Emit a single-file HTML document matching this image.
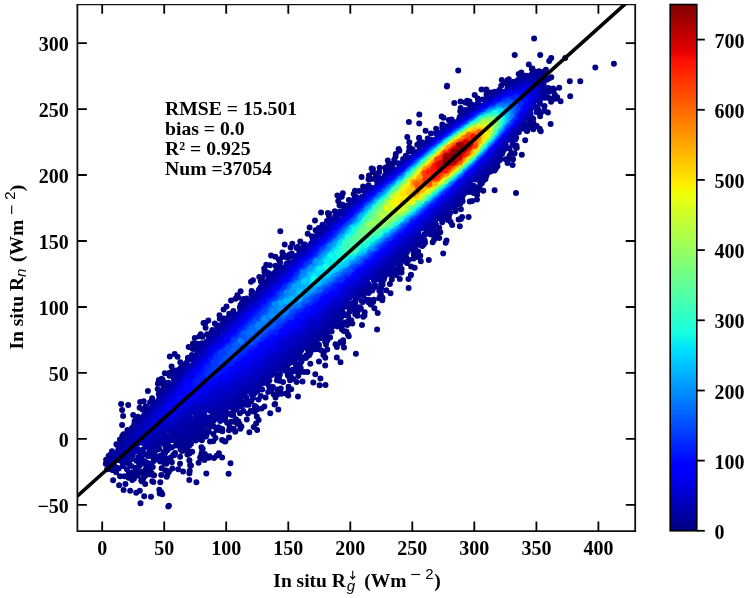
<!DOCTYPE html>
<html><head><meta charset="utf-8"><style>
html,body{margin:0;padding:0;background:#fff;width:748px;height:598px;overflow:hidden}
svg{display:block;will-change:transform;filter:blur(0.4px)}
text{font-family:"Liberation Serif",serif;font-weight:bold;fill:#000}
.tl{font-size:20px}
.ann{font-size:19.7px}
.lab{font-size:19.5px}
.sup{font-family:"Liberation Sans",sans-serif;font-weight:normal}
</style></head><body>
<svg width="748" height="598" viewBox="0 0 748 598">
<defs><linearGradient id="jet" x1="0" y1="1" x2="0" y2="0"><stop offset="0" stop-color="#000080"/><stop offset="0.11" stop-color="#0000ff"/><stop offset="0.125" stop-color="#0000ff"/><stop offset="0.34" stop-color="#00dbff"/><stop offset="0.35" stop-color="#00e5f7"/><stop offset="0.375" stop-color="#15ffe2"/><stop offset="0.5" stop-color="#7bff7b"/><stop offset="0.64" stop-color="#efff08"/><stop offset="0.65" stop-color="#f7f600"/><stop offset="0.66" stop-color="#ffec00"/><stop offset="0.89" stop-color="#ff1300"/><stop offset="0.91" stop-color="#e80000"/><stop offset="1" stop-color="#800000"/></linearGradient>
<clipPath id="pc"><rect x="77.4" y="4.5" width="557.8000000000001" height="526.5"/></clipPath></defs>
<g clip-path="url(#pc)">
<g stroke-width="6.0" stroke-linecap="round" fill="none"><path stroke="#000086" d="M595.3 67.5h0M613.9 63.7h0M569.8 81.2h0M580.3 81.2h0M570.2 96.2h0M565.2 58.1h0M534.1 38.6h0M514.7 55.1h0M540.2 55.1h0M551.2 58.1h0M549.2 61.1h0M559.2 87.8h0M557.2 97.2h0M560.6 101.2h0M550.6 123.9h0M168.9 505.7h0M113.1 480.3h0M119.1 485.3h0M130.2 490.7h0M136.2 492.7h0M144.2 496.3h0M141.8 481.3h0M152.2 481.3h0M160.3 482.3h0M161.3 492.3h0M162.3 494.3h0M168.3 506.4h0M146.2 474.3h0M165.3 470.2h0M178.3 469.2h0M189.4 473.2h0M196.4 482.3h0M120.1 476.3h0M116.1 472.2h0M107.1 469.2h0M121.1 404h0M122.1 410h0M123.1 416.1h0M122.1 425.1h0M128.2 405h0M133.2 415.1h0M134.2 425.1h0M140.2 402h0M516 193.1h0M458.2 70.5h0M228.6 473.8h0M123.6 490h0M280.3 231.3h0M447.1 85.7h0M325.5 385h0M446.9 86.5h0M140.5 503.2h0M408.9 122h0M230.5 463.2h0M419.3 114.6h0M355.9 353.8h0M377.1 329.4h0M319.6 385.2h0M206.3 473.4h0M419.2 123.5h0M443.2 253.4h0M189.3 480.1h0M408.6 288h0M320.4 378.6h0M540.8 131.2h0M169.8 356.5h0M151 496.7h0M159.7 493.6h0M340.5 362.3h0M222.1 457.5h0M494.6 190.2h0M159.3 489.8h0M407.3 136.9h0M337.4 195.5h0M313.3 382.6h0M249.4 432.3h0M284.7 244.4h0M214 457.9h0M454.3 103h0M428.8 260.1h0M216.6 455.7h0M377.7 312.9h0M271.1 255.4h0M257.1 430.1h0M371.6 168.6h0M298 396.4h0M174.7 354h0M361.6 177h0M372.9 169h0M539.8 129.7h0M468.6 217h0M445.7 242.8h0M218.9 453.3h0M539.7 128.8h0M147.9 390.9h0M481.5 89.6h0M336.8 357.4h0M209.5 456.2h0M344 347.6h0M208.8 457.7h0M125.4 483.9h0M204.5 460.1h0M325.2 365.5h0M198.6 462.7h0M315.3 374.2h0M205.5 322.7h0M459.8 226.2h0M342.8 193.2h0M521.8 154.7h0M446.5 240.4h0M512.6 165h0M278.3 409.4h0M203.5 323.1h0M528.8 64.6h0M321.1 212.6h0M190.1 465.2h0M139.8 490.7h0M408.5 278.9h0M189.7 470.8h0M362 325h0M410.9 275.2h0M256.1 423.4h0M208.3 320.6h0M253.7 426.9h0M398.6 149h0M555.2 98.8h0M460.5 101.6h0M183.1 471.4h0M302.5 381.5h0M225.4 441.4h0M161.6 378.8h0M395.8 153.9h0M536.8 125.9h0M275.4 256.8h0M288.3 395.5h0M270.2 413.3h0M513.1 159.3h0M202.4 458.4h0M282.4 252.4h0M547.9 112.6h0M372.7 171.9h0M420.8 261.3h0M341.8 196.7h0M441.6 116.6h0M231 300.4h0M153.3 481.9h0M460.9 218.9h0M266.3 264.7h0M554 97.5h0M382.3 300.2h0M315 220.4h0M200.1 457.6h0M191 465.6h0M341 342.8h0M285.8 393.4h0M343.2 342.2h0M166.7 476.8h0M167.4 474.8h0M258.6 420h0M348.8 336.3h0M414.7 267.8h0M462.1 217h0M409.3 142.2h0M177.5 356.7h0M390.5 293.3h0M201.3 454.2h0M369 175.5h0M387.8 160.5h0M224.8 441.6h0M411 274.8h0M145.2 483.9h0M237.3 295.3h0M240.6 291.2h0M525.2 140.3h0M551.1 101.8h0M425.6 130.8h0M533.3 129.3h0M325.3 357.8h0M379.7 167.8h0M275.1 404h0M501.8 80.1h0M307.4 372.1h0M343.1 340.2h0M291.2 389.2h0M139.6 407.7h0M223.6 309.4h0M399.4 150.8h0M264.2 268.6h0M157.9 383.5h0M296.6 382h0M229 437.6h0M204.9 453.9h0M143.7 401.2h0M158.9 379.9h0M477 199.5h0M274.5 404.4h0M545.9 69.8h0M240.3 428.8h0M319 361.6h0M288.6 390.2h0M379.3 298.3h0M364.5 315.5h0M467.1 100.8h0M171.6 366.4h0M253 280.2h0M161.2 474.9h0M474.7 95.1h0M486.3 89.4h0M465.3 102.6h0M226.5 306.6h0M419.1 137.7h0M336.9 347.1h0M219.5 315.2h0M251 281.7h0M374.4 308.2h0M335.5 344.2h0M189.4 460.7h0M172.4 468.5h0M194.8 338.1h0M338.2 201.1h0M340.6 341.9h0M222.1 440.1h0M205.6 327.8h0M554.8 94.8h0M382.5 297.8h0M164.8 373.2h0M347.9 334.6h0M235.5 298.7h0M363.3 316.8h0M269.8 265.3h0M261.6 408.6h0M399.8 279.1h0M284 255.3h0M307.3 372h0M256.8 416.6h0M168.9 471.7h0M189.4 460.3h0M241.4 426.6h0M309.6 227.6h0M540.1 116.3h0M200.8 334.2h0M514.6 153.4h0M141.2 480.6h0M180 463.7h0M298.2 375.9h0M518.7 73.9h0M292.3 243.8h0M233.7 428.8h0M385.5 167.6h0M375.6 173.8h0M521.3 72.5h0M239.6 423.9h0M235.2 431.7h0M364 315.4h0M162.5 379.4h0M483.3 190.7h0M395.6 156.6h0M143.1 478.8h0M419 137.9h0M166.8 470.7h0M411.1 266.5h0M458.6 219.5h0M106.1 459.7h0M202.1 451.3h0M188.7 347.1h0M439.2 238.1h0M123.5 434.3h0M105.8 463.8h0M215.5 438h0M544.5 110.8h0M364.7 312.3h0M394.3 159.7h0M507.5 163.1h0M389.9 283.9h0M202.7 448.8h0M277.4 394.4h0M132.4 479.2h0M373.1 302h0M290.6 247.5h0M531.9 69.3h0M452.2 224.9h0M288.5 386.7h0M420.3 255.7h0M132.3 480h0M508.8 79.3h0M281.3 393.8h0M346.3 331.5h0M264.4 406.4h0M120 439.6h0M264.4 272.1h0M116.4 444.2h0M368.5 179.2h0M532.4 68.4h0M192.2 451.8h0M327.3 349.5h0M201.4 447.3h0M472.2 201h0M259.3 277h0M199.5 336.2h0M237.5 423.8h0M136 417.3h0M238.2 297.5h0M246.8 419.5h0M278.9 259.8h0M443.5 117.8h0M323.4 354.9h0M327.9 213.1h0M386.3 290.2h0M154.1 475.3h0M532.2 127.5h0M304 371.9h0M507.7 160.2h0M380.9 293.4h0M253 411.5h0M380.2 295.9h0M180.1 456.8h0M144.1 475.9h0M533.5 123h0M540.5 113.5h0M275.5 397.5h0M352.3 323.5h0M137.8 475.4h0M108.6 456.1h0M310.3 363.8h0M432.7 242.2h0M213.2 441.3h0M355 190.7h0M169.6 375h0M122.3 436h0M516.8 147.7h0M112.3 469.9h0M257.4 409.3h0M418.7 254.9h0M193 343.5h0M229.6 427.1h0M343.8 331.1h0M307.7 233.8h0M477.1 195.1h0M145.2 476h0M293.1 378.9h0M460.7 108h0M450.7 222.1h0M128.5 477.7h0M229 430.2h0M189.2 452.7h0M127.4 476.8h0M503.9 83.1h0M323.8 353.1h0M171.9 462.3h0M409.3 147.3h0M440.3 232.2h0M222.4 431.2h0M486.7 92.4h0M469.8 201.4h0M266.3 272h0M516.5 145.8h0M522 74.6h0M388.8 164.2h0M468.3 103.6h0M254.7 411.7h0M339.5 205.2h0M189.5 453.6h0M553.8 90h0M373.8 299.7h0M142.5 409.5h0M469.5 101.6h0M434 239.7h0M157.7 389h0M477.8 190.7h0M238.3 421.3h0M137.1 472.6h0M347.2 325h0M363.1 186.5h0M112 451.3h0M161.6 468.2h0M229.3 429.7h0M210 441.6h0M298.3 372.8h0M141.3 471.7h0M152.8 467.1h0M187.4 454.5h0M387.2 166.8h0M133.9 478.8h0M401.5 272.5h0M368.8 302.4h0M152.1 398.2h0M370.7 304.4h0M329.1 213.5h0M543.5 72.3h0M393.1 163.6h0M291.1 378.2h0M169.2 373h0M334.8 211.2h0M134.6 421.1h0M151.6 472.9h0M379.2 172.1h0M507.8 79.9h0M282.3 256.9h0M150.6 474.6h0M132.4 472.2h0M416.8 256.9h0M357.6 315.7h0M115.3 471h0M436.2 237.5h0M188.3 451.1h0M256.4 408.1h0M328.8 215.6h0M435.9 236.3h0M326 344.5h0M516.1 148h0M551.3 77.3h0M399.2 272.5h0M544.5 106.1h0M180.3 362.2h0M340.6 204.8h0M233.6 421.8h0M509.5 155.8h0M219.8 318.8h0M163.5 381.8h0M262.4 277.4h0M138.8 472.8h0M371.1 179.1h0M299 373h0M248 413.4h0M347 324.1h0M438.2 233.6h0M111.2 469.5h0M202.4 336.7h0M357.2 315.8h0M501.2 85.8h0M300.3 241.6h0M406.9 263.1h0M417.3 144.7h0M192.8 349h0M413.7 258.6h0M526.8 131h0M200.8 434.9h0M124.4 476.2h0M553.1 88.5h0M473.9 193h0M391.8 279.6h0M145.9 406.3h0M527.2 131h0M127.4 430h0M477.8 98.6h0M290.8 376.3h0M527.8 128.7h0M495.7 169.1h0M544.3 106.3h0M353.7 194.1h0M265.6 397.5h0M109.3 466.4h0M321.5 350.6h0M187 450.7h0M412.5 149.2h0M347.8 321.8h0M220.7 429.2h0M341.8 204.5h0M132.4 473.8h0M360.8 308.8h0M442.3 124.5h0M170.8 457.5h0M172.3 371.2h0M511.2 152.7h0M218.7 430.1h0M290 380.2h0M538.5 110.1h0M280.8 388.4h0M273.8 394.4h0M134.5 472.4h0M275.5 265.8h0M413.8 255.2h0M184.6 447h0M166.3 463.7h0M182 450.9h0M239.9 413.3h0M256.1 406.9h0M129 474.4h0M490.5 92.4h0M310 353.4h0M549.2 91.7h0M418.9 143.6h0M130.3 474.2h0M109.3 457.8h0M250.7 410.7h0M169.5 375.7h0M166.7 461.4h0M395.9 275h0M289.3 377.2h0M548.7 98h0M341.7 327.6h0M132 428.1h0M164.5 463.6h0M201.9 440.3h0M235.9 419.2h0M494.5 170.5h0M277.3 389.5h0M214.8 323.6h0M543.8 71.8h0M141.3 472.1h0M528.8 123.6h0M233.4 310.9h0M196.1 343.9h0M460.9 209.3h0M327.3 340.6h0M377.2 175.2h0M300.7 368.1h0M483 99.5h0M128.9 472.8h0M436.1 128.8h0M551.8 89h0M497.5 166.3h0M431 133.4h0M342 329.5h0M187.8 445.7h0M505.7 159.2h0M145.4 469.7h0M189.3 441.6h0M255.4 408.9h0M348.9 200.1h0M460.2 111.3h0M152.1 399.7h0M486.5 94.5h0M315.6 230.2h0M136.8 418.6h0M351.3 320.2h0M439.2 227.8h0M408.8 151.5h0M230.9 421.8h0M150.8 468.1h0M415.7 250.3h0M135.1 472.4h0M359 191h0M222.2 428.9h0M174.4 453.9h0M175 452.9h0M227.1 422.8h0M424.5 243.1h0M147.9 470.6h0M368.6 185.2h0M216.6 429.7h0M194.3 347h0M398.7 271h0M549.6 91h0M267.9 274.4h0M355.2 314.3h0M137.9 416.7h0M189.1 445.7h0M260.7 281.2h0M110.6 454.6h0M292.4 370.1h0M260.8 396.1h0M385.7 169.2h0M343.2 205.1h0M251.6 291.1h0M163.3 385.4h0M138.4 471.3h0M375.5 177.8h0M366.4 299.7h0M490.5 92.5h0M267.6 274.1h0M363.9 187h0M544.4 73.8h0M539 71.3h0M198.6 438.9h0M375.1 179.1h0M485.5 179h0M330.1 337.4h0M182.6 449.6h0M213.4 433.9h0M479.6 186.4h0M481.8 183.2h0M207.1 334.3h0M145.9 469.2h0M342.8 205.9h0M527.9 125.2h0M117.9 445.2h0M287.8 375.2h0M135.7 467.8h0M110 461.2h0M356.6 308h0M164.5 456.1h0M286.9 257.5h0M533.2 118.7h0M200.9 434.7h0M377.3 177.1h0M173.2 455.1h0M325.2 341.7h0M401.6 269.1h0M368.8 299.8h0M325 338.9h0M357.7 311.3h0M520 76.4h0M289.6 255.3h0"/>
<path stroke="#000092" d="M283.1 381.9h0M163.5 460.5h0M293.7 371.3h0M359.7 307.3h0M297.9 246.8h0M296.6 247.9h0M190.9 444h0M269.9 389h0M223.6 318.4h0M379.3 290.7h0M269.1 273.2h0M382.6 284.6h0M262.5 282.6h0M358.4 307.9h0M243.3 299h0M254.8 406h0M536.4 72.1h0M298.5 366.9h0M206 436.4h0M198.3 343.7h0M318.8 227.9h0M268.2 391.9h0M360.4 307.7h0M289.6 254.6h0M167.5 458.9h0M128.2 432.8h0M184.8 442.7h0M535.4 71.7h0M418.1 251.6h0M322.5 224.7h0M233.3 415.6h0M111.6 453.9h0M116.5 467.7h0M150.1 402.2h0M420.1 245h0M381.1 288.4h0M206.4 435.2h0M471.8 104.7h0M194.5 438.4h0M527.1 127.9h0M144.1 409.1h0M271.4 389.9h0M314.8 349.3h0M208.7 431.8h0M310.8 351.1h0M395.1 270.9h0M326.7 339h0M400.1 263.9h0M434.9 231h0M146.6 464.5h0M395.7 272h0M161.6 455.7h0M455.4 211.2h0M309 350.9h0M422 142.3h0M312.8 237.1h0M147 465.8h0M341.3 326.6h0M301.1 362h0M243.3 410.9h0M280.1 262.2h0M289.5 374.2h0M118.7 468.4h0M289.5 371h0M442 220.3h0M305.9 357.9h0M451.6 119.6h0M448.9 119.9h0M300.5 363h0M339.1 326.1h0M187.6 440.4h0M229.2 313.8h0M153.7 461.1h0M403.8 260.1h0M186.2 446.5h0M160.2 461.6h0M242.1 302.6h0M390.5 168.3h0M400 266.2h0M295.6 363.8h0M395.1 269.2h0M379 177.7h0M499.3 89.9h0M156.4 458.1h0M465.7 109.9h0M529.7 120.7h0M538.1 72.1h0M216.4 325h0M152.9 402.4h0M151 463.4h0M448.9 217.3h0M126.9 469.3h0M326.9 221h0M154.6 455.3h0M394.2 272.6h0M318.2 349.2h0M319 346h0M118.5 468.3h0M174.3 454.9h0M158.7 393.9h0M288.2 257.8h0M336.2 215h0M293.1 369.6h0M127.7 434.1h0M134.6 423.8h0M218.5 427.2h0M155.2 458.2h0M367.4 300h0M258.6 399.6h0M181.7 365.1h0M229.7 314.9h0M532.6 74.6h0M409 259.8h0M500.1 159.7h0M483.4 180.6h0M423.6 244.6h0M345.3 322.6h0M301.6 361.2h0M447.9 219.9h0M295.9 363.9h0M391 274.8h0M181.9 449.2h0M201.9 434h0M276.5 269.8h0M201.1 434.6h0M308.4 351.9h0M379.9 279.8h0M196.8 438.6h0M497.6 161.6h0M306.2 355.4h0M287 256.5h0M180.3 368.4h0M195.7 440.5h0M462.6 201.2h0M307.8 355.9h0M311.2 350.3h0M323.1 338.6h0M328.7 220.3h0M385.9 171.1h0M442.2 128.1h0M145.3 411.2h0M204.2 436.7h0M545.6 95.5h0M175.7 370.4h0M420.3 143.5h0M522.9 128.4h0M175.9 370.7h0M279.4 380.7h0M276.9 380.3h0M548.9 78.5h0M443.1 126.5h0M373 288.6h0M295.7 367.9h0M208.6 430.5h0M299.3 357.9h0M327.4 336.5h0M494.5 91.7h0M148.6 408.5h0M180.5 449.3h0M455 208.4h0M353.4 308.9h0M314.5 344.3h0M177.5 370.6h0M164.1 452.8h0M329.8 220.7h0M382.5 282.3h0M508.1 84.4h0M517.9 79.9h0M246 403.4h0M220.2 421.1h0M509.5 148.6h0M197.5 347.8h0M362.9 301.9h0M348.1 316.1h0M231.7 415h0M449.9 212.9h0M187.9 358.5h0M309.8 351.7h0M138.8 462.7h0M491 171.3h0M122.8 466.1h0M309 355.3h0M331.6 331.6h0M413.1 251.1h0M142.6 463.7h0M173.1 376.2h0M225.2 420.1h0M486.5 175.6h0M480 181.8h0M406.1 257.2h0M288.4 370.6h0M407.4 259.2h0M137.3 422.5h0M386.1 274.4h0M294.2 360.9h0M491.8 170.2h0M329.6 331h0M285 370.7h0M472.4 192.3h0M545.1 95.3h0M396 269.5h0M223.3 319.6h0M272.9 387.1h0M430.4 233.3h0M161.3 458.9h0M111.5 464.2h0M146.2 412.1h0M422.3 246.1h0M212.4 330.1h0M388.8 170.4h0M463 112.3h0M367.5 289.7h0M168.3 382.7h0M384.7 276.4h0M526.2 75.8h0M336.4 213.7h0M204.2 431.3h0M536.6 112.2h0M240.6 305h0M378.8 178.6h0M287 367.8h0M368.6 293.1h0M432.9 229h0M211.6 422.1h0M337.5 326.4h0M110.2 463.3h0M279.5 266.6h0M248.6 404.8h0M160.5 394.1h0M277.4 375.2h0M309.9 351.2h0M278.9 378.1h0M403.1 260.3h0M146.9 462.7h0M125.5 437.9h0M512.6 144.8h0M191.9 355h0M112.9 466.7h0M194.9 433.4h0M210.5 334.5h0M111.7 456.3h0M366.8 188.6h0M544.7 75.3h0M312.7 237.9h0M497.6 162.3h0M520.4 77.6h0M379.1 177.8h0M450.1 121.3h0M213.6 426.4h0M492.6 168.9h0M427.7 138.4h0M279.9 374.5h0M159.1 394.7h0M299.1 356.3h0M298.7 357.2h0M189.7 440h0M200.2 434.1h0M162.8 392.7h0M354.9 197.7h0M531.6 74.6h0M424.7 240.5h0M184.2 364.5h0M268.2 275.5h0M301.5 357.3h0M159.9 457.7h0M178.6 370h0M425 234.7h0M160.7 455.5h0M277.4 378h0M393.6 169.1h0M548.6 88.5h0M318.9 344.7h0M496.3 166.6h0M361.6 301.1h0M251.3 400.9h0M251.5 294.4h0M521.8 78h0M220.8 420.6h0M200.1 431h0M493.4 169.1h0M259.1 289.6h0M229.2 413.7h0M430.7 234.5h0M183.9 441.8h0M498.7 160.7h0M425 242.4h0M423.6 143.3h0M140.1 419h0M198.4 436.2h0M181.9 366.3h0M241.5 401.4h0M442.2 222.3h0M153.3 402.5h0M491.1 170.5h0M153.7 460.3h0M155.1 455.5h0M162.4 390.6h0M209.3 425.8h0M139.2 466h0M225.6 318.4h0M346.9 205.8h0M496.5 164.9h0M334.6 217.5h0M375.6 286.4h0M343.6 315.1h0M352.7 306.8h0M252 292.5h0M308.7 352.4h0M269.4 380.4h0M127 462.1h0M188.3 359h0M474.2 188.5h0M219.3 416.8h0M129.6 433.1h0M457.7 204.3h0M405.8 155.8h0M198.9 345.7h0M356.3 197h0M172.9 439.9h0M478 102.5h0M291.8 253.6h0M253 398h0M268.8 385.7h0M383.8 279.5h0M529.2 75.9h0M548.2 87.9h0M165.3 452.5h0M349.5 311.7h0M448.3 211.6h0M211.3 332.5h0M446.3 215h0M339.9 211.6h0M372.9 286.9h0M165.7 445.7h0M167.4 450.2h0M531 117.3h0M309.1 348.6h0M246.5 298.5h0M518.8 132.3h0M335.1 216.4h0M544.8 97.7h0M514.7 137.4h0M381.2 284h0M422 241.9h0M513.5 81.8h0M176.5 442.9h0M464.1 111.6h0M474.5 186.8h0M187.9 357.8h0M541.1 79.3h0M539.9 103.7h0M202.1 343.3h0M317.2 233.1h0M494.9 94.6h0M468.3 191.9h0M131.2 465.9h0M394 264.7h0M152.7 405.9h0M488.8 172.3h0M529.1 77.3h0M155.8 459.4h0M211.1 335.9h0M142.9 453h0M176 445.4h0M188.7 440.1h0M470.3 107.2h0M138.7 457.4h0M363.9 190.7h0M164 452.1h0M173.7 378.6h0M472.9 189h0M181.9 371.3h0M350.2 307.9h0M137.7 422.2h0M547.7 90.5h0M494.5 166.1h0M311.8 236.2h0M165.1 450.9h0M240.1 405.9h0M219.1 327.8h0M341.1 317.4h0M119.1 447.3h0M386.9 173.8h0M512.2 82.4h0M245.2 301.2h0M460.2 203.7h0M398.3 163.2h0M114.2 465h0M170.5 447.7h0M423.7 143h0M403.1 159.1h0M547.4 89.7h0M470.2 109.3h0M277 272.1h0M330.9 219.7h0M316.7 342.4h0M141.4 457.4h0M423.7 239.6h0M286.9 371.4h0M457.5 203.8h0M318.9 338.5h0M401 262.3h0M118.9 459.9h0M373 287.6h0M126.9 461.1h0M144.8 461.3h0M372.3 290.4h0M180 443.5h0M323.4 332.5h0M145.2 454.6h0M377 181.2h0M413.9 247.9h0M354.6 304.8h0M343.5 313.6h0M148.3 456h0M458.2 203.7h0M449.8 213.6h0M538.6 74.4h0M153.2 454.8h0M353 309.7h0M505.1 148.6h0M307.3 348.7h0M230.8 315h0M352.8 306.8h0M286.4 364h0M253 292.5h0M335.9 215.3h0M326.8 332.5h0M529.1 75.7h0M184.8 436.7h0M363.5 295.2h0M145.7 411.7h0M222.2 324.2h0M212.4 333.6h0M286.6 368.4h0M128.3 463.3h0M461.7 112.7h0M266.3 381h0M326.2 334.5h0M499.4 91.4h0M141.4 460.7h0M152.1 403.8h0M121.9 444.2h0M214.6 418.9h0M415.3 245.3h0M198.4 349.8h0M529.1 119.5h0M340.1 321.7h0M417.6 244.6h0M209.4 421.4h0M327.1 330.9h0M214.9 331.1h0M300.7 250.4h0M345.3 315.1h0M196.1 433.6h0M179.1 439.7h0M323.6 334h0M233 407.7h0M443.7 216.7h0M352.3 303.8h0M355.1 303.4h0M499.3 160.4h0M171.9 447.2h0M326.7 331.2h0M110.9 459.2h0M444.4 218.4h0M151.6 455.9h0M406.9 252.3h0M484.9 177.1h0M375.5 286.4h0M112.3 461.2h0M228 413.2h0M502.3 153.6h0M262.7 286.6h0M136.4 460.7h0M176.7 443h0M500.2 158.1h0M486.9 170.4h0M271.6 275.5h0M262.1 288.2h0M349.9 309.2h0M225.3 417.4h0M443.3 129.1h0M282 366.8h0M337.5 319.1h0M353.7 199.8h0M255 392.8h0M178.4 440.6h0M413.6 153h0M266.9 282.1h0M265.9 383h0M546.8 79.7h0M179.1 438.6h0M419.9 147.1h0M433.5 229.6h0M117.4 454.5h0M246.1 404.8h0M202.8 429.1h0M238.7 401h0M192.2 356.1h0M197.1 350.4h0M436 133.2h0M338.1 213.4h0M237.3 404.4h0M181.3 435.4h0M528.1 76.9h0M141.6 462.6h0M199.6 430.7h0M497.8 156.8h0M480.1 179.6h0M303.9 244.5h0M450.9 121.4h0M126.2 460.8h0M144.1 415.1h0M366.6 188.9h0M236.7 409.4h0M167.9 443.6h0M177.8 442.3h0M545.3 79.8h0M369.1 286.2h0M530.4 76.4h0M279.5 375.6h0M415.1 246.2h0M187.4 438.1h0M388.9 268.6h0M322.9 334.6h0M367.5 291.6h0M176.6 439.7h0M312.7 341.4h0M137.5 460.7h0M512.3 139.4h0M266.6 382.1h0M156.2 449.1h0M209.4 336.4h0M218.6 415.9h0M155.5 450.7h0M161 443.6h0M233 412.5h0M454.6 206.3h0M125.2 440h0M270.2 277.2h0M138.2 457.2h0M242.5 396.1h0M253.6 294h0M201.4 346.2h0M340.2 317.9h0M283.2 368.3h0M180.4 369.3h0M213.1 332.2h0M126.9 460.2h0M305 244.5h0M177.9 373.7h0M308.7 347.3h0M186.2 363h0M332.7 326.3h0M165.4 446.1h0M365.6 292.5h0M500.7 155.4h0M339.8 320.7h0M516.2 137.8h0M286.8 364.8h0M196.8 433.9h0M427.4 142.6h0M544.1 79.2h0M521.3 127h0M472.5 186h0M434.7 222.5h0M353 201.8h0M413.8 153.3h0M315.3 340.3h0M162.1 392.3h0M261.2 382.7h0M252 394.6h0M153.4 405.6h0M187.3 434.3h0M337.4 321.9h0M199.9 349h0M274.9 272.4h0M254.2 393.4h0M179.4 370.5h0M290.6 362h0M514.7 134h0M246.7 401.6h0M444 216.6h0M545.1 89.1h0M489.6 166.8h0M399 164.7h0M487 171.9h0M404.2 257h0M209.4 340.1h0M403.2 258.3h0M361.8 294.4h0M254.5 393.3h0M153.4 405.3h0M495.8 158.3h0M446.3 126.2h0M536.7 107.2h0M382.7 279.5h0M192.4 429.1h0M224.9 409.4h0M216.4 416.2h0M135.9 427.5h0M459.5 118.1h0M212.5 423.1h0M301.1 248.8h0M357.1 198.5h0M197.9 427.1h0M310.2 344h0M154.6 448.6h0M375 285.1h0M502.1 152.9h0M242.9 405h0M478.4 178.5h0M217.6 328h0M155 447.7h0M459.7 117h0M491.4 168.3h0M270.5 277.8h0M468 187.3h0M167.2 445.2h0M442.2 215.9h0M286.6 367h0M367.1 287.5h0M454.2 122.1h0M190.5 436.4h0M311.5 348h0M365.6 287.8h0M399.2 164.7h0M395.5 262.9h0M160.9 396.4h0M221.2 414.3h0M284.3 368.4h0M150.9 408.5h0M544.5 93.8h0M149.2 410.5h0M359.1 295.5h0M369.7 285.7h0M129 462.7h0M239.8 307.2h0M206.7 341.5h0M197.7 432.8h0M321.9 334.2h0M122.4 462h0M459.7 199.8h0M515.1 139.8h0M252.4 296.3h0M238 401.8h0M437.8 133.3h0M213.6 332.4h0M380.9 277.3h0M213.8 420.4h0M161.8 442.6h0M290.6 362.6h0M215.5 330.1h0M126.6 439h0M312.7 239.6h0M236.2 402.6h0M149.4 451.2h0M523.1 122.1h0M181.8 437.4h0M318.7 337h0M322.1 230.4h0M217.1 413.1h0M440.7 215.5h0M468.9 111.9h0M262.2 389.6h0M118.4 448.3h0M142.4 417.4h0M286.9 365.3h0M415 241.3h0M148.1 410.9h0M171.5 433.7h0M469.2 110.2h0M159.2 448.9h0M335.6 216.4h0M131.6 457.3h0M192.6 428.6h0M317.6 335.2h0M523.2 79.6h0M281.8 267.2h0M167.8 386.5h0M448.2 127h0M352.8 308.5h0M227.1 321.2h0"/>
<path stroke="#00009e" d="M340 212.2h0M290.5 358.8h0M313.4 340h0M339.1 213.5h0M252.8 392.5h0M436.1 225.1h0M196.9 430.8h0M168.1 438.7h0M207.7 343.3h0M424.6 233.9h0M196.2 424.7h0M177.3 373.1h0M253.8 295.7h0M300.5 351.5h0M260.7 286.9h0M329.1 327.4h0M356.9 297.5h0M542.4 95.5h0M475.7 105h0M205.7 425.4h0M345.3 306.8h0M139.6 422.9h0M405.3 254.7h0M213.5 420.3h0M267.8 280.6h0M505.8 145.2h0M173.3 438.7h0M402.5 255.3h0M385 176.3h0M406.4 250.4h0M500.6 91.4h0M397.4 260.3h0M319.7 232.2h0M294.6 255.9h0M226.7 322.2h0M384.7 175.7h0M178.8 371.7h0M517.7 82.6h0M393 266.5h0M382.4 276.9h0M356 199.6h0M389.7 269.9h0M476.7 177.7h0M462 198.9h0M530.8 77.3h0M153.7 406.5h0M255.1 391.1h0M225.7 408.9h0M183.4 436.9h0M223 415.4h0M116.6 459.8h0M204.1 423.1h0M153 448.2h0M381.2 275.8h0M128.5 459.6h0M162.9 394.2h0M477.5 178.2h0M141.1 457h0M172.3 435.2h0M280.8 365.6h0M116.7 452.5h0M175.6 376h0M189.3 434.4h0M279.1 271.7h0M260 388.3h0M240.4 401.2h0M228.3 405.5h0M220.7 414.9h0M199.4 425.7h0M385.7 176.1h0M186.4 432.4h0M165.9 442.4h0M341.6 313.6h0M293.9 257.8h0M119 453h0M437.6 134.3h0M128.2 437.7h0M428.8 140.5h0M488.4 98.1h0M186.8 365h0M265.5 380.1h0M475.5 106.5h0M239.7 403.4h0M484.8 172h0M539.6 98.8h0M340.3 212.1h0M466 191.5h0M353.2 202.6h0M254.9 387.4h0M539.6 100.7h0M175.2 435.6h0M219.3 410.9h0M169.6 384.7h0M507.5 87.9h0M239.2 401.1h0M496.7 159.5h0M388 267.5h0M137.4 424.8h0M170.1 437.5h0M227.3 406.5h0M539.6 100.7h0M365.5 191.7h0M343.1 211.3h0M230.5 407h0M255.8 295.7h0M444.4 212.1h0M358.8 295.6h0M172.7 435.4h0M361.9 197h0M321.3 333.2h0M165.3 439.8h0M540.1 99.9h0M490.7 164h0M120.6 446h0M327.2 325.8h0M127.1 438.4h0M132.8 454.8h0M128.9 457.6h0M231.6 318.4h0M530.5 114.3h0M204.4 345.2h0M375.7 279.4h0M382.6 276.8h0M295.9 358.5h0M239.5 401h0M246.1 390.8h0M211 338.4h0M131.6 431.8h0M463.1 194.8h0M426.8 230.2h0M162.9 439.7h0M143.3 419h0M221.4 325.2h0M536.7 77h0M350.7 204.8h0M128.9 438.7h0M122.2 446.7h0M539.8 76h0M133 451.1h0M350 303.9h0M209.1 338h0M281.1 369.2h0M335.3 316.4h0M450.9 207.6h0M155 445.6h0M513.3 85.2h0M538.4 76.7h0M288.5 363.8h0M306.5 345.7h0M263.5 289.5h0M314 237.6h0M190.4 430.7h0M262 383.6h0M159.3 398.5h0M544.1 93.2h0M156.7 443.7h0M310.3 337.9h0M545.9 79h0M127.8 459.4h0M192.1 359.2h0M215.6 414.1h0M458.1 199.4h0M396.3 262.1h0M464.4 193.3h0M404.2 251.1h0M502.3 151h0M234.2 314h0M341.8 310.4h0M485 100.3h0M529.3 113.3h0M238.8 404.3h0M250.7 392.5h0M336.7 216.8h0M296.5 354.2h0M351.2 203.9h0M177.2 434.2h0M182.8 435.5h0M462.2 196.6h0M209.2 339.9h0M231.6 317.8h0M266.1 378.1h0M330.9 322.6h0M219.4 416.7h0M336.1 322.6h0M224.2 323.2h0M368.7 189.6h0M330.7 320.4h0M509.8 86.4h0M220.2 330.8h0M421.5 238.7h0M465.9 113h0M529.9 111.4h0M439.1 133h0M399.6 259.1h0M152 448.9h0M113.7 458.7h0M197.2 353.8h0M271.9 374.9h0M457.3 196.8h0M222.3 409.6h0M238 398.1h0M200.4 419.8h0M318.4 233.4h0M172.1 437.7h0M378.9 182.5h0M289 262.9h0M316.3 336.4h0M300.9 251.1h0M291.1 354.7h0M439.1 218.3h0M353.9 200.8h0M381.7 275.1h0M353.3 302.5h0M185.8 431.5h0M149.9 447.2h0M169.1 439.5h0M260.2 384.6h0M205.4 417.4h0M417.1 240h0M244.8 396.2h0M196.6 422.7h0M303.3 250.5h0M231 403.9h0M325.6 227.3h0M492.2 163.1h0M163.6 395.1h0M187.4 364.4h0M520.8 80.8h0M164.6 439.8h0M217.5 331.2h0M205.8 417.4h0M336.7 315.7h0M441.7 213.7h0M140.7 453h0M199.9 349h0M507.6 87.5h0M258.8 290.8h0M392.8 171.7h0M208.4 417.6h0M335.5 217h0M475.6 107.8h0M473.5 185.7h0M479.7 176.4h0M341.3 213h0M324.4 228.4h0M213 337.2h0M387.1 271.6h0M158.2 400.5h0M386.6 267.8h0M138 426.7h0M253.2 389.6h0M377.1 185.2h0M393.6 260.4h0M159.7 443h0M352.7 202.3h0M278.7 272.2h0M409.3 248.1h0M355.6 199.2h0M134.9 450.8h0M147.9 446.5h0M183.5 371.6h0M273.3 275.8h0M198.8 421h0M281.2 270.2h0M530.1 113.7h0M197.2 419h0M360.2 289.9h0M257.6 390.9h0M263.4 379.7h0M191.7 359.5h0M233.5 404.1h0M469.9 112.2h0M130.9 434h0M155.9 444.4h0M260.8 383.5h0M329.1 324.6h0M192.5 358.7h0M449 210.7h0M166.7 436.6h0M182.1 370.8h0M464 191.2h0M146.8 416h0M412.3 245.3h0M270.2 374.8h0M522.8 123.7h0M395.9 259.4h0M490 166.3h0M312.1 337.7h0M539.4 77.9h0M521.9 80h0M311.9 337.8h0M196.5 414.8h0M493 96.9h0M365.6 288.6h0M225.4 407.6h0M342.4 312.6h0M170.5 439.9h0M202 423.7h0M479.8 105.5h0M543.1 89.2h0M221.9 409.2h0M131.7 456.8h0M430.2 225.4h0M209.6 340h0M251.9 393.9h0M136.5 427h0M124.5 445.5h0M326.6 325.8h0M159.5 443h0M333.2 220h0M197.7 352h0M177.7 436.3h0M325.7 327h0M153 444.4h0M150.2 445.7h0M334.4 319.1h0M327.4 227.9h0M431 140.5h0M117.4 454.4h0M242.9 394.9h0M430.3 229.4h0M205.9 344.2h0M234.1 402.7h0M373.9 280.5h0M382.2 269.2h0M246.4 397.6h0M259.9 383.1h0M121.4 461.1h0M189.9 418.7h0M270.2 374.4h0M138.9 449.9h0M171.4 432.9h0M373.9 278.5h0M330.8 320.1h0M384.1 271.8h0M393 171h0M328.1 324.7h0M200 350.9h0M216 331.9h0M328.9 227.1h0M543.3 87.6h0M175.5 377.4h0M174.3 381.1h0M387.8 266.1h0M310.3 341.9h0M254.8 386.5h0M540.7 86.2h0M403.2 161.8h0M330.5 224.4h0M152.6 439.3h0M341.7 309.2h0M149.8 412.7h0M199.7 422h0M182.4 429.6h0M290.2 357.7h0M183.4 428.1h0M398.1 254.9h0M282.8 268.8h0M368.2 189.1h0M224.7 407.9h0M217.6 334h0M162.5 439.4h0M221.7 410.1h0M151.8 445.6h0M157.5 403.2h0M265.7 285.1h0M279.3 271.6h0M152 445.2h0M463.5 192.7h0M418.9 235.5h0M431.9 140h0M301.7 250.8h0M233 402.7h0M355.6 295.9h0M215.6 408.4h0M466.4 188.8h0M196.2 355.4h0M435.2 222.8h0M236.9 396.1h0M224.7 413.4h0M334.9 317.8h0M131.2 459.3h0M319.4 332.5h0M354.9 294.5h0M355.7 300.1h0M484 169.3h0M293.6 357h0M274.4 373.4h0M482.1 173.5h0M433.6 223.5h0M200.8 422.5h0M161.9 442.7h0M285.3 362.5h0M508.4 87.7h0M242.6 394.7h0M287.7 358.4h0M308.5 341.8h0M325.9 229.1h0M171.1 386.6h0M152.1 441.5h0M425.4 145.2h0M403.2 250.1h0M408.7 157.6h0M279.7 368.5h0M301.3 349.9h0M542.9 83h0M262.1 380.8h0M433.9 222.5h0M453.7 123.3h0M159.7 399.9h0M175.3 428.8h0M226.6 406.3h0M363.4 288.5h0M453.8 203.5h0M244.2 394.5h0M334.6 317.1h0M270.1 281.8h0M528.5 78.6h0M261.2 291.2h0M432.2 225.2h0M468.6 185h0M434.3 223h0M320.5 330.6h0M304.2 345.9h0M254.1 299.9h0M316.4 335.6h0M300.1 253.1h0M145.7 446.8h0M503.5 150.1h0M173.7 430.2h0M155.9 404.2h0M333.6 318h0M303.2 347.5h0M299.2 256.6h0M460.8 117.6h0M144.5 443.8h0M454.1 201.7h0M489.8 164.1h0M300.6 253.5h0M183.1 373.2h0M280.8 272.6h0M503.5 150.5h0M135.6 429.7h0M417.6 151.8h0M386.1 175.6h0M171.4 432.2h0M539.8 99.2h0M327.5 322.3h0M126.2 441.4h0M526.9 115.2h0M396 260.2h0M517.2 84.6h0M166.9 390.7h0M375.5 278.9h0M135 450.9h0M229.2 323h0M331.8 316.9h0M250.2 300.8h0M254.2 389.1h0M487.7 165.5h0M540.6 90.6h0M274 372.6h0M197.1 422.5h0M179.1 377.5h0M272 279.6h0M143 449.5h0M162.2 437.2h0M120.4 448.8h0M404.4 248.9h0M286.5 263.8h0M514.5 133.5h0M473 109.8h0M151 409.5h0M247.1 302.9h0M452.5 124.7h0M282.8 361.8h0M222.9 408.6h0M116.2 457.8h0M515.5 129.1h0M128.1 442.9h0M306.2 342.4h0M259.3 383.7h0M376 276.6h0M308 343.1h0M342.4 212.8h0M182.9 432.3h0M324.4 230.4h0M200 421.6h0M495 158h0M315.2 239.4h0M270.8 373.5h0M277.6 365h0M202.6 419h0M287.6 266.2h0M166.9 435.7h0M223.5 410.6h0M503.8 144.1h0M492.5 97.2h0M413.9 241.5h0M299.2 253h0M259.9 383.2h0M412.3 247h0M152.5 407.9h0M228.4 322.8h0M253.2 389.2h0M367.7 190.4h0M136.5 432.5h0M406.2 162h0M336.3 314.7h0M256.8 294.9h0M253.4 299.2h0M479.8 173.6h0M461.7 117.7h0M475.5 179.4h0M510.2 135.9h0M125.6 444h0M388.8 173.4h0M167.4 390.7h0M462.5 192.1h0M162.3 439.2h0M212.4 415.8h0M499.4 94.9h0M226.9 403.3h0M355.4 299.2h0M229.5 323.7h0M446.8 128h0M204.2 421.1h0M447.6 127.8h0M331.4 223.7h0M157.2 442.1h0M265.1 285.9h0M363.9 289.2h0M193.8 423.7h0M333.3 221.1h0M172.5 430.7h0M479.4 173.7h0M248 390h0M530.3 78.6h0M368.1 283.6h0M419.5 150.3h0M479.6 174.9h0M355.6 295.3h0M329 225.8h0M262.3 380.2h0M312.3 334.9h0M144.6 443.2h0M144.7 420.1h0M366 283.3h0M289.9 263h0M519.1 127h0M236 396h0M173.8 383.5h0M439 212.8h0M319.8 332.6h0M539.3 83.2h0M252 300.5h0M405.8 247.6h0M355.8 295.9h0M299.2 347.9h0M479.5 173.4h0M244.2 394.1h0M378.6 275.6h0M459 119.9h0M211.7 337.8h0M126.2 458.1h0M540.9 90h0M478.5 173.5h0M500.8 153.8h0M510.4 137.6h0M223.6 326.8h0M265.2 376.5h0M260.3 384.1h0M537 82.5h0M183.7 423.6h0M250.2 302.4h0M473.9 109.7h0M254.8 383.9h0M459.4 193.7h0M228.8 325.7h0M422.8 147.5h0M205.6 347.7h0M333.7 318.4h0M124.8 455.8h0M492.8 160.7h0M252.5 391.2h0M343.9 213.5h0M127.3 453.9h0M328.1 227.7h0M152 444.4h0M188.3 425.6h0M170.2 429.9h0M312.9 337.1h0M238.2 315.1h0M186 427h0M132.3 434.7h0M240.1 312.5h0M525.3 117.8h0M186.5 369.6h0M195.3 418.1h0M232.2 319.4h0M335.1 314.5h0M286.2 360.6h0M196.4 418.6h0M469.5 184h0M387.6 265.2h0M380.6 271.9h0M372.2 188h0M216 334h0M452.3 124.6h0M191.4 426.8h0M501.9 147.2h0M161.8 398.8h0M310.8 245.8h0M437.5 216.4h0M175.1 428.1h0M148.1 443.8h0M188.9 418.7h0M124.8 455.2h0M413.9 239.6h0M179.7 429.2h0M331.8 316.2h0M214 402.6h0M268.2 373.6h0M543.7 84.4h0M260.4 384.5h0M249.1 389.5h0M294.9 347.3h0M430 141.9h0M255.2 383.8h0M329 321.3h0M271.6 280.5h0M267.4 286.4h0M160.4 440.3h0M293.5 351h0M209.1 342.3h0M280.4 363.1h0M214.4 337.3h0M319.2 329.4h0M355.9 291.7h0M523.3 119h0M399.7 252.2h0M204.2 348.9h0M164.3 434.2h0M229.3 323.9h0M213.7 406.4h0M240 313.5h0M446.4 204.6h0M510 88h0M261.8 378.2h0M418.9 151.9h0M277.3 369.1h0M155.5 439.9h0M469.9 182.2h0M492 159.4h0M499.1 150.5h0M259.2 376.8h0M257.9 382.4h0M300.8 347.8h0M393.5 258.7h0M214.9 410.1h0M120.5 459.8h0M416.2 238.2h0M239.1 394.2h0M518.4 125.2h0M359.8 287.2h0M509.5 135.9h0M497.2 155.8h0M218.2 405.4h0M258.4 384.7h0M238 393.8h0M312.5 243.8h0M210.2 410.7h0M324.4 232.3h0M345.3 212h0M519.5 84.6h0M509.3 90.7h0M393.6 256.2h0M184.6 371.7h0M326.4 323.3h0M138.2 451.8h0M217.7 332.2h0M169.2 388.8h0M455.4 199.6h0M429.4 225.2h0M156 407.4h0M448.5 127.7h0M222 403.1h0M533.7 80.3h0M504.1 143.9h0M451.3 204.7h0M343.6 303.9h0M240.2 311.5h0M295 349.2h0M115.2 457.6h0M133.2 433.9h0M464.7 187.8h0M334.3 312.5h0M166 429.2h0M517.5 128.4h0M478 174h0M480.9 106.2h0M227 323.4h0M493.1 161.7h0M272.3 371.6h0M321.6 330.1h0M218.6 402.6h0M181.9 375.2h0M375.2 188h0M177.7 377.8h0M330 315.3h0M370.5 191.8h0M481.1 106.7h0M234.1 319.3h0M297.1 259.2h0M187.3 422.5h0M527 115h0M310 247h0M265.5 374.5h0M263.4 374.7h0M281.9 361.2h0M244.9 393.1h0M116.8 458.7h0M447.3 202.5h0M135.1 433.4h0M198.3 354.4h0M303.4 252.2h0M211.7 340h0M349.6 297.1h0M268.4 375.9h0M244.3 307.4h0M345.9 211.7h0M357.5 293.2h0M223.1 406.9h0M123.6 458.8h0"/>
<path stroke="#0000aa" d="M147 416.2h0M182.8 424.5h0M254.7 382.4h0M346.7 210.3h0M374.1 279.4h0M201.6 350.4h0M488.1 162.6h0M302.4 344.9h0M153.3 442.5h0M195.7 413.2h0M160.4 435.3h0M145.8 419.5h0M243.1 395.5h0M339.4 310.9h0M429.2 222.4h0M238.7 390.8h0M309.7 334.3h0M227.9 406.1h0M390.4 261.3h0M152.8 440.9h0M394.1 172.4h0M394.3 173.3h0M512.5 86.3h0M399.6 168.6h0M292.7 352.8h0M229.8 401h0M402.7 251.2h0M326.7 323.5h0M279.9 359.5h0M311.1 243.6h0M195.9 358.1h0M483.9 169.6h0M278.2 365.5h0M172.9 426.7h0M123.4 454.6h0M451.8 202.4h0M278.1 366.1h0M288.5 356.5h0M361.2 198.7h0M531.8 107.8h0M421.7 228.3h0M303.7 344.2h0M232.5 399h0M431.3 221.9h0M416.9 235.4h0M285.7 358.1h0M356.4 204.4h0M210.5 342.2h0M204.3 413h0M509.6 139.7h0M437.5 136.4h0M161.7 401.1h0M258.6 295.4h0M126.9 450.8h0M225.9 328.7h0M494.6 155.6h0M179.8 428.8h0M183 374.9h0M355 291.8h0M128 452.4h0M258.7 294.9h0M410.7 242.5h0M120 453.9h0M197.4 357h0M522.5 82.1h0M523.3 81.2h0M139.2 428.7h0M237.8 393h0M203.5 418.2h0M136.8 449.6h0M203.3 416.8h0M194 362.8h0M121.1 449.8h0M320.4 326.9h0M137.4 449.4h0M234.4 393.5h0M252 385h0M232.3 401.7h0M154.5 436.8h0M321.4 327.2h0M268.6 285.2h0M528 116.1h0M467 183.5h0M146.4 444.7h0M314.4 330.9h0M144.9 424.2h0M222.5 331h0M314.1 240.4h0M202.2 351.8h0M119.7 456.6h0M284.9 359.9h0M410.3 239.9h0M401.5 251.7h0M138.7 430h0M521.5 82.9h0M523.4 120.5h0M179.9 422.1h0M158.4 436.6h0M472 179h0M354.5 293.8h0M444.3 132.3h0M480.4 171.7h0M230.6 323.1h0M129.7 437.8h0M146.1 440.6h0M298.9 255.4h0M154.2 408.6h0M293.1 350.7h0M429.7 221.2h0M188.6 370.5h0M176.5 429.7h0M181.8 419.8h0M200.9 354.3h0M215 339h0M245.4 390.9h0M392.7 258.5h0M189.8 421.4h0M180.6 431h0M149.2 419.4h0M192 412.5h0M391.2 263.6h0M285.5 270.6h0M163.4 401h0M219.1 408.7h0M202.3 350.8h0M274.7 361h0M358.4 200.1h0M165.3 395.4h0M179.2 380.7h0M152.9 441.1h0M197.3 413.9h0M485.9 164.7h0M270.5 283h0M207.5 408.8h0M192.3 419.2h0M310 336.4h0M501.1 147.8h0M288.6 353.7h0M491.5 161h0M311.9 331.6h0M189.6 421h0M133.9 434.4h0M494.6 155.3h0M203.7 412.2h0M385.4 268.9h0M468.1 184.9h0M365.3 194.3h0M513.5 132.2h0M495.5 154.4h0M129.3 440.8h0M474.4 108.6h0M182.8 374.3h0M521.4 120.6h0M299.6 344.9h0M444.3 133.4h0M194 359.9h0M378.1 185.2h0M140.3 426.9h0M313 242.4h0M268 371.9h0M219.5 406.1h0M529 111.8h0M323.8 320.7h0M141.2 427.2h0M313.4 242.7h0M257.6 376.7h0M339.7 308.2h0M171.2 389.3h0M504.2 146.1h0M264.6 288.5h0M212.6 409h0M118.6 453.5h0M387.9 263.1h0M383.1 180.1h0M163.7 396.8h0M364.7 285.9h0M269 373.8h0M316.7 331.1h0M320.2 324.7h0M283.4 359.7h0M258.9 295.3h0M357.3 289.4h0M275.4 358.8h0M399.8 166h0M138.4 428.3h0M387.9 260.6h0M256.2 300.7h0M538.1 99.6h0M452.5 198.4h0M200.7 415.6h0M175.8 427.6h0M120.8 453.9h0M305.6 335.7h0M263.6 374.7h0M168.7 391.7h0M270.3 369.4h0M236 317.7h0M136.9 433.3h0M140.7 427.4h0M438.2 135.8h0M287.1 267.3h0M385.9 177.8h0M160.6 401h0M337.9 217.8h0M366.5 281.5h0M337.1 306h0M150.2 440.8h0M278.9 360.5h0M370.2 276.7h0M242.6 310.9h0M318.1 238.5h0M336.9 220.4h0M389.2 257.9h0M136.2 438.1h0M472.7 178.7h0M493.9 155.3h0M460.3 192.3h0M194 362.1h0M299.2 257.9h0M188.5 419.8h0M179.7 427.6h0M249 387.3h0M453.1 124.5h0M505.9 140h0M223.8 405.4h0M231.3 397.5h0M246.9 387.9h0M180 425.6h0M310.2 247.2h0M226.1 398.7h0M183.2 372.3h0M341 304.3h0M287.3 266.5h0M417.7 152.7h0M462.9 120.6h0M138.7 431.1h0M202.5 353.8h0M240.7 389.7h0M127.1 443h0M187.4 421.3h0M512.2 86.8h0M324 233.5h0M193.8 420.5h0M286.6 354.8h0M324.1 321.3h0M385.3 267.6h0M286.5 269.4h0M252.3 302.5h0M378 184.7h0M188 369h0M137.7 433.7h0M185.7 422h0M239.5 314.2h0M126 444.9h0M195.8 417.6h0M399.8 252.3h0M351.6 295.3h0M355.6 202.3h0M277.8 274.1h0M304.6 341.2h0M472.6 176.5h0M135.5 450.1h0M135.5 433.1h0M369.1 276.3h0M408.9 245.6h0M223.1 401.1h0M234.2 397.2h0M388.3 261.1h0M389.5 176.1h0M539.7 88.6h0M154 409.4h0M130.4 451.1h0M526.4 114.1h0M446.8 202h0M190.6 419.3h0M283.3 360.1h0M439.9 134.9h0M454.9 124.8h0M424.2 226.3h0M276.9 358.5h0M302.4 253.1h0M398.4 255.3h0M371.9 189.7h0M435.3 139.8h0M357.4 288.4h0M126.9 448.3h0M434 217.2h0M161.8 434.3h0M431.6 220.2h0M273.6 366.7h0M198.8 357.6h0M181.6 376.2h0M426 226.1h0M378.6 268.9h0M389.3 175.1h0M269.9 365.6h0M458.7 193h0M401.7 166.4h0M320.7 327.5h0M499.2 96h0M366.7 194.3h0M449.9 126.7h0M232.6 321h0M226.8 402.2h0M126.5 451.2h0M435.7 214.5h0M304.2 340.1h0M334.4 309.2h0M506.7 92.1h0M397 170h0M139.7 432.1h0M340.9 302.8h0M435.7 213.9h0M460.6 119.8h0M262.9 292.4h0M128.6 442h0M400.5 251.1h0M502.3 143.2h0M175.8 429.5h0M392.1 255.5h0M343.3 214.4h0M210.7 344.1h0M208 407.3h0M400.4 251h0M262.6 374.9h0M465.5 116.6h0M164.2 433.9h0M203.9 414.1h0M178.4 425.1h0M389 262.4h0M205.8 347.8h0M474.1 110.6h0M229.4 324.7h0M173.4 425.5h0M325.3 322.5h0M364.3 281.7h0M269.2 369.7h0M293.3 262.6h0M410.5 245.2h0M401.5 252h0M418.3 232h0M415.4 235.4h0M439.2 210.9h0M536.6 85.9h0M537.2 80.6h0M481.6 168.6h0M406 243h0M366.3 279.7h0M532.1 107.8h0M292.5 346.2h0M218.9 399.6h0M297.7 258.2h0M147.8 440.3h0M187.6 417.1h0M460.4 121.2h0M310.2 328.1h0M215.7 339.2h0M187.9 416.1h0M306.4 248.6h0M182.4 419.1h0M488.9 162.5h0M256.1 380.2h0M215.4 337.7h0M166.3 398.4h0M503.3 144.5h0M380.5 266.1h0M332.4 316h0M443.6 209.4h0M199.6 358.4h0M260.4 372h0M282.5 356.4h0M282 353.6h0M392.9 174.5h0M373 190h0M536.4 83.5h0M185.1 420.4h0M240.7 389.6h0M485.1 166.4h0M457 192.8h0M394.8 172.9h0M474.2 110.6h0M330 313.1h0M240.3 390.8h0M337.4 219.6h0M399.8 248.8h0M190 418.8h0M468.2 182.6h0M233.5 321.6h0M328.1 314.7h0M132.6 449.2h0M412.8 240h0M290.8 346.9h0M179.6 422.9h0M389.5 254.7h0M526.2 113.1h0M246.5 307h0M469.5 184.2h0M493.5 154.1h0M158.1 408.4h0M150.1 439.9h0M504.1 141h0M405.7 245.1h0M163.5 431.9h0M202 353h0M244.2 309.9h0M176.8 425.2h0M290.6 351.6h0M190 413.7h0M385.8 267.5h0M341.1 301.4h0M366.1 280.6h0M371.2 190.7h0M170.5 395.2h0M236.9 318.9h0M184.4 424.2h0M195.6 362.7h0M327.9 319.4h0M178.5 379.4h0M538.1 95.4h0M206.9 350.6h0M533.6 103.4h0M209.2 344.4h0M244.5 385.3h0M345.8 302.9h0M379.7 267.1h0M180.8 379.3h0M416.9 233.2h0M352 292.3h0M221.2 397.5h0M377.4 271.7h0M308.6 337.5h0M366.2 195.4h0M411 239.6h0M143.2 442.6h0M200.9 411.7h0M487 103.8h0M537.9 90.7h0M306.4 335.4h0M533.4 79.8h0M166.6 430h0M450 204.9h0M492.9 100h0M317 326.9h0M371 277h0M373.8 272.7h0M464 186.3h0M293.1 346.6h0M260.5 294.5h0M253.5 377.9h0M468.9 183.5h0M395.4 252.5h0M396.5 256.4h0M236.6 391h0M157.3 432.9h0M208.4 344.2h0M323.8 321.3h0M242.6 387.9h0M445 206.7h0M198.4 409.9h0M538.1 92.5h0M217.2 338.7h0M485.7 167.1h0M378 270.2h0M231.2 396.5h0M349.5 297.7h0M322 320.6h0M227.9 399.2h0M232.4 392h0M304.9 253.4h0M463.5 185.6h0M203.3 351.9h0M296.4 343.9h0M153.4 432.9h0M127 448.7h0M180.1 379.7h0M427.4 222.3h0M383.6 263.1h0M422.9 148h0M486.8 164h0M378.2 269.5h0M305.2 251h0M268.6 288h0M451.2 200.8h0M169.9 428.3h0M179.9 383.6h0M537.2 87.2h0M366.8 281.1h0M229.7 396.7h0M271.4 364.2h0M166.7 398.4h0M391.7 174.7h0M508.2 90.3h0M337.4 310.6h0M132.6 447.7h0M158.5 406.9h0M129.2 440.7h0M235.3 319.7h0M504.2 91.8h0M141.3 428.5h0M343 301.6h0M481.5 106.3h0M165.1 430.5h0M225.7 331.8h0M132.5 446.5h0M265.3 290h0M404.6 163.4h0M193.2 421h0M288.4 349.1h0M169.6 426.3h0M293.5 262.3h0M446.3 130.1h0M306.2 249.5h0M267.7 370.7h0M130 445.2h0M249.9 380.8h0M143.6 423.7h0M172.5 423.8h0M179.6 422h0M144.3 441.8h0M537.7 96.8h0M314 241.8h0M304.5 252.5h0M232.7 394.2h0M327.1 314.7h0M480.7 106.4h0M304.2 255.5h0M437.6 214h0M131.6 438.9h0M442.4 134h0M306.5 340.1h0M389.1 261h0M232.4 395.8h0M186.6 372.5h0M204.6 409.7h0M172.3 389h0M345.6 213.7h0M401.2 249.3h0M143 442.9h0M313.2 326.7h0M389 260.6h0M328 318.7h0M240 318.1h0M203.1 409.7h0M314.1 242.1h0M333.4 308.3h0M345.9 301.2h0M453.5 196.7h0M474.8 111.6h0M279.2 357.9h0M295.8 261.9h0M196.4 412.2h0M457.3 123.1h0M503.4 94.4h0M228.2 324.7h0M455.8 194.6h0M164 429.9h0M198.9 358h0M248.2 387h0M344.4 301.9h0M233.6 394.2h0M367.3 276.6h0M536.2 99.2h0M475.6 111.4h0M443 206.1h0M441.7 210.5h0M537.2 87.1h0M189.9 370.5h0M486.2 103.8h0M285.7 270.1h0M333.7 223.9h0M245.8 380.8h0M363.9 199h0M400.3 250.1h0M411.2 159.8h0M130.7 448.2h0M303.1 336.5h0M147.6 422h0M267.9 367.1h0M444.9 206.4h0M216.6 404.2h0M131.9 439.5h0M264.8 371.5h0M424.6 225.6h0M443.5 210.6h0M169 424.4h0M426.5 224.8h0M302.3 337.5h0M159.2 431.8h0M470.8 178.6h0M369.8 192.6h0M451.8 198h0M453.7 126.6h0M201.3 414.5h0M232.5 392.8h0M309.3 331.2h0M250 381.8h0M235.8 319h0M194.4 412h0M223.2 396.1h0M449.2 199.5h0M193 365.1h0M164.4 427.3h0M321.8 321.8h0M289.5 352.2h0M209.1 407.8h0M211.1 344.3h0M281.6 274.9h0M225.8 329.4h0M146.9 421.3h0M244.2 386.2h0M172.5 389.4h0M301.8 338.3h0M205.2 409.5h0M268.6 289.4h0M293.6 266.8h0M289.3 347h0M319 319.9h0M436.7 213.2h0M197.1 411.8h0M482.2 168.2h0M285.1 271.7h0M241.8 389h0M186 373.8h0M496.1 97.9h0M237.5 319.5h0M476.3 173h0M471.5 112.5h0M420.2 227.8h0M391.5 174.6h0M261.2 294.2h0M534 82.6h0M491.1 100.5h0M254 301.4h0M288.9 347.8h0M261.8 293.5h0M267.5 289.7h0M533.9 80.5h0M507.3 134.9h0M504.2 93.9h0M490 156.2h0M203.1 351.1h0M290.2 265.7h0M528.5 81.5h0M249.1 308.4h0M294.3 347.8h0M132.1 442.3h0M347.1 299.5h0M296.6 259.3h0M233.2 320.2h0M154.8 432.8h0M142.6 430.9h0M189.6 413.7h0M166.2 394.8h0M286.2 351.7h0M307.5 249.2h0M246.6 384.8h0M289.1 345.4h0M439.2 212.7h0M141.1 427.8h0M361.6 284h0M327 316.2h0M342.7 300.9h0M332.5 224.3h0M190.3 368.1h0M539.2 90.6h0M527.9 83h0M345.6 299.4h0M218.7 399h0M422.5 150.1h0M252.8 304.7h0M149.3 417.6h0M323.5 318.9h0M303.7 340.5h0M493.5 154.8h0M182.5 419.5h0M349.1 212.6h0M274.5 359.7h0M319.7 318.6h0M403.2 249.6h0M363 197.4h0M159.2 428.9h0M433.4 219.4h0M456.7 195.4h0M362.5 279.6h0M135.7 447.9h0M364.1 280.3h0M249.8 381h0M431.9 217.2h0M394.1 174.8h0M289.4 344.5h0M496.3 148.5h0M160.3 428.1h0M537.4 85h0M196.1 413h0M137.2 443.6h0M329.9 228.7h0M255.1 379.5h0M500.3 95.3h0M499.9 146.2h0M157.8 432.4h0M332.4 308.1h0M198.4 414.6h0"/>
<path stroke="#0000b6" d="M535.5 100.1h0M125.9 450.1h0M209.2 348.4h0M202 409.8h0M300.4 340.7h0M268 365.3h0M156.2 409.8h0M270.4 286.9h0M403.6 246.5h0M248.4 385.8h0M202.7 409.9h0M429.3 222.2h0M338.2 303.7h0M431.7 219.8h0M210.2 398.3h0M214.6 398h0M205.3 405.7h0M295.8 262h0M191.5 412.1h0M412.2 157.8h0M533.1 104h0M277.9 357.7h0M297.2 342h0M393.6 173.4h0M266.6 369.6h0M316.9 240.2h0M133.9 443.9h0M267 370.4h0M135.9 440.6h0M231.3 324.2h0M131.6 442.3h0M482.3 167.2h0M371.3 275.3h0M476.9 172.8h0M355.8 205.5h0M228 327.5h0M181.3 382.7h0M253.5 376.6h0M252.5 306.7h0M172.7 425.5h0M302.5 334.3h0M352.4 291.3h0M416.9 232.2h0M480.8 167.5h0M203.3 408h0M263 292.8h0M248.4 308.7h0M461.7 186.4h0M411.8 239.5h0M227.7 393.5h0M215.5 400.3h0M186.7 415.7h0M300.5 255.6h0M172.5 425.3h0M274.4 283.4h0M328.8 231.8h0M146 440.5h0M197 362.5h0M222.1 395.9h0M295.2 344.9h0M205.3 409.1h0M472.1 179.6h0M203.8 407h0M464.7 184.7h0M351.6 207.8h0M341.5 299.2h0M328.3 312.7h0M448.9 199.3h0M200.7 407h0M336 223.3h0M390.3 253h0M197.8 411.4h0M480.5 110.6h0M479.9 108.6h0M232 395.4h0M438.5 140.1h0M249.4 379h0M242 314.6h0M229.6 325.8h0M184.3 420.7h0M314.1 327.7h0M165.7 399.2h0M150.9 414.2h0M381.9 264h0M137.4 444h0M146.6 440.9h0M281.3 357.7h0M177.4 421.1h0M369.2 193.2h0M348 211.9h0M219.1 399.2h0M431 218.1h0M350.1 210.6h0M289.9 265.5h0M285.6 352.1h0M495.4 151h0M207.2 349.2h0M176.5 385.2h0M491.3 100.1h0M405.6 163.7h0M417.4 230.9h0M506.6 140.2h0M478.2 172.2h0M278.5 356.7h0M316.4 325.5h0M522.1 84.8h0M154.8 430.4h0M426.7 223.1h0M411.5 239.5h0M500.8 96.8h0M298 338.2h0M165.7 428.3h0M465.1 119.4h0M405.9 241.9h0M525.3 83.3h0M451.1 127.4h0M382.3 262.5h0M276.9 282h0M136.7 436.6h0M230.5 394.9h0M261 372h0M133 443.1h0M494.7 153.1h0M191.7 367.2h0M282.9 275.7h0M490.2 101.3h0M133.1 440.1h0M262.6 369.5h0M298 338.2h0M367.3 277.8h0M479.2 170.8h0M352 294.5h0M215.7 401.5h0M535.4 88.9h0M136.8 437h0M386.5 179h0M497.4 96.5h0M318.8 325.8h0M491.6 155.7h0M139.7 440.2h0M188.3 371.4h0M526.2 83.9h0M201.4 407.2h0M197 412.4h0M144.6 427.6h0M390.4 176.3h0M537.8 97.3h0M185 376.5h0M533.9 87.6h0M232.5 393.3h0M487.6 102.4h0M162.6 401.7h0M436.6 139.6h0M453.9 191.8h0M537.4 90.7h0M247.7 312.4h0M418.3 228.2h0M341.1 301.8h0M522 117.5h0M349 294.8h0M196 412.6h0M178.2 383.9h0M536.2 86.5h0M160.5 405.8h0M350.9 291.4h0M316 324.8h0M535.6 91.4h0M231.7 391h0M310.9 248.4h0M259.7 370.3h0M153.5 417h0M297 340h0M411.2 234.7h0M471 177h0M183.6 416.2h0M199 410.1h0M134.7 441.7h0M482.1 162.9h0M192.2 408.9h0M160.5 429h0M407 163.2h0M324.3 314.6h0M168.1 425.7h0M351.9 208.5h0M269.5 287.4h0M225.3 394.1h0M408.2 242.4h0M523.4 117.1h0M136.8 437.4h0M224.5 395.8h0M351.3 210h0M297.4 339.6h0M365.9 278.5h0M303.2 334.3h0M327.5 316.9h0M209.2 406.1h0M255.1 302.6h0M211.9 395.8h0M156.4 408.6h0M284.9 272.2h0M345.6 213.7h0M308.3 331.2h0M432.1 142.8h0M500.8 146.7h0M147 439.5h0M488.1 161.4h0M208.8 348.5h0M318.9 240.7h0M181.3 417.8h0M513 127.2h0M403 243.7h0M184.1 377.4h0M500.8 142.4h0M532.8 101.4h0M330.2 311.1h0M395.6 251.8h0M286.2 351.8h0M410.9 159.2h0M411.6 160.3h0M260.3 369.4h0M286.7 347.4h0M155.3 412.7h0M413.6 233.8h0M399.7 246h0M171.6 392h0M446.9 131.6h0M262.1 367.6h0M271.6 364.2h0M183.4 415.3h0M447.8 131h0M260.3 370.3h0M236.7 319.9h0M315 324.2h0M215.8 397.3h0M497.3 148.2h0M535.5 97.2h0M273.5 285.3h0M285.6 273.1h0M201.3 355.4h0M538 95h0M141.5 428.8h0M148.5 436.8h0M377.2 187.6h0M218.4 401.2h0M530 83.5h0M444.3 202.4h0M213.3 344.7h0M144.3 439.9h0M170 425h0M318.2 242.3h0M185.5 375.1h0M239.3 384.6h0M374.9 272.3h0M475.9 174.3h0M411.7 234h0M363.7 279.9h0M273.9 359.9h0M299.9 335.7h0M521.7 117.8h0M314 244.7h0M178.6 417.4h0M205.4 350.7h0M240.2 315.9h0M291.2 345.1h0M499 145h0M174 388.8h0M458.8 190.4h0M460.4 186.9h0M279.2 278.3h0M522 118.1h0M479.9 108.7h0M332 306.4h0M460.3 122.3h0M362.4 199.3h0M255.5 302.2h0M306 333.2h0M275.8 357.4h0M282.1 354.9h0M161.9 427.7h0M419.6 227.5h0M143.9 433.7h0M345.1 297.6h0M476.7 170.7h0M401.8 168.1h0M159.6 426.4h0M525.5 110.3h0M172.7 423.4h0M415.1 229.9h0M305.9 253.8h0M450 198.1h0M501.8 142.6h0M189 371.6h0M525.6 114.6h0M209 350.6h0M324.4 315.7h0M302.9 256.1h0M181 418h0M168.2 399.2h0M394.7 173h0M450 200.7h0M517.3 122.1h0M190.2 411.6h0M321.5 237.1h0M132.8 438.7h0M166.9 426.1h0M535.8 98.1h0M276.3 281.6h0M153.7 431.5h0M138.5 437.5h0M436.8 207.5h0M515.3 126.2h0M141.1 426.7h0M144.8 434.1h0M193.9 408.3h0M440.3 136.3h0M205.2 410.3h0M164.4 427.1h0M354.4 286.5h0M275.1 357.3h0M532.7 103.3h0M259.4 370.3h0M390.9 251.3h0M144.1 425.6h0M198.4 407.6h0M380.3 266.8h0M457.3 125.7h0M138.1 437.5h0M383.9 260.4h0M338.8 301h0M219.3 399.9h0M228.8 328.7h0M520.5 86.9h0M402 241.6h0M306.7 251.6h0M202.4 357.8h0M153.9 427.2h0M305 331.5h0M526.6 82h0M498.2 97.3h0M374.8 267.6h0M237.9 388h0M519.3 86.8h0M209.2 404.7h0M389.8 252.9h0M499 97.4h0M259.9 297.4h0M278.4 278.8h0M235 389.4h0M415.3 231.4h0M288.1 346.8h0M366.5 194h0M189.6 413.5h0M474.2 172.6h0M182.2 416.8h0M228.9 390.6h0M279.9 353.9h0M461.2 186.7h0M425.8 222.2h0M130.5 441.4h0M259.5 369.4h0M282.1 353.4h0M310.9 328h0M479.8 167.7h0M505.7 93h0M298 338.1h0M490.1 154.5h0M381.5 183.3h0M424.8 224.4h0M228.9 325.9h0M338.7 304.2h0M434 213.7h0M359.9 285.1h0M510.4 130.7h0M176.6 420.4h0M328.1 311.2h0M245.4 311.6h0M180.1 417.6h0M230.2 391.1h0M198.8 406.6h0M180.2 414.9h0M414.1 156.8h0M293.7 342h0M243.2 316.1h0M284 347.2h0M194.5 363.4h0M383.1 260.6h0M374.7 268h0M201 405.6h0M229.5 391.1h0M479.2 170.4h0M295.9 332.3h0M279.2 354.8h0M522.7 115.4h0M230.8 327.3h0M299.7 331.9h0M191 369.8h0M400.3 246h0M288.1 344.2h0M270.6 363.8h0M533.7 96.9h0M225.3 394.8h0M197.2 362.3h0M171.2 421h0M433.4 212.9h0M264.6 367.9h0M427.9 219.8h0M306.2 329.9h0M393.1 175.2h0M321.4 318.7h0M252.9 375h0M373.2 271.6h0M220.5 337.5h0M401.7 245.8h0M425.6 222.5h0M349.9 292.3h0M364.9 280.9h0M394.9 173.8h0M234.6 383.5h0M300.9 257.9h0M192.1 369.4h0M189.5 413.4h0M172.9 390.3h0M244.1 384.1h0M360.4 281.4h0M413.8 233.9h0M182.9 415.2h0M340.6 220.6h0M267.6 293.2h0M423.5 226.2h0M222.7 395.2h0M290.7 336.3h0M184.3 414.3h0M185.7 377.7h0M423.5 149.6h0M225.5 397.1h0M153.4 432.9h0M463.7 184.8h0M328 308h0M349.2 293.8h0M429.4 217.6h0M188.7 410.5h0M158.7 408.2h0M231.4 326.4h0M321.8 315.8h0M268.5 288.9h0M508.3 131.6h0M276.4 283.9h0M425 148.8h0M151.4 417.6h0M189.4 407.2h0M436.6 211.3h0M171.5 419.8h0M360.2 202.6h0M198.9 361.3h0M142.3 441.8h0M185.7 419.4h0M157.3 410.8h0M267.7 367.4h0M297.7 260.7h0M352.4 210.6h0M134 446.1h0M283.9 274.3h0M360 202.5h0M336.4 306.8h0M461.3 122.5h0M295.4 343.2h0M383.3 183.1h0M283.3 274.8h0M526.8 83.3h0M257.8 303.3h0M425.3 149.1h0M257.7 301.5h0M147.8 437.2h0M204.1 405.7h0M217.2 402.1h0M193.3 408.6h0M226.3 332h0M344.4 215.6h0M363.7 278.2h0M252.7 305.4h0M187.4 413.9h0M470.3 116.1h0M420.4 227.8h0M162 402.1h0M328.1 311.3h0M351.7 288.9h0M141.1 426.9h0M448.1 199.4h0M276 280.2h0M324.8 314.3h0M286.7 274.3h0M256.6 379.7h0M174.4 420.7h0M279.8 278.3h0M223.6 392h0M301.2 331.4h0M308.5 330h0M429 146h0M262.3 366h0M358.5 282h0M167.5 397.4h0M296 265.9h0M153.9 414.4h0M295.6 338.4h0M205.6 352.8h0M457.7 190.5h0M488 158.9h0M508.7 91.7h0M448.5 198.6h0M147.3 422.3h0M243 384.4h0M344.2 295.6h0M220.6 394h0M536.6 94.2h0M372 270.7h0M170.9 392.2h0M215.4 342.4h0M198.5 406.7h0M379.6 185.9h0M180.4 384.1h0M274.7 359.3h0M159.1 431.9h0M424.8 220.3h0M526 87.6h0M196.2 365h0M291.3 341.1h0M283.3 349.6h0M420.6 152.6h0M494.3 152.7h0M455.1 191.6h0M534.9 97.8h0M148.9 429.2h0M511.6 129.6h0M153.8 416h0M507.8 134.9h0M239.3 320.3h0M271.2 290.6h0M257.5 373.6h0M273.8 360.6h0M203.8 404h0M170.1 395.6h0M239.7 319.7h0M159.4 407.6h0M141.5 427.2h0M195.6 404.5h0M347.9 289.6h0M396.8 246.4h0M425.3 220.2h0M298.6 261.5h0M426.1 149.7h0M423.2 221.2h0M407 238.3h0M304.4 254.7h0M249.7 376.1h0M239.2 383.9h0M204.8 352h0M217.7 341.9h0M270 360h0M488.7 159.3h0M489.9 103.6h0M489.8 158.3h0M423.9 220.1h0M139.3 436.9h0M226.2 388.6h0M158.6 410.9h0M275 358.8h0M493 151.2h0M425.6 220.6h0M141 442h0M474.3 173.4h0M257.7 372.7h0M185 411h0M419.4 154.2h0M238.4 321.7h0M215.8 397.8h0M480.9 107.5h0M164.6 427.9h0M363.8 277.8h0M488.2 158.9h0M141.6 440.3h0M280.5 352.7h0M267.7 362.3h0M292.7 340h0M433.4 216.1h0M169.2 423.2h0M269.5 364.7h0M179.1 415.2h0M381.5 261.9h0M230.1 327.8h0M293.6 338.5h0M221.2 390.4h0M486.5 104.6h0M147.2 433.4h0M405 166h0M216.8 397.2h0M274.9 358.3h0M364.7 200h0M539 94.8h0M204.2 402.9h0M201.6 405.2h0M132.2 442.9h0M298.3 260.5h0M497.9 145.8h0M318.9 240h0M507.3 133.8h0M206.4 354.4h0M279.3 355.5h0M413.2 235.4h0M366.7 279h0M142.7 435.7h0M216.6 396.4h0M284.7 274.4h0M185.1 379.4h0M178.2 415.3h0M507.1 133.8h0M201.7 402.6h0M358 205.6h0M452.9 194.1h0M296.4 340.8h0M456.1 190.7h0M258.7 300.2h0M283.6 277.1h0M433.3 214h0M279.3 277.3h0M298.9 260.7h0M357.8 283.9h0M237.5 382.8h0M150.6 435.9h0M512.8 92.1h0M313.4 322.5h0M411.6 230.1h0M375.2 189h0M282.7 348.1h0M236.9 321.3h0M408.9 237.4h0M419.5 153.1h0M188.5 375.8h0M242.2 381.5h0M377.6 268h0M361.2 200.4h0M232.8 380.4h0M367.3 274.6h0M177.2 416.4h0M257.5 302h0M264.9 363.3h0M323.5 237.7h0M436 209.4h0M147.2 423.6h0M479.7 165.9h0M286.9 274.1h0M504.6 94.8h0M210.2 345.9h0M458.7 124.3h0M257 303.2h0M175.1 387.9h0M323.9 314.4h0M359.5 204.2h0M151.9 418.2h0M165.2 425.5h0M300.7 338.4h0"/>
<path stroke="#0000c2" d="M204.9 403.3h0M533.4 87.9h0M512.5 128h0M291.3 268.2h0M263.4 366h0M257.9 373.7h0M530.9 86.3h0M276 357h0M388.4 179.7h0M344.8 296.4h0M318.6 318.9h0M495 147.6h0M223.3 393.5h0M268.4 360.7h0M438.1 207.3h0M169.5 394.9h0M419.3 154.2h0M463.4 183.2h0M424.7 219.5h0M353.4 206.9h0M395.5 250.1h0M185 377h0M301.8 332h0M456.4 126.5h0M404.2 238.6h0M399.9 245.5h0M172 395.6h0M520 87.2h0M342.6 297.6h0M508.9 132.6h0M337.8 301.7h0M321.7 316.9h0M347.5 294.9h0M231.7 388.2h0M246.7 373.7h0M216.1 340.5h0M187.8 376.1h0M401.4 168.6h0M529.2 85.6h0M240.3 320.2h0M187.6 375.2h0M247.7 378.5h0M516.6 124.8h0M318.8 323.5h0M514.8 124.2h0M456.5 191.3h0M484.1 105.5h0M266.4 358h0M528.5 85h0M230.3 382.6h0M283.1 349.6h0M339.1 223h0M391.8 176.8h0M237.1 322.1h0M181.2 383.9h0M281 277.7h0M166.5 402.2h0M450.3 195.7h0M271.4 358.5h0M487.9 157.6h0M433.4 211.7h0M509.1 131.7h0M407.1 238.7h0M380.4 264.2h0M398.5 170.6h0M452.3 194.1h0M403 243h0M154.6 428.2h0M254.5 375.8h0M394.1 251.1h0M216.2 341.5h0M164.9 424.2h0M436.3 209.8h0M399.2 245h0M294.5 337.4h0M182.7 412.9h0M185.5 379.7h0M265.9 294.6h0M487.9 158.8h0M199.3 400.7h0M311.5 325.8h0M419.6 227.2h0M265.8 361.3h0M302.8 256.7h0M506.4 134.2h0M223.8 392.4h0M317.8 242.9h0M463.5 181.4h0M374.3 190.2h0M534.4 93.1h0M305.2 332.6h0M220.8 387.8h0M196.3 404.4h0M485.9 158.7h0M278.8 352h0M499.1 144.5h0M384.9 258.2h0M145.7 425.3h0M287.9 343.4h0M237.3 384.4h0M174.9 389.5h0M336.1 306.2h0M208.9 402.7h0M490.1 155.3h0M213.9 397h0M274.8 351.4h0M314.5 246.8h0M311.6 248.9h0M224.7 334.9h0M379.6 262.6h0M331.7 305.7h0M389.9 253.9h0M398.9 171.6h0M140.2 438.2h0M469.1 117.7h0M160.8 426.1h0M209.1 398h0M295.2 337h0M354.6 286.5h0M448.5 199.2h0M361.7 277.4h0M199.6 361.1h0M265.9 361h0M266.1 295.2h0M371 273.2h0M479.3 107.8h0M148.9 421.8h0M423.5 220h0M389.2 255.9h0M478.9 167.2h0M166 402.9h0M168.9 399.6h0M167.4 400.8h0M489.4 154.7h0M415.3 229.8h0M234.7 387.8h0M360.9 203.7h0M155.3 416.6h0M534.4 89.5h0M406.7 236.4h0M249.2 310h0M443.8 134.3h0M443.8 200h0M462.3 181.6h0M474.7 113.6h0M328 309h0M360.8 277.7h0M419.5 224.7h0M231.1 384.9h0M481.6 109.5h0M243.2 378.7h0M276.6 355.2h0M234.3 379.3h0M224.1 335.6h0M466.1 119.4h0M528.9 86.3h0M336.1 225.1h0M142 439.4h0M259.6 300.3h0M184.5 411.2h0M448.9 131.6h0M422.1 221.6h0M158.6 408.4h0M265.4 359.1h0M150.6 429.8h0M530.6 102.2h0M476 170.7h0M163.3 425h0M155.3 416.5h0M171.1 395.7h0M490.3 154.4h0M201 357h0M237.9 381.8h0M226 334.5h0M504.4 95.3h0M155.5 417h0M335.6 303.9h0M208.8 400.3h0M342.2 298.3h0M321.7 239.7h0M355 209.9h0M309.6 250.3h0M206.9 400.2h0M173.7 419.4h0M484.7 163.5h0M144.3 435.8h0M201.4 359.3h0M289.6 273.4h0M196.5 404.7h0M371.8 192.5h0M174.4 416.3h0M237.5 321.7h0M222.2 336.7h0M461.2 184.1h0M189.6 407.2h0M204.3 356.9h0M240.5 318.2h0M435.9 140.8h0M420.5 219.4h0M154.9 427.1h0M293.3 340.9h0M292.6 268.1h0M249.6 310h0M190.6 407.2h0M346.7 293.2h0M368.8 270.8h0M409.3 164.6h0M272.5 354.7h0M343.9 297h0M358 204.5h0M381.9 255.7h0M502 140.5h0M165.8 421.5h0M357.9 280.2h0M139 434.4h0M159.4 426.3h0M522.9 84.4h0M312.7 247.3h0M326.4 311.7h0M272 353.1h0M254.3 370.6h0M380.1 262.7h0M336.4 302h0M214.7 342.5h0M193.2 405.7h0M291 267.6h0M472.3 115.1h0M519.5 88.9h0M308.2 252.6h0M412.2 230.2h0M266 359.5h0M441.3 201.9h0M224.7 387.3h0M338.3 301h0M532.1 85.9h0M299.8 260.8h0M431.8 215.1h0M250.3 371.7h0M270.7 357.6h0M249.9 310.5h0M263.6 361.1h0M451.9 128.9h0M498.7 142.7h0M342.2 295.1h0M321.5 311.6h0M462.8 123h0M220.7 396.5h0M265.8 357.5h0M271.6 352.2h0M416.7 227h0M209.1 398.9h0M288.6 343.2h0M329.4 234.4h0M243.4 378.3h0M469.1 175.2h0M433.8 210.9h0M232 391.3h0M348.6 213h0M258.8 368.8h0M413.1 228.9h0M397 244.1h0M337.1 224.2h0M484.3 163.1h0M189.3 404.1h0M212.9 402.6h0M347.2 290.8h0M222.7 386.2h0M149.4 427.5h0M295.6 339h0M295.5 266.4h0M159.2 426.2h0M478.3 167h0M176.5 415.6h0M420.8 224.6h0M486.2 162.5h0M145.9 429.4h0M159.2 413.4h0M507 134.3h0M474.1 113.3h0M234.9 323.7h0M406.1 234.2h0M139.4 431.3h0M154.7 427.3h0M331.7 229.5h0M534.5 96.3h0M232.8 326.1h0M288.2 335.5h0M269.6 353.7h0M217.3 397.5h0M270.8 290.3h0M245.2 379.8h0M148.4 430.7h0M501.5 139.6h0M191 372.5h0M363 279.5h0M344.6 217.4h0M218 390.6h0M208.8 402h0M405.8 166.8h0M399.9 242.4h0M392.6 247.4h0M442 203.9h0M378.2 264.1h0M296.5 265.4h0M161.5 424.1h0M525.6 87.1h0M164 419.9h0M321.2 315h0M209.5 351.8h0M227.8 388h0M316.5 320.2h0M510 91.1h0M484.3 159.4h0M411 233.1h0M252.4 309h0M183.2 413.5h0M474.1 113.3h0M497.3 145.3h0M381.7 261.3h0M338 300.4h0M373.2 192.8h0M345.4 289.9h0M506.8 93.7h0M431.4 144.3h0M379 265.3h0M284.5 277.5h0M242.6 377h0M212.1 348.9h0M290.6 343.9h0M193.6 404.7h0M431.8 214.4h0M437.4 206.6h0M286.9 338.9h0M517.5 121.4h0M339.3 224.1h0M505.3 136h0M324.6 240.7h0M205 399.3h0M369.2 195.6h0M316.3 245.1h0M319.3 315h0M417.8 228h0M353.8 287.5h0M466 120.6h0M525.1 112.1h0M376.7 263.8h0M463.9 179.5h0M182.9 410.4h0M328.7 306.3h0M241.7 315.8h0M474.2 170.3h0M418.5 156h0M255.9 305.7h0M343.6 292h0M263.9 361.9h0M235.7 384.8h0M325.5 235.5h0M313.1 322.1h0M152.8 418.8h0M387.4 256.6h0M287.8 273.3h0M192.2 372.9h0M255.2 370.8h0M278.6 282.3h0M418.7 225h0M161.4 422.5h0M254.7 365.3h0M209.5 351.7h0M277.5 281.6h0M500.3 140.6h0M382 259.1h0M316.1 319.4h0M263.3 366.1h0M480.6 165.1h0M427.2 148h0M179.7 411.3h0M389.9 253.1h0M321 240.8h0M303.3 332h0M291.7 340.2h0M176.4 389.6h0M503.4 138.1h0M352.2 208.7h0M149.4 423.9h0M520.3 119.2h0M343.1 295.6h0M288.9 339.5h0M359.9 204.3h0M184.7 409.2h0M382.1 183.8h0M295.3 338.5h0M187.3 407.6h0M213.7 348.3h0M336.5 226.3h0M410 231.7h0M145.9 429.1h0M469.9 175.4h0M522.2 113.7h0M433.6 143.7h0M348 288.7h0M285.1 338.9h0M514.1 124.2h0M151.3 429.5h0M161.7 405.8h0M231.7 324.7h0M350 287.2h0M181.3 413.2h0M321.7 309.2h0M506.2 94.2h0M448.3 196.9h0M449.9 131.8h0M341.9 300.5h0M451.7 195.5h0M209.6 398.7h0M219.7 387.9h0M234.3 387.4h0M296.2 331.9h0M175.1 390h0M252.7 308.2h0M302.7 258.5h0M328.5 305.2h0M245.3 314h0M308.6 324.2h0M237.7 323.6h0M343.1 295.6h0M377.9 189.4h0M381 256.7h0M264.9 296.2h0M464.6 122.2h0M204.7 401.7h0M383.8 259.8h0M214.3 345.9h0M525.2 112h0M260.7 300.6h0M294.2 339.1h0M189.1 375h0M389.9 250.9h0M274.4 285.9h0M257.1 304.7h0M144.4 425.4h0M227.7 385.9h0M428.5 146.8h0M283.9 346.1h0M334 227.3h0M505.5 133.4h0M323.4 309.1h0M429.1 147.4h0M333.9 303.5h0M217 393.5h0M155.7 413.8h0M441 206.1h0M473.5 114.7h0M241.3 317.3h0M531.8 87h0M462.7 182.6h0M181.8 384.6h0M478.7 164.3h0M405 166h0M144.2 433.3h0M480.5 161.8h0M187.2 409.1h0M356.2 280.8h0M278 282.2h0M302.5 257.6h0M403.8 168.4h0M401.7 169h0M476.7 167.8h0M181 384h0M331 305.5h0M258.8 300.5h0M278 349.2h0M270.9 356.1h0M317.1 243.4h0M456.6 126.7h0M384 260.3h0M490.1 103.8h0M326 308.3h0M281 280.9h0M380.2 259.4h0M437 141.1h0M350.7 211.5h0M240.7 379.1h0M194.8 367.7h0M308.4 251.7h0M168.2 422.8h0M386.9 182.1h0M522 115.9h0M293.4 266.6h0M458.2 126.8h0M241.8 316.5h0M275.8 350.6h0M244.7 317.7h0M233.2 326.3h0M234.7 387.3h0M272.1 289.3h0M159.7 413.6h0M417.2 223.1h0M308.6 327h0M205.5 399.9h0M153.4 428.4h0M382.4 185.5h0M248.3 311.4h0M334.4 226.1h0M245.5 316.3h0M207 353.2h0M335.1 224.5h0M243.8 376.6h0M187.2 408.7h0M449.2 133.1h0M243.8 375.3h0M199.4 401.7h0M285.5 342.8h0M210.9 348.5h0M341.1 293h0M429.6 216.4h0M529.7 85.2h0M242 376.8h0M150 429.3h0M168.5 420.9h0M276.6 285h0M272.5 350h0M262.9 360.8h0M229.1 333.2h0M497.1 146.4h0M400.5 243.4h0M209.5 351h0M206.9 394.1h0M242.8 319.3h0M285.9 344.9h0M207.9 398h0M274.3 349.5h0M426.1 218.2h0M387.2 180.7h0M158.8 423.9h0M231.5 379.1h0M198.3 362.3h0M520.2 86.4h0M335.3 302.6h0M370.3 269.1h0M173.7 393.5h0M431.4 146h0M439.5 139.2h0M241.3 383.2h0M260.7 369.4h0M294.3 338.9h0M304.8 328.9h0M515.5 123.3h0M321.8 310.4h0M172.8 419.5h0M211.5 394.2h0M233.8 385.6h0M458.6 125.2h0M486.7 105.9h0M295.3 334.3h0M368.8 271.9h0M164.1 407.6h0M429.1 146.8h0M294 333.6h0M354.8 209.8h0M465.6 120.8h0M218.6 341.6h0M167.5 422.9h0M282.3 344.5h0M166 404.3h0M504.8 137.2h0M170.6 399h0M220 387.8h0M534.6 92.9h0M205.2 358h0M181.9 412h0M434.9 209.9h0M223 392.2h0M340.8 223.6h0M218.3 343.4h0M283.6 340.1h0M157.6 429.1h0M218.9 389.5h0M296.2 266.9h0M230.4 329.8h0M158.3 422.6h0M432.3 211.5h0M342.7 292.3h0M239.3 378.9h0M375.3 266.1h0M335.5 299.6h0M178.7 386.9h0M223.3 386.9h0M414 227.5h0M167.6 417.3h0M161.5 424.4h0M449.2 197.4h0M174.5 394.1h0M251.6 308.4h0M321.4 311.6h0M464.8 178.5h0M245.3 374.8h0M228.2 384.7h0M264.2 297h0M391 246.9h0M495.2 149.5h0M285.4 275.1h0M281.2 346.9h0M288.3 338.2h0M177.5 411h0M320 312.9h0M368.3 269.1h0M271.6 350.8h0M262.2 300h0M527.6 108.7h0M367.4 274h0M518.8 89.1h0M214.2 344.6h0M462.6 123.2h0M527.3 107.8h0M446.2 134.2h0M427.3 149.2h0M202.2 398.5h0M208.1 356.4h0M240.1 321h0M386 253.4h0M306.3 326.6h0M232.8 378h0M528.1 105.4h0M493.4 151.1h0M204.6 357.2h0M461.8 181.5h0M287.4 273.5h0M192.1 403.1h0M147 427h0M396.1 244.8h0M267.6 292h0M532.7 94h0M270 350.6h0M172.3 418.9h0M248 315.2h0M218.3 343.9h0M464.6 176.5h0M294.7 339h0M325.7 308.7h0M409.4 233.2h0M152.3 426.7h0M298.8 262.1h0M159.9 413.3h0M261.8 363.4h0M168.7 402.2h0M154 423h0M220.6 339.1h0M311.9 247.6h0M493.1 150.2h0M501.1 139.8h0M406.4 234.6h0M531.9 87h0M164.4 420.5h0M370.8 193.3h0M158.7 422.7h0"/>
<path stroke="#0000ce" d="M291 270.9h0M534.3 96.7h0M241.2 376.7h0M209.5 349.9h0M461.7 182.8h0M361.2 202.8h0M279.8 347h0M409.1 234.7h0M300.1 259.6h0M360.4 206.6h0M412.9 230h0M250.8 370.5h0M167.9 400.1h0M449.4 197.8h0M535.6 90.6h0M265.8 295h0M236.6 378.7h0M468.2 117.8h0M180.3 409.9h0M178.9 385.2h0M251.4 308.3h0M516.3 121.4h0M230.7 385.2h0M215.1 394.2h0M270.8 291.3h0M160.9 422h0M187.6 376.4h0M360.9 275h0M217.8 393.2h0M386.9 254.4h0M255.7 309h0M486.8 158.2h0M348.6 284.9h0M213.7 348.1h0M513.6 124.9h0M473.7 171.8h0M272.9 287.1h0M272.2 289.8h0M295.9 332.2h0M187.6 404.7h0M182.7 409.1h0M378.1 261.6h0M428.9 148.3h0M309.8 321.1h0M465.6 120.1h0M522.6 115h0M241.1 380.4h0M244.8 371.6h0M360.9 273.2h0M255.3 304.8h0M255.3 365.5h0M231.6 385.8h0M457.2 184.6h0M171.2 398.4h0M267 353.1h0M508.9 93.4h0M204.7 400.5h0M198.4 364.8h0M433.9 207.9h0M529.8 100.3h0M165.9 417.7h0M301.7 328.8h0M213 389.9h0M524.8 87.4h0M376 266.5h0M395.7 172.9h0M384 187.1h0M320.5 312.3h0M281.3 346h0M291.8 268.7h0M174 417.9h0M304.4 326h0M395.7 244.7h0M314.1 320.4h0M489.1 153.4h0M261 365.3h0M251.1 372h0M325.6 239.7h0M202.9 360.9h0M533.5 97.7h0M454.3 190.5h0M338.2 295.8h0M327.5 304.9h0M240.3 322.2h0M393.3 175.2h0M302.1 260.4h0M316.3 318.7h0M213.5 388.6h0M365.5 272h0M222.3 387.1h0M305.9 322.8h0M453.2 191.6h0M411.8 230.7h0M447.1 196h0M371.7 266.4h0M358 277.8h0M394 251.1h0M193.5 370h0M387.9 181.5h0M458.5 124.5h0M532.1 98.6h0M318.1 317.8h0M249.3 371.3h0M197.5 401.1h0M531.6 86.6h0M277.4 348.4h0M269.5 350.3h0M510.7 92.3h0M377.9 187.4h0M200.4 400h0M429.1 214.6h0M250.4 312.9h0M217.9 388.4h0M254.3 365.7h0M501.3 95.9h0M173.5 394h0M331.5 303.7h0M375.5 264.3h0M266 358h0M155.3 425.4h0M337.2 298.1h0M285.4 338.2h0M244.9 316.7h0M161.5 412.3h0M188.3 373.7h0M170.8 414.8h0M272.9 291.1h0M224.5 335.6h0M472.5 170.6h0M268.3 351.6h0M194.6 401h0M358.6 278.9h0M298.5 330.9h0M527 105h0M156.3 413.3h0M532.1 96.9h0M203.1 360.4h0M504.4 136.3h0M161.4 412.8h0M283.7 348.8h0M229 334.7h0M221.6 339.9h0M458 186.8h0M317.7 246.6h0M293.2 332.2h0M319.3 245.3h0M370.9 195.4h0M410.5 230.3h0M197.6 399.5h0M241.7 319.1h0M189.8 377.6h0M328 235.4h0M469.5 117.9h0M326.1 305.1h0M296.7 265.7h0M413.4 229.4h0M260 365.7h0M207.9 354.8h0M371.5 267.5h0M308.9 319.5h0M438.1 202.6h0M518.5 116.6h0M211.2 395.8h0M188.1 407.1h0M163 419.2h0M408.4 232.8h0M225 388h0M485.1 157.4h0M252.5 368.2h0M504.1 136.3h0M457.2 183.6h0M524.5 111.1h0M274.4 347.9h0M463.9 177.7h0M477.4 165.2h0M391.4 247.7h0M248.6 313.9h0M202 362.1h0M430.8 207.7h0M494.8 148.6h0M353.5 284h0M249.5 373.1h0M428.3 149.6h0M489.3 155.9h0M297.7 331.6h0M378.6 262.8h0M353 212.6h0M261.5 362h0M457.5 185.1h0M278.6 348.6h0M343.2 220.4h0M417.9 222.5h0M323.7 305.8h0M338.8 293.2h0M198.5 399.7h0M190.1 377.4h0M186.5 377.7h0M333.3 227.1h0M325.4 307.6h0M243.9 319.4h0M302.3 260.8h0M466.7 177.1h0M415.2 227.6h0M385.9 182.9h0M303 327.1h0M483.9 159h0M398 172h0M236.2 377.2h0M516.7 89.5h0M186.9 406.8h0M307.1 256.2h0M321.2 241.6h0M328 301.4h0M401.4 239.9h0M249.3 314.1h0M381.9 255.8h0M172.2 396.2h0M507.8 131.7h0M378.7 189.9h0M351.4 213.1h0M452.6 189.3h0M450.7 191.9h0M155.1 420h0M201.7 399.1h0M175.4 416.4h0M320.1 309.9h0M531.2 98.3h0M371 196h0M181.2 385.7h0M374.4 193.6h0M333.3 300.8h0M283.8 340.6h0M362.2 273.1h0M362.3 203.6h0M238.2 379.3h0M512.6 93.1h0M298.3 265.8h0M182.3 410.6h0M532.3 87.9h0M169.9 421.5h0M151.5 421.8h0M251.1 312h0M206.1 358.8h0M409.8 163.3h0M267.9 356.9h0M249.8 371.8h0M218.6 387.7h0M213.2 391.9h0M244.7 317.3h0M506.7 95.5h0M495.1 100.7h0M390.2 179h0M448.2 194.2h0M151.3 422.4h0M379.5 258.8h0M361.5 272.9h0M392.1 245.1h0M442.8 136.1h0M263.9 362.2h0M220.8 341.2h0M262.7 297.8h0M291.4 335h0M354.7 211.7h0M159.3 423.3h0M463.1 178.4h0M308.6 320.8h0M190.7 374.4h0M505.6 95.9h0M297.5 331.4h0M337.3 226.2h0M220.8 387.8h0M469.6 175h0M220.4 387h0M462.9 123.6h0M420.3 225.1h0M369.8 195.6h0M367.3 273.3h0M438.1 140.8h0M365.1 272.7h0M357.8 206.9h0M422.6 219.5h0M354 211.2h0M425 151.2h0M196.8 366.5h0M318.8 241.5h0M221.8 340.4h0M433.4 144h0M380.9 255.6h0M233.8 326.7h0M417.1 225.9h0M155.3 417.4h0M283.6 343.4h0M352.6 285h0M275.8 348.2h0M439.2 140.7h0M343.3 219.8h0M446 135.1h0M255.7 363.6h0M389.2 249.8h0M288.2 337.2h0M501 140.3h0M519.7 89.1h0M161.8 412.2h0M235 377.6h0M530.5 88.6h0M303 324.7h0M239.6 373.6h0M288.6 273.9h0M491.2 150h0M342.5 289.6h0M330.9 304.4h0M253.6 310.8h0M301.9 328.4h0M210.9 349.2h0M319.9 314.3h0M328.9 300.9h0M236.5 377.3h0M327.5 300.1h0M389.7 249h0M531.9 92.4h0M347.2 287.3h0M218 391.3h0M366.6 271.1h0M234.5 327h0M282.4 341.8h0M431.7 213h0M280 346h0M274.9 346.7h0M241.8 377.8h0M486.8 157h0M530.5 98.9h0M348.9 285.6h0M189.4 376.9h0M257.2 363.3h0M344.5 286.6h0M378.1 190.5h0M264.7 353.9h0M469.9 117.9h0M219.3 384h0M491.2 149.6h0M404.3 236.6h0M382 187.5h0M186.3 378.9h0M498.4 99.2h0M279.6 283.3h0M237.4 324.7h0M338.9 292.9h0M428.9 213h0M476.2 167.6h0M184.1 382h0M243.7 319.8h0M292.1 335h0M295 331.2h0M299.1 263.8h0M298.8 328.1h0M304.3 259.2h0M160.5 418.5h0M529.5 89.5h0M379.7 187.7h0M198.8 368.1h0M283 337.4h0M169.1 400.2h0M258.9 366.1h0M508.9 93.1h0M233.7 328.6h0M466.1 176.3h0M212.8 348.6h0M245.5 373.2h0M335.1 227.4h0M250.3 368.8h0M182.3 407.6h0M455.9 185.3h0M275.2 288.3h0M387.8 253.6h0M241.8 370.6h0M175.7 411.9h0M276.7 288.8h0M495.9 145.4h0M163.8 411.7h0M160.5 419.2h0M161.3 421.3h0M377.9 188.9h0M200.9 364.3h0M337.3 296.1h0M448.1 193.8h0M390 251.9h0M261.9 355.1h0M446.2 134.9h0M232.9 378.2h0M448.4 134.3h0M498.7 140.6h0M311.1 317.7h0M432.8 145.5h0M202.1 396.4h0M395.3 175.1h0M198.1 370.2h0M314 317.9h0M517.2 89.4h0M376.5 261.8h0M414.8 159.2h0M502.8 97.1h0M456.9 126.5h0M263 356.8h0M507.8 130.9h0M246.3 316.4h0M185.9 408h0M262.8 359.4h0M353.4 280.5h0M237.2 327.1h0M146.8 427.7h0M482.8 109.8h0M304.7 259h0M440.2 139.1h0M463.9 177.5h0M221.3 343.1h0M255.4 306.1h0M308.1 321.4h0M276 287.8h0M404.4 238.2h0M180.6 407.9h0M331.9 298.7h0M296.3 265.9h0M307.5 324.4h0M425.9 150.4h0M257.9 307h0M156.8 415h0M225.2 384.7h0M452.6 188.7h0M212.3 393.4h0M294.6 331.3h0M248.6 370.6h0M264.9 358.4h0M533.3 95.9h0M454.2 128.9h0M424.9 218.8h0M203.3 362.2h0M395.1 175h0M325.8 238.2h0M390.1 248.1h0M226.6 388.9h0M176.5 394.2h0M495.7 144.4h0M343.6 291.1h0M456.4 128h0M434.9 143.5h0M384.6 184.5h0M456.2 184h0M293.4 268.8h0M490.5 105.3h0M533.6 93.4h0M262.1 302h0M444.9 198.2h0M262.9 352.4h0M495 143.7h0M418.6 156h0M378.5 189.5h0M364 201.3h0M268.5 351.2h0M280.3 343.7h0M194 400.4h0M509.6 93.6h0M461.7 122.8h0M297.8 328.5h0M173.5 396.1h0M195.9 403.1h0M297.4 329.2h0M441.9 201.4h0M280.7 341.5h0M322.4 308h0M212 391.2h0M435.1 206.6h0M221.9 342.2h0M158.2 422.2h0M326 308.6h0M365.3 272.5h0M228.7 335.5h0M230.3 332.5h0M339 293.4h0M228.8 385h0M227.8 335h0M504.9 95.6h0M524.8 108.3h0M516.9 118.4h0M356.8 208.1h0M166.4 408.4h0M280.7 281.7h0M311.3 315.4h0M310.8 252.9h0M419.9 154.3h0M475.7 166h0M230.6 378.5h0M519.1 116.1h0M454.6 187.9h0M368.1 198.7h0M264 357.3h0M211.7 353.6h0M436.8 142.3h0M200 364h0M262.5 355.3h0M525.8 107.2h0M402.2 241.4h0M281.4 340.7h0M230.7 329.6h0M238.4 326.3h0M503.8 132h0M216.5 387.5h0M289.4 333.1h0M187.5 405h0M216 348.2h0M239.1 375.8h0M374.2 264.8h0M503.6 136h0M315.3 316.5h0M488.3 156.7h0M442.2 198.3h0M417.2 225.5h0M437.9 203.6h0M201 398.2h0M391.5 178.5h0M198.7 365.2h0M313.1 315.4h0M240.9 373.1h0M345.4 283.3h0M163.1 411.4h0M352.3 212.1h0M359.8 276.1h0M447 134.6h0M524.2 90.2h0M502.1 97.8h0M394.2 244.1h0M214.8 350.4h0M201.3 363.8h0M532.3 94h0M174.9 413.6h0M466.2 120.9h0M195 398.6h0M212.4 385.7h0M417.6 218.2h0M251.6 364.9h0M501.5 98.1h0M280.9 339.7h0M288.2 276.1h0M237.3 378.1h0M289.1 276.3h0M438 202.1h0M271.8 291h0M340 297.7h0M413 228.2h0M234.6 376.9h0M224.3 335.6h0M219.4 343.1h0M245.2 319.7h0M185 380.3h0M213.3 384.8h0M161.3 417.8h0M301.9 324.9h0M473.6 170.5h0M198.5 365.9h0M359.1 276.5h0M176.9 393.4h0M529.9 91.2h0M423 217.5h0M181.8 388.8h0M204.3 360.9h0M233.7 375.5h0M227.4 337.2h0M527.2 87.2h0M158 415h0M259.7 302.9h0"/>
<path stroke="#0000da" d="M459.6 124.2h0M207.2 392.8h0M189.1 377.7h0M256.4 358.7h0M205.5 396.8h0M352.4 212.2h0M272.6 292.6h0M439.4 141.2h0M303.8 259.7h0M184.9 383.1h0M449.7 132.6h0M435.9 142.8h0M415.3 224h0M259.3 304.5h0M385.1 253.7h0M191.6 400.9h0M530.8 92.8h0M252.5 310.7h0M409.6 232.3h0M380.4 256.6h0M321.2 309.9h0M485.5 156h0M318.8 310.3h0M217.2 346h0M326.9 237h0M514.8 123.3h0M501.7 98.3h0M497.1 143.9h0M389.5 178.8h0M319.6 244.9h0M411.9 162.4h0M293.9 268.6h0M488.7 104.7h0M453.6 186.1h0M305.2 321.5h0M473.8 115.4h0M299.2 265.4h0M450.5 131.4h0M381 255.4h0M339.4 289.8h0M256.7 356.2h0M345.3 290.4h0M426.9 150.5h0M265.7 299.3h0M400.2 239.6h0M310.1 316.8h0M207.9 392.5h0M481.1 110.1h0M239 377.4h0M207.1 391.2h0M303.4 259.3h0M394.5 177.4h0M368.2 196.9h0M364.7 201h0M215.3 346.7h0M293.4 330h0M268.3 352.1h0M300.6 330.4h0M319.7 310.9h0M160.1 420.5h0M491.7 145.9h0M451.7 131.5h0M169.6 415.1h0M236.5 372.4h0M271.2 292.2h0M267.2 349.4h0M231.8 378.8h0M466.3 119.9h0M324.2 305.3h0M185.2 404.4h0M277.2 341.3h0M521 90.2h0M271.3 350.1h0M401.9 170.3h0M172.7 414h0M247.8 372.2h0M505.2 97.4h0M316.1 248.1h0M475.8 164.8h0M222.8 384.8h0M163.6 409.6h0M472.9 114.8h0M264.1 352h0M397.3 242.9h0M307.6 321.8h0M369.1 196.6h0M187.5 403.1h0M444.2 196h0M276.2 346.2h0M248 371.2h0M269.1 293.7h0M496.3 144.4h0M254.8 310.4h0M491.3 104.6h0M434.3 144.8h0M486.5 106.6h0M320.6 308.2h0M272.9 350.5h0M309 315.8h0M442.4 139h0M293.8 329.6h0M477.8 164.3h0M286.9 335.8h0M450.7 192.4h0M213 350.8h0M186.8 378.1h0M294.8 329.5h0M161.6 414.4h0M436.8 202.8h0M328.4 234.4h0M357.6 278.3h0M409.6 163h0M315.1 314.9h0M343.1 221.2h0M417.4 219.6h0M237.2 371.3h0M254 364.2h0M222 342.4h0M235.6 327.2h0M189.4 377.2h0M265.6 350.5h0M180.4 389.1h0M305.1 258.8h0M399.6 239.2h0M245.9 317.1h0M496.4 100.7h0M161.7 417.7h0M418.2 158.2h0M356.2 279.6h0M193.8 370.6h0M304.8 258.2h0M384.8 184.2h0M380.9 258.7h0M321.2 243.3h0M345.2 286.1h0M240.3 371.3h0M192.3 395.8h0M391.4 245.5h0M529.9 89.3h0M197 397.3h0M289 333.6h0M522.8 109.8h0M221.2 383.5h0M253.9 357.9h0M184 402.6h0M462 180.7h0M249.2 367.4h0M380.4 188.2h0M314.7 248.3h0M261.5 354.2h0M274.2 291h0M181.2 409.2h0M380.6 187h0M530.2 102.6h0M184.9 384.8h0M251.4 313.4h0M463.7 176.6h0M304.9 319.1h0M346.6 219.1h0M264.8 352.2h0M233.6 330.7h0M349.4 281.9h0M445.1 197.6h0M351.8 283.8h0M336.2 297.7h0M294.2 269.2h0M412.1 229.6h0M240.9 319.8h0M183.2 405.2h0M156.5 422.5h0M284.8 278.3h0M487.1 107.3h0M512.2 123.7h0M251.4 364.2h0M160.9 412.4h0M213.1 388.7h0M399.6 174.6h0M396.1 176.6h0M409.5 164.1h0M475.2 165.7h0M380.5 253.4h0M338 294.5h0M499.8 139.1h0M396.7 240.8h0M248 365.4h0M172.6 411.6h0M249.1 314.8h0M237.9 325.8h0M204.6 362.1h0M224 383.4h0M457.9 184.1h0M297.3 328.5h0M160 418.2h0M339.1 292.1h0M527 89.3h0M317 312.7h0M203.5 394.5h0M304.6 319.9h0M384.9 250.9h0M317.7 246.3h0M213.8 384.7h0M403.8 236.2h0M327.6 237.1h0M379.9 253.9h0M169 403.4h0M181.8 404.7h0M406.3 166.3h0M493.3 103.6h0M331.9 299.6h0M314.5 248.6h0M495.4 101.8h0M244.9 370.9h0M264.2 298.8h0M438.2 141.3h0M292.8 331.5h0M170.9 415.4h0M183.3 402.2h0M225.5 381.4h0M359.8 272h0M282.3 340h0M486 153.3h0M425.1 215.9h0M449.8 191.2h0M250.7 314.4h0M521.7 114.5h0M201.6 363.6h0M196.5 397.1h0M359.3 276.4h0M161.3 411.7h0M504.6 96.3h0M352.5 280.4h0M168.4 405.1h0M421 155.4h0M372.1 194.6h0M154.8 421.5h0M337.8 292.1h0M250.4 315.2h0M265.6 301.1h0M445 195h0M171 404.2h0M529.2 96.1h0M225.2 340h0M282 280.7h0M224.3 380h0M228.8 380.6h0M479.9 111.2h0M410.6 227.6h0M337.9 226.7h0M451 131.9h0M304.2 318.6h0M207.1 390.7h0M334 297.6h0M383.5 253.7h0M209.6 351.9h0M405.2 167.5h0M377.1 259.7h0M241 370.4h0M517.4 118.7h0M217.7 348h0M252.2 362h0M342.4 222h0M206.7 359.5h0M387.1 249.6h0M174.5 396.4h0M520.3 114.9h0M279.6 286.4h0M488.6 152.8h0M507.5 96.5h0M210.4 389h0M245.2 368.8h0M229 377.4h0M335.9 295.9h0M253.7 310.3h0M330 302.1h0M272.1 346.5h0M229.3 336.6h0M246.5 314.8h0M344.5 288.2h0M179.7 389.3h0M333.3 231.1h0M352.3 212.7h0M225.5 338.9h0M244 367h0M382 253.1h0M485.1 107.1h0M345.4 283.5h0M177.5 409.1h0M183.8 401.4h0M230.3 381.7h0M181.5 385.3h0M185.9 380.9h0M304.8 317.5h0M388.4 250.8h0M477.5 113h0M324.3 304.3h0M323.7 305.4h0M426.3 151.3h0M262.3 355.6h0M271.7 292.6h0M523.9 107.4h0M519 114h0M422.1 153.9h0M306 316.5h0M475.4 167.2h0M308.7 258.5h0M177.6 391.5h0M275.4 344.6h0M353.4 278.8h0M233.5 372.4h0M231.7 331.8h0M256.2 309.4h0M153.7 420.3h0M483.2 158.7h0M171.6 403.6h0M207.9 356.6h0M527.7 105.9h0M312.5 252.8h0M189.4 378.2h0M297.9 266.3h0M471.4 170.2h0M197.6 371.2h0M327.5 237.3h0M248.3 317.5h0M162.3 410.2h0M302.2 324.3h0M248.8 365h0M323.5 306.2h0M384.3 249.9h0M421.5 218.2h0M341.6 286.7h0M163.7 409.6h0M485.8 155.7h0M178 411.6h0M179.3 389.4h0M331.8 300.8h0M473 169.6h0M191.4 373h0M480.5 160h0M378.9 190.4h0M457.7 183.9h0M365.3 201.8h0M432.5 145.6h0M278.5 286h0M483.3 109h0M291.4 269.9h0M299 327.8h0M281 284h0M260.2 303.5h0M498.9 138.9h0M192.9 372.3h0M527.5 88.2h0M354.4 211.4h0M439.8 139.1h0M186.1 382.1h0M258.8 361.7h0M337.6 290.1h0M281.6 336.4h0M338.5 289.9h0M309.5 256.2h0M271 294.1h0M316.6 312.9h0M177.5 406.7h0M265.4 299.6h0M378.7 256.8h0M171 398.5h0M303.4 318.7h0M395.9 175.4h0M402 234.1h0M276.2 341.6h0M322.4 241.8h0M530.9 96.8h0M196.2 396.1h0M160.1 412.8h0M427.5 214.1h0M225.8 337.4h0M415.8 159.1h0M376.2 192.6h0M307.7 316.2h0M394.2 244.4h0M207.1 359.5h0M355.7 277.7h0M398 240.3h0M301.4 325h0M411.9 227.7h0M281.1 335.8h0M168.5 404.9h0M397 240.5h0M271 347.9h0M506.2 98.7h0M484.7 108.9h0M426.6 212.4h0M279.4 338.6h0M296.5 324h0M223.1 381.6h0M368.8 266.7h0M333.3 295.7h0M523.9 109.4h0M310.2 253.9h0M468 172.9h0M429.1 212.5h0M164.1 410.8h0M366.3 272.1h0M171 398.8h0M443 198.9h0M322.8 242.5h0M175.6 407.6h0M186.8 400h0M376.8 191.3h0M407.2 234h0M248.6 359.9h0M526.8 89.8h0M203 361.7h0M160.6 418.6h0M183.5 401.8h0M484 108.9h0M233.2 332.2h0M232.8 372.1h0M440.3 199.2h0M419.5 156.9h0M327.2 238.1h0M230.2 332.5h0M239.3 372.2h0M505.1 98.6h0M263.2 303.7h0M367.6 199.9h0M397.7 237.6h0M254.6 360.4h0M404.5 168.1h0M473.5 116.6h0M238.1 370.9h0M201.6 392.3h0M362.1 271.3h0M296.8 268.5h0M345.8 285h0M381.9 250.6h0M297.6 265.9h0M299.5 327.4h0M394.9 242.8h0M182.7 385.5h0M327.6 239.3h0M203.7 390.6h0M236.1 328.6h0M286.9 338.4h0M530.1 100.4h0M482.5 158.2h0M484.9 156h0M252.6 311.1h0M513.3 123.8h0M315.8 315.2h0M234.1 375.9h0M333 293.9h0M439.3 201.8h0M254.9 355.8h0M501.6 136.6h0M180.1 390.8h0M387.7 183.4h0M174.1 402.5h0M458.1 183.3h0M375 193.1h0M305.8 259h0M246.4 371.6h0M463.7 178.2h0M169.6 407h0M357.6 208.5h0M528.7 94.1h0M283.3 336.2h0M203.2 390.5h0M355.1 276.2h0M360 206h0M321.4 306.3h0M454.9 186.2h0M456.6 127.6h0M289.6 330.2h0M374.6 194.3h0M209 390.1h0M527 88.6h0M289 276.5h0M518.7 94h0M339 288.7h0M259.7 356.5h0M174.6 397.2h0M490.9 152.1h0M184.7 387.9h0M281.1 285.2h0M270.6 350.2h0M217.3 384.9h0M186.8 385.5h0M220.3 342.4h0M165.6 415.9h0M170.7 410.4h0M254.8 360.1h0M265.8 299.1h0M266.8 299.3h0M336.3 294.2h0M333.6 294.1h0M160.7 412.2h0M248.1 319h0M486.8 152.4h0M294.3 329.1h0M190.1 377.4h0M374.6 193.5h0M223.7 382.3h0M529.5 96.9h0M295 327.1h0M455.4 185.2h0M212.6 355.9h0M391.6 243.9h0M320.3 309.1h0M337.3 229.4h0M456.4 184.7h0M453.7 185h0M167.3 409.6h0M191.4 397.8h0M387.5 183.5h0M238 370.7h0M386.1 248.5h0M186.1 399.2h0M436.5 203.7h0M296.7 327.6h0M364.6 202.9h0M528.5 92.4h0M282.1 281.8h0M325.5 300.1h0M318.6 309.9h0M425.8 211.7h0M315.9 247.8h0M210 385.8h0M194.7 378.4h0M409.7 229.7h0M423.3 215.7h0M285.6 279.4h0M461.4 180.4h0M178.5 391.9h0M220.2 382.5h0M211.4 389.3h0M410.6 164.6h0M365.5 268.4h0M245.6 319.8h0M258 353.2h0M232.3 373.3h0M205.5 390.7h0M237 327.5h0M234.7 327.3h0M520.3 90.5h0M277.3 286.8h0M222.8 343.3h0M232.9 371.3h0M447.7 190.8h0M268.4 295.1h0M325.6 240.9h0M414.7 225.6h0M476.1 165.4h0M261.9 352.2h0M248.2 317.2h0M177.5 391.7h0M217.8 385h0M182 404.4h0M243.7 369.6h0M468.9 172.1h0M318.8 312h0M475.1 116.4h0M281.9 333.3h0M167 414h0M192.7 374.1h0M290.9 273.8h0M173.1 409.7h0M213.3 388.5h0M313.1 251.5h0M276.9 286h0M226.6 337.4h0M307.7 315.5h0M314.5 312.8h0M329.9 237.1h0M325.5 300.5h0"/>
<path stroke="#0000e6" d="M267.7 297.3h0M303.8 262.9h0M396.2 238.7h0M316.7 310.4h0M202 391.5h0M201 363.7h0M524.6 90.7h0M172.2 410.8h0M233.5 370.7h0M382.8 249.9h0M196.2 393.9h0M186.3 381.7h0M205.8 360.9h0M226.5 376.8h0M470.3 119.6h0M345.1 221h0M421.9 217.3h0M166.4 407.4h0M256.3 309.3h0M299.8 264.1h0M355.3 210h0M502.2 98.7h0M174.2 401.2h0M365.4 265.4h0M302.9 318.9h0M433.1 145.6h0M222.2 344.8h0M168.3 411h0M275.1 347.2h0M495.9 143.2h0M229.9 376.6h0M260.8 353.9h0M340.7 287.6h0M488.5 105.1h0M351.8 277.5h0M302.1 324.9h0M363.2 268.8h0M235.3 370.4h0M373 195.8h0M292.7 272h0M387.4 249.3h0M179.6 406.8h0M481.3 160.4h0M165.6 411.4h0M325.7 240.7h0M336.3 228.6h0M366.1 267.1h0M298.7 267h0M167.7 417.1h0M291.8 328.9h0M519.5 114.2h0M188.9 400.3h0M414.1 159.9h0M375.2 260.6h0M299.5 322.1h0M425.4 215.3h0M338.7 288.8h0M387 248.6h0M215.3 382.5h0M375 257.8h0M231.3 378.1h0M263.3 302.8h0M214.9 348.9h0M273 294.3h0M470.1 171.9h0M242.3 367.7h0M414.4 225.2h0M527.4 91.2h0M240.3 371h0M433.7 205.2h0M266 300.3h0M446.8 192.6h0M185.9 386.9h0M284.3 278.6h0M229.8 376.5h0M444 196.7h0M383.1 249.4h0M338 291.6h0M362.3 270.2h0M212.9 356.2h0M325.1 240.8h0M446.8 190.8h0M313.9 310.8h0M278.7 286.5h0M300.2 322.2h0M180.8 392.5h0M483.8 154.2h0M241.2 370.8h0M238.6 368.3h0M502.5 135.1h0M229.3 372.3h0M387.5 247.9h0M431.5 208.5h0M488.8 105.9h0M423 215.5h0M392.7 178.4h0M488.5 106.1h0M176.3 396.8h0M336.1 292.2h0M284.5 281.8h0M277.3 338.9h0M376.6 256.5h0M462.9 176.5h0M426.3 210.9h0M260.4 359h0M437.7 201.7h0M363.2 269.2h0M518 119.1h0M189.4 398.8h0M225.6 377.8h0M472.6 117.1h0M309.1 317.3h0M492.4 147.9h0M466.8 173.7h0M190.8 397.8h0M524.7 90.8h0M222.4 344.7h0M204.4 391.7h0M259.5 306.9h0M452.2 187.3h0M280.7 286.6h0M467.7 173.3h0M223.2 378.7h0M273.1 292.1h0M406.2 166.7h0M197.6 371.2h0M404.6 232h0M259.2 307.7h0M192.9 394.3h0M248.3 362h0M298.7 321.5h0M340 287.2h0M365 268.1h0M184 401h0M406.8 232.4h0M239.9 374.3h0M194.8 373.5h0M405.8 232.1h0M384.5 186.5h0M244.1 367.2h0M493.7 103.5h0M523.5 92.8h0M200.2 393.3h0M383.1 247.5h0M410.7 224.5h0M362.8 205.9h0M495.7 142.3h0M184.9 382.2h0M333.4 233.2h0M384.3 186.7h0M500.4 99.6h0M248.4 317.1h0M514 122.7h0M370.1 197.8h0M245 365.1h0M249.6 316.5h0M281.8 332.9h0M258.6 307.6h0M331.3 294.9h0M447.6 134h0M289.2 331.7h0M174.4 398.1h0M281.2 333h0M389.5 243.3h0M446.6 135.4h0M192 394.2h0M218.8 348.4h0M528.5 92.9h0M175.2 408.2h0M528.4 100.9h0M513.3 124.3h0M239.8 367.3h0M336.8 230.2h0M410.7 165h0M182.7 389.3h0M392.2 243.8h0M520.3 92h0M305.5 316.7h0M286.4 330h0M373.6 260.9h0M173.5 407.6h0M451.1 190.3h0M194.4 375.4h0M207.2 385.7h0M228.8 337.6h0M255.2 354.3h0M336.1 226.9h0M358.2 274.2h0M173.3 408.7h0M253.9 353.9h0M378.8 191.2h0M363.5 267h0M214.5 382.5h0M258.2 308.6h0M286.5 278.5h0M323.2 303.8h0M293.4 274h0M187.7 383.7h0M416.5 223.1h0M435.6 201.2h0M235.3 328.9h0M274.9 340.6h0M451 188.4h0M303.9 321.1h0M224.9 338.1h0M411.9 163.7h0M225 376.6h0M316.5 309.5h0M478.5 160.8h0M182.1 403.8h0M431.5 205.4h0M241 367.9h0M311.8 312.8h0M463.3 177.2h0M478.2 113.1h0M253.3 356.5h0M269.8 347.1h0M515.9 119.7h0M413.4 222.9h0M378.4 255.8h0M377 255.7h0M413.5 224.9h0M383.4 186.7h0M320 308.6h0M306.8 314.2h0M489.5 150.5h0M489.5 149.7h0M172.2 407.6h0M513.8 93.8h0M313 310.4h0M213.4 354.5h0M257.6 308h0M436.5 144h0M307.9 258.8h0M429.2 208h0M385.6 248.7h0M264.3 304.5h0M187.8 381.8h0M197.8 395.4h0M386.3 184.1h0M318.7 245.2h0M301.3 323.1h0M275.4 290.4h0M303.7 261.9h0M197.3 400.3h0M302.8 324.3h0M446.9 135.4h0M268.2 300.4h0M431.4 146.7h0M358.7 270.8h0M238.3 366.1h0M450.8 186.5h0M314 309.8h0M203.8 364.1h0M439.8 197.8h0M177.9 407.4h0M295.9 269.7h0M218 379.4h0M379.8 253.8h0M364.8 205.1h0M381.1 253.1h0M162 415.5h0M478.1 113.9h0M480.6 159.5h0M386.4 185.3h0M527.8 94.5h0M319 246.2h0M358.9 207.7h0M337.4 229.1h0M214.1 350.8h0M312.1 311.3h0M495.5 102.2h0M297.1 328.6h0M430.6 206.6h0M495.5 143.6h0M261.8 352.2h0M525 105.4h0M182.2 390.9h0M526.7 105.1h0M296.1 327.4h0M342.8 286.3h0M291.6 326.8h0M194 375.8h0M396.3 239.5h0M335.1 233.2h0M473.8 167.1h0M188.6 401.4h0M454.4 182.8h0M508.3 127.9h0M331.4 233.4h0M420.1 216.2h0M420.7 216.1h0M312.8 251.8h0M450 132.6h0M167.4 406.6h0M287 278.4h0M304.8 315.2h0M388.2 183.5h0M183.9 400.4h0M248.2 361.4h0M274.4 342.6h0M254.4 353.3h0M274.9 342.9h0M282.7 283.4h0M436.6 206.1h0M394.6 178.9h0M391.6 181.1h0M421.2 155.9h0M491.6 105.3h0M224.7 340.9h0M325.1 301.5h0M485.4 107.7h0M443.5 136.8h0M279.7 338.6h0M325.8 242.2h0M412.1 164.5h0M263.6 349.5h0M383.1 187.2h0M361.2 271.8h0M244.7 366h0M278.9 288h0M204.7 388.5h0M419.8 217.1h0M424.5 211.8h0M179 392h0M488.2 106.7h0M428.9 208.3h0M201.8 365.3h0M203.6 363.5h0M189.1 382.8h0M318.7 306.2h0M190.2 401.8h0M172.9 411.7h0M212.7 385.9h0M463.7 175.6h0M419.7 156.5h0M317.6 247.3h0M182.6 403h0M322.6 305.7h0M290.3 328.6h0M330.6 235.2h0M373.9 260.5h0M272.9 340.1h0M353.9 211.4h0M236.6 370.5h0M480.9 112.4h0M392.4 240.4h0M226.6 372.7h0M280 334.6h0M199.1 366.6h0M427.1 150.7h0M430.1 207.6h0M374.5 256.6h0M266.2 346.8h0M335.2 287.8h0M352.7 212.5h0M175.2 404.2h0M250.8 358.2h0M322 244.3h0M374.3 194.3h0M302.6 316.2h0M470.5 118.4h0M324.7 303.2h0M434.8 202.4h0M300.1 266.5h0M401.5 172.4h0M336 293.8h0M269.9 343.8h0M429.3 149.4h0M271.5 345.4h0M361.2 206.3h0M509.1 94.6h0M308.6 314.5h0M307.2 313.2h0M410.9 164.7h0M261.6 350.6h0M389.2 181.9h0M431.7 146.9h0M265.3 352.1h0M201.2 367.4h0M353.3 276h0M527.2 96.7h0M399.3 174.2h0M385.7 185.2h0M253.4 313.8h0M473.3 167.5h0M406.8 228.1h0M311.8 254.4h0M176.9 395.9h0M335.1 293h0M305.5 261h0M416.6 159.1h0M202.6 391.4h0M229.6 336.4h0M160.2 415.4h0M474 165.9h0M185.3 383.9h0M340.6 225.3h0M311.8 313h0M231.1 335.1h0M452 186.7h0M197.7 394.1h0M351.3 216.3h0M292.7 326.3h0M423.8 215.1h0M267.1 348.6h0M166.2 407.2h0M213.9 384.2h0M195.5 373.1h0M273 340.2h0M515.4 119.3h0M258 308.7h0M372.4 261.9h0M399.1 176h0M194 378.5h0M285.6 281.3h0M360.2 207.5h0M388.9 242.7h0M507 128.7h0M428.6 208h0M332.2 233h0M275.7 339h0M272.4 292.8h0M174.2 408h0M293.8 326.9h0M316.8 309.9h0M274.3 292.7h0M421.9 155.1h0M371.4 265.5h0M218.8 348.3h0M254.8 312.1h0M321.2 303.4h0M237.9 328.4h0M529.8 92.1h0M478 113.4h0M437.5 198h0M484.3 155h0M349.4 278.8h0M480.3 112.6h0M216.3 382.2h0M315.2 306h0M433.9 145.5h0M283.3 332.7h0M210.5 357.7h0M482.4 157.1h0M249 358.5h0M519.2 112.7h0M397.5 238.9h0M240.9 363.8h0M368.3 261.7h0M307.3 314.8h0M266.4 344h0M328.6 299.8h0M381.5 251.4h0M331.4 235.9h0M211.4 381.3h0M225.1 340h0M352 277.2h0M404.5 232.1h0M237.3 330.9h0M527.7 100.9h0M378.9 191h0M248.9 315.7h0M371.4 196.1h0M527.8 93.4h0M192.6 380h0M451.9 130.7h0M467.7 120.3h0M345.9 220.9h0M313.8 308.6h0M292 275.8h0M248 362.7h0M354.1 275h0M398.4 236.9h0M279.1 287.5h0M247.7 364.1h0M178.9 393.4h0M405.1 230h0M179.2 394.9h0M527.3 96.2h0M257 352.2h0M350.6 214.7h0M226.3 338.2h0M195.1 376.5h0M428 211.3h0M217.8 381.6h0M260 356h0M394.9 239.3h0M175.7 398.3h0M220.2 347.6h0M270.7 349h0M414.1 220.7h0M334.6 290.5h0M471.6 117.3h0M411.2 223.4h0M313.7 304.9h0M425.5 152.5h0M367.2 201.4h0M340.5 284.2h0M481.2 160.4h0M373.1 257.7h0M468.8 170h0M506 98h0M241.4 323.1h0M419.9 157.3h0M352.3 276.9h0M204.1 390.4h0M393 240.2h0M294.1 271.1h0M448.6 189.5h0M320 301.7h0M381.4 252.4h0M364.5 203.8h0"/>
<path stroke="#0000f2" d="M221.3 374.7h0M479.4 112.8h0M528 96.2h0M234.4 333.1h0M491.2 146.8h0M265.5 344.2h0M268.3 297.3h0M194.1 373.3h0M433.3 202.6h0M450.3 186.6h0M285.4 279.7h0M180.2 394.2h0M511.8 123.7h0M312.3 254.7h0M421.2 213.6h0M497.5 140.1h0M346.7 280.8h0M197.6 373.5h0M381.6 252.5h0M371.5 197.3h0M362 265.9h0M361.6 269.3h0M260.3 352.3h0M355.2 272.6h0M277.1 338.5h0M254.5 312.4h0M183.3 400h0M520 110h0M373.4 197.4h0M525.8 105h0M252 313.7h0M223.4 374.8h0M504.4 133.4h0M266.6 344.5h0M228.1 337h0M296.4 321.3h0M170.2 409.9h0M523.8 109.4h0M492.8 143.6h0M295.2 320.4h0M327.8 239.2h0M198 391.7h0M222.4 346.2h0M231.1 334.3h0M419.4 217.9h0M524.7 106.3h0M332.7 233.3h0M254.9 309.6h0M176.5 405h0M485 109h0M404.8 170.7h0M223.4 341.9h0M333.8 294.2h0M307.5 313.6h0M245.3 364h0M319.4 246.5h0M486.4 151.9h0M200.1 367.4h0M396.4 178.2h0M341.7 282.5h0M428.1 208.2h0M495 101.6h0M276.5 288.2h0M507.1 128.2h0M237.7 364.7h0M463.1 123.7h0M425.6 210.9h0M316.4 303.8h0M234.1 336h0M522.3 109.7h0M457.7 181.7h0M410.1 165.4h0M216.4 380.8h0M515.5 116.4h0M205 365.2h0M309.2 311.9h0M275.2 334.2h0M332.8 293h0M517.7 114.2h0M204.5 389.5h0M420 217.3h0M290.4 278.1h0M214.5 350.8h0M405.2 230.1h0M303.9 262.6h0M282.4 285.7h0M522.8 110.1h0M260.4 352h0M525.2 103.6h0M308.4 311.6h0M252.9 354.4h0M205.8 387.5h0M387.5 247.9h0M262 351.1h0M192 394.4h0M380.1 189.3h0M348.1 218.2h0M219.4 378.8h0M268.7 344.7h0M373.2 196.4h0M381.7 249.5h0M358.1 269.9h0M343.6 281.8h0M311.8 313.2h0M324.7 300.3h0M506.5 129.4h0M236.8 331h0M396.6 236.6h0M392.7 179.2h0M309.3 257.7h0M249.6 358.7h0M328.9 297.8h0M445.7 136.6h0M187.7 383.9h0M510.4 93.5h0M375.3 195.7h0M413.7 222.1h0M172.5 402.9h0M268.3 344.8h0M313.9 252.4h0M189.3 398.6h0M291.4 326.1h0M280.1 335h0M292.6 325.6h0M513.5 122.6h0M484.6 108.8h0M312.6 255.3h0M375.9 193.8h0M198 369.6h0M252.9 357h0M214 380.8h0M356.2 274.7h0M229.6 370.6h0M337.5 286.9h0M295.2 271.4h0M427.5 152h0M288.5 280.6h0M352.6 216.7h0M364.6 203.1h0M230.6 338.9h0M405.2 230.9h0M529.9 98.5h0M350.8 217.7h0M446.1 193.4h0M186.4 387.6h0M323.7 302.4h0M282.2 285.4h0M289.6 326h0M205.4 387.9h0M417.9 216.5h0M208.7 359.1h0M182.9 400h0M355.4 273h0M209.8 383.2h0M472.5 118.5h0M223 374.5h0M228.4 371.7h0M304.4 261.3h0M251.7 356.1h0M366.1 202.4h0M216 352.6h0M178.6 404.7h0M191.7 380.6h0M343.3 281.6h0M196.5 371.7h0M403.5 170.9h0M204.8 363.1h0M377 193.2h0M471.7 117.5h0M196.1 392.7h0M353.8 272h0M384.3 186.8h0M198.7 370.8h0M333.1 292.2h0M286.3 279.6h0M491.1 146.6h0M237.9 368.1h0M495.8 141.5h0M226.6 370.6h0M214.4 350.3h0M334.6 289.9h0M407 168.5h0M230.9 370.3h0M511.5 95.6h0M314.7 302.7h0M287.6 326h0M187.4 395.2h0M225.8 341.5h0M372.7 261.1h0M374 196.5h0M308.2 310.5h0M300.5 320.1h0M442.6 193.7h0M343.4 222.1h0M171.3 403h0M383.9 247.5h0M442.8 194.4h0M409.7 224.8h0M225.3 379.4h0M372.2 259.6h0M413.4 163h0M468.4 170.7h0M285.5 282.9h0M368.1 262.6h0M516.8 118.8h0M436 201.2h0M226 374.3h0M226.7 339.5h0M501.2 101h0M295.4 320.7h0M445.1 137.6h0M524.6 89.1h0M387.8 184h0M324.4 243.6h0M480.9 157.4h0M186.4 388.7h0M489.3 107.7h0M261.1 355.2h0M332.7 293.1h0M379.6 190h0M237.2 363.7h0M306.5 261.2h0M284 285.3h0M226 371.7h0M327.6 240.1h0M337.8 230.7h0M338.4 230.8h0M181.4 397h0M373.5 258.4h0M200 391.6h0M223.1 374.2h0M452.1 185h0M205.9 360.7h0M342.2 225.4h0M237.6 329.4h0M278.2 334.1h0M254.9 309.8h0M517.7 93.9h0M472.3 118.6h0M350.5 218.6h0M191.9 381.3h0M249.6 356.6h0M210.3 358.7h0M286.7 333h0M397.1 178.6h0M216.4 347.6h0M346.1 221.9h0M178.6 397.1h0M521.9 110.3h0M246.3 360.8h0M523.4 93.1h0M304.8 262.8h0M255.3 314.3h0M289.5 279.9h0M524.8 97h0M268.1 301.5h0M369.5 260.4h0M278.3 289.1h0M433.2 145.9h0M189.9 380.7h0M257.5 310.4h0M279.6 335.2h0M181.9 403.7h0M514.9 93.9h0M489.7 146.3h0M224.8 341.5h0M391.1 240.4h0M303.4 264.2h0M497.6 103.7h0M380.2 249.2h0M453.4 132.3h0M313.1 303.6h0M465.8 172.4h0M523 94.1h0M421.5 155.6h0M522.9 93.7h0M524.3 106.7h0M430.7 206.3h0M299.3 268.9h0M253.5 356.3h0M360.6 268.3h0M380.6 249.7h0M257.8 310.9h0M438.1 198.7h0M286.3 329.6h0M509.8 96.2h0M217.1 349.3h0M305.4 315.5h0M329.2 238.4h0M382.3 187.6h0M325.3 241h0M416.8 159.2h0M517.3 114.4h0M491.3 145.5h0M310.6 310.9h0M175.4 401.3h0M282.6 287.7h0M293.4 325.5h0M426.2 208.4h0M348.3 220.3h0M307 259.6h0M191.2 395h0M381.8 189.4h0M376.4 193.9h0M202.1 385.4h0M524 95.3h0M403.3 234.1h0M233.3 336.4h0M185.8 385.1h0M309.5 256.9h0M243.4 322.4h0M199 368.2h0M223.3 343.8h0M343.7 280.3h0M313.6 304.9h0M343.2 224.6h0M207.4 388.1h0M299.6 268.2h0M418 216.4h0M194.2 393.8h0M268 299h0M341.2 227h0M500.9 135.5h0M453.4 131.2h0M215.4 351.2h0M455 183.4h0M453.7 182.5h0M246.7 357.3h0M520.6 92.6h0M345.3 222.6h0M422 213.5h0M193.9 392.3h0M451 132.7h0M422.3 212.3h0M389.2 181.6h0M413.9 160.8h0M332.4 295.2h0M350.1 279.4h0M400.8 235.3h0M399.4 235.1h0M318.8 302h0M378.6 254.2h0M347.6 220.3h0M458 180.6h0M176.2 397.8h0M274.4 293.5h0M253.3 315.3h0M459 179.9h0M217.9 353.2h0M215.7 382.1h0M379.2 252.4h0M298.8 268.7h0M311.9 310.5h0M409 168.4h0M272.3 294.7h0M194.3 395.5h0M239.4 324.9h0M306.8 261.9h0M327.9 294.9h0M435.5 202.5h0M166.8 407.4h0M175 398.5h0M185.4 389.6h0M246.9 319.2h0M229.2 338.9h0M340.1 285.8h0M402 230.8h0M408.5 167.3h0M206 385.6h0M201.5 387.6h0M177.5 406.6h0M408.4 225.9h0M343.1 281.3h0M305.8 262.7h0M280.5 287.4h0M458 127.8h0M233.1 333.2h0M403.6 171.9h0M311 258.5h0M335.6 232.5h0M296.1 272.1h0M446.9 190.9h0M212.6 380h0M373.8 195.5h0M406.8 228.7h0M184.1 396.6h0M293.5 273.8h0M178.4 397.1h0M307.2 260.3h0M274.2 293.6h0M260.7 307.8h0M461.3 124.9h0M276.8 334.3h0M491.8 106.1h0M419.5 215.2h0M429.7 149.4h0M236.9 363.5h0M259.9 346.9h0M366 202.8h0M181.1 400.9h0M293.8 321.6h0M281.9 330.4h0M307.3 259.7h0M501.6 133.4h0M408.8 167.4h0M230.4 368.6h0M227.7 369.5h0M402.9 170.9h0M319 299.2h0M329.5 240.7h0M440.1 141.7h0M262.9 305.5h0M271.7 296.1h0M311.2 310.7h0M183 392.9h0M364.6 264.2h0M237.1 368.6h0M233.4 370.3h0M275.7 290.8h0M434 201.1h0M314.6 255.1h0M487.2 108.1h0M347.1 222.2h0M307.3 311.2h0M361.7 207.8h0M258.5 351h0M290.3 323.3h0M412.3 164h0M482 158.6h0M261.7 346.4h0M178.4 396.6h0M440.3 197.5h0M420.8 157.6h0M526.2 101.2h0M177.7 403.2h0M307 311.4h0M390.4 239.9h0M209.1 358.9h0M404.2 171.5h0M360.3 209h0M510.7 125.3h0M304.6 263.8h0M356.4 269.8h0M225.1 375.5h0M232 338.5h0M403.6 231.5h0M304 315.4h0M256.8 311.1h0M295 326.2h0M213.3 380.1h0M329.4 295.7h0M268.3 301h0M343.1 224.6h0M302.9 316.1h0M395 236.1h0M393.4 238.1h0M313.8 302.9h0M397.9 235.9h0M400.7 174.9h0M405.6 229.2h0M483.7 110.7h0M357.8 269.9h0M463.2 124.7h0M263.7 346.3h0M233.3 333.3h0M219.8 346.8h0M289.4 275.3h0"/>
<path stroke="#0000fe" d="M524.7 103.6h0M486.1 152h0M236.8 331.5h0M320.1 298.5h0M188.9 394.7h0M474.8 165.4h0M475.9 163h0M420.2 158.3h0M482.1 155.2h0M514.2 119.8h0M487.2 149.7h0M293.6 322.2h0M190.6 396h0M462.7 174.3h0M325 296.9h0M456.8 181.6h0M279.2 331.9h0M524.6 99.3h0M265.4 343.8h0M332.8 234.1h0M489.7 148.2h0M169.2 409.1h0M476.3 115h0M392.3 238.4h0M431.1 149.9h0M496.9 139.9h0M242.5 326.1h0M193.5 380.3h0M331.1 234.6h0M317.5 248.6h0M346.3 280.8h0M233.3 333.6h0M522.4 107.6h0M281.2 288.6h0M358.3 211.5h0M185.7 384.6h0M318.4 247.7h0M361.7 268.5h0M410 222.9h0M265.6 342.4h0M472.8 118.1h0M362.1 265.8h0M184 399.4h0M524.8 100.8h0M312.8 313.4h0M253.5 353.3h0M430.2 205.6h0M425.9 211.7h0M249.7 317.1h0M379.2 191.7h0M380.2 191.9h0M479.5 114.2h0M325.6 242.5h0M312.4 306.5h0M358.9 209.4h0M217.3 374.6h0M193.7 381.4h0M409.8 165.8h0M179 399.7h0M384.9 247.2h0M185.3 398.7h0M364.3 204.6h0M252.5 353.5h0M479.3 157.6h0M388.2 184.2h0M238.7 362.7h0M457.7 178.9h0M270.1 299.5h0M188.9 381.7h0M221.2 375.4h0M374.8 195.2h0M324.1 244.1h0M335.3 292.4h0M481.9 110.8h0M260.8 309.2h0M444.7 192.9h0M367.9 201.6h0M211.4 380.7h0M277 291.9h0M482.8 110.8h0M344.4 279.7h0M191.1 382.7h0M239.8 330.4h0M339.9 285.3h0M250.1 318.6h0M187.2 384h0M338 284.7h0M525.5 94.9h0M523.9 101.7h0M390.7 183.8h0M227.7 369.6h0M396.8 235.1h0M245.5 355.9h0M486.9 109.9h0M307.3 262.2h0M359.8 210h0M184 397.2h0M317.7 300.4h0M293.3 321.5h0M261.7 307.6h0M372.7 256.7h0M510.8 96.2h0M518.5 110.1h0M399.5 234.3h0M316.9 301.8h0M317.7 301.8h0M344.2 280.2h0M240.4 329.8h0M451.7 185.1h0M459.4 177.8h0M267 341.5h0M267.9 343.2h0M321.1 247.8h0M249 360.9h0M402.1 230.2h0M192.9 394.6h0M378.2 191.1h0M437.7 143.8h0M350.8 276.9h0M203.3 369.1h0M352.7 274.3h0M373 256.1h0M507.9 127.4h0M274.6 335.9h0M494.5 103.8h0M315.5 301.6h0M302.2 265.6h0M316.9 301h0M201.1 371.1h0M418.9 159.4h0M506.1 129.5h0M408.6 228.5h0M395.7 235.1h0M308.9 311.1h0M507.6 97.7h0M226.1 372.9h0M356.9 211.7h0M469 170.8h0M388 244.6h0M412.8 222.5h0M302.7 264.3h0M252.8 355h0M523.4 106.1h0M338.9 227.1h0M221.1 348.9h0M309.6 307.3h0M231 339.1h0M264.9 341.4h0M360.5 268.4h0M414.3 162.1h0M183.6 389.4h0M369.5 199.3h0M206.1 364.8h0M275.6 334.7h0M312.4 255.9h0M288.5 325.9h0M454.8 181.6h0M329 239.1h0M299.5 267.4h0M411.1 165.2h0M242.7 357.4h0M380.5 192.1h0M227.4 369.6h0M226 375.7h0M216.1 377.5h0M473 118.1h0M419 159.1h0M215.4 379.4h0M313.8 306.4h0M514.8 119.6h0M198.4 391h0M187.9 386h0M334.7 233.6h0M497.5 103.2h0M353.4 216.1h0M226.3 341h0M515.2 115.6h0M328.3 294h0M192.4 394.2h0M217.6 375h0M374.3 255.3h0M501.3 101.8h0M337.9 287.2h0M467.9 169.5h0M358.1 269.2h0M298.6 318.5h0M424.5 154.9h0M269.5 300.2h0M273.6 333.3h0M289.3 280.8h0M358.7 268.7h0M418.1 215.5h0M511.1 122.1h0M366 263.2h0M356.1 271.1h0M211.3 356.5h0M339.4 283.2h0M297.6 317.4h0M308.1 305.2h0M511.8 122h0M276.6 332h0M371.9 258.2h0M446.4 137.7h0M468.7 121.2h0M230 339.8h0M421.1 214.3h0M278 332.3h0M495.2 103.6h0M183.2 399.8h0M213.9 356h0M508.6 126h0M289.6 323.5h0M271.5 336h0M374.5 195.8h0M437.6 143.9h0M220.3 373.5h0M511.1 123.6h0M194.4 389.2h0M450.6 133.8h0M400.1 234.3h0M180.8 400.4h0M353.6 269.7h0M315.1 308.5h0M208 362.1h0M206 363h0M302.4 267h0M287.7 281.6h0M210.6 359.3h0M261.3 308.3h0M464.3 173.8h0M514 119.1h0M201.1 371.8h0M412.2 221.2h0M490.3 106.4h0M365.6 264h0M295.9 318.3h0M293.8 274.9h0M472.1 168.3h0M322.8 245.4h0M449 190h0M475 163.5h0M504.3 100.1h0M376.7 256h0M273.2 338.3h0M466.3 171.8h0M233.1 369.5h0M226.3 370.9h0M204.2 367h0M413.5 218.2h0M416.5 220.3h0M259.9 309.4h0M439.8 141.3h0M373.6 254.7h0M197.8 373.4h0M421 215.6h0M398.7 233.2h0M444.2 139.2h0M367.6 202.6h0M351.7 276.2h0M312 257h0M351.3 276.2h0M442.9 140.6h0M224.8 343.5h0M449.2 134.3h0M341.9 224.6h0M232.1 366.4h0M515.2 117.4h0M189.3 394.3h0M386.6 245.6h0M262.1 346.9h0M504.7 129.5h0M210.6 382.4h0M318.2 249.4h0M347.1 220.1h0M399.1 174.4h0M302.4 314.1h0M182.7 400.4h0M344.9 279.8h0M325.6 297.8h0M372.5 258.9h0M200.3 390.8h0M236.5 363.5h0M343.7 280.4h0M383.5 247.1h0M217.5 355h0M404.5 227.4h0M371.4 254.5h0M369.9 256h0M192.4 381.8h0M243.4 362.5h0M363.3 264.1h0M314.4 255.7h0M503.7 131.6h0M319.6 250.7h0M398.4 177.8h0M255.3 313.4h0M259.8 347.7h0M436.8 200.4h0M419.2 159.6h0M377.8 253.5h0M524.8 103.5h0M278 332.6h0M335 288.7h0M478.6 159.4h0M333.2 236h0M279.8 290.1h0M199.2 372.4h0M431.1 150.1h0M189.4 388.3h0M409.7 223.2h0M312.5 256.3h0M310.6 303.8h0M229.3 370.2h0M426.3 152.5h0M332.4 236.1h0M283 328.3h0M287.7 283.3h0M302.9 265.8h0M417.6 216.4h0M391.1 183.3h0M303.4 311.9h0M352.5 217.4h0M413.3 218.6h0M214.3 380.6h0M285.1 283.6h0M321.9 243.9h0M291.8 278.7h0M203.6 368.1h0M206.8 383.3h0M297.6 270.5h0M351.3 216.1h0M272.1 295.5h0M328.6 293.7h0M410 166h0M251.9 314.7h0M481.4 156.8h0M491.1 145.5h0M341.5 283.2h0M224.4 344.6h0M307.3 260.3h0M502.1 131.2h0M254.2 314.4h0M286.2 329h0M273 297.1h0M206.4 365.1h0M280.2 333.6h0M323.4 301.1h0M298.8 268.9h0M228.3 341.3h0M418.5 215.4h0M283.9 287.5h0M286 284.5h0M421.6 214.1h0M301 267.5h0M462.7 175.8h0M493.5 106.1h0M248.7 357h0M372.5 253.9h0M270.3 337.5h0M426.6 152.4h0M369.2 259.3h0M297.1 316.7h0M195.6 378.7h0M361.1 264.5h0M322 297.6h0M400.4 232.7h0M356.8 211.7h0M363.2 264.3h0M320.7 297h0M277.3 331.9h0M313.9 255.1h0M425.5 154.6h0M411.4 164.6h0M451.7 133.5h0M414.8 218.1h0M277.4 332.8h0M379.3 251.7h0M478.1 159.7h0M331.2 236.8h0M498.4 137.5h0M263.1 343.6h0M236.1 361.8h0M191.6 382.2h0M270.2 338.6h0M332.5 236h0M245.9 324.4h0M262.9 343h0M457.2 179.8h0M402.2 229.7h0M256.3 350.3h0M245.7 355.5h0M287.8 324.8h0M284 326.7h0M513.9 95.1h0M203.7 384.9h0M182.8 397.1h0M489.2 146.5h0M194 392.3h0M452.8 184.8h0M204.3 382.7h0M296.4 323.7h0M184.4 390.5h0M376 254.5h0M267.4 300.7h0M497.6 139h0M201.4 386.1h0M195.9 376.6h0M284.4 285.8h0M324.5 296h0M380.8 248.6h0M414.3 163.6h0M272.4 296.9h0M357.9 266.3h0M314.6 302.2h0M225 344.8h0M320.8 248.2h0M190 385.9h0M243.4 357.6h0M290.1 324.5h0M417.7 216.9h0M429.6 206.5h0M208.4 360.3h0M508.9 124.8h0M225.7 373.1h0M340.2 283h0M241.8 364h0M388.5 243.8h0M216.9 374.4h0M262.8 308.2h0M316.8 253.1h0M279.6 331.7h0M337.9 284.9h0M185.7 399.5h0M371.2 259.4h0M208.2 382.8h0"/>
<path stroke="#0000ff" d="M521.6 107.4h0M219 374h0M434.3 201.1h0M435.8 200.1h0M207.7 363.2h0M426.7 206.8h0M493.6 142h0M325.6 295.1h0M435.6 201.1h0M444.9 189.8h0M286.3 284.4h0M268.7 340.6h0M501.9 132.4h0M317.7 253.1h0M259 348h0M403.3 227h0M373.1 197.7h0M385.4 188.2h0M471.5 121h0M507.6 98.8h0M280.6 328.9h0M511.5 122.5h0M363 265.8h0M459.1 178.7h0M395.5 180.1h0M224.5 346.6h0M337 283.9h0M302.2 264.7h0M189.4 388.7h0M263.9 341.2h0M497.5 138.5h0M321.2 247.4h0M452.6 132.6h0M464.8 171.7h0M191.1 386.1h0M329.3 292.6h0M285 286h0M267.1 303h0M214.5 355.2h0M250 316.6h0M515 117.5h0M419.2 213.4h0M193.1 392h0M488.4 146.8h0M339.6 229.4h0M472.6 118.4h0M526.2 97.9h0M294.2 276.7h0M371.9 254.2h0M516 94.7h0M507.6 98.1h0M212.2 358.9h0M207 364h0M204.7 381.4h0M387.3 241.9h0M279.6 292.2h0M189.2 383.6h0M269.1 336.6h0M262.8 346.5h0M331.4 292.9h0M466.9 122.9h0M297.7 272.6h0M293.1 322.1h0M328.4 293.3h0M258.5 310.7h0M334.5 232.7h0M377.5 249.5h0M354.2 270.8h0M457.6 129.1h0M523.8 95.7h0M343.4 226.2h0M291 322.7h0M349.2 275h0M218.5 354h0M482 155.7h0M354.9 212.5h0M247 322h0M263.7 340h0M323.6 246.4h0M300.1 271.1h0M347.8 276.6h0M244.9 353.4h0M380 247.8h0M472.7 167.3h0M442.5 194.1h0M382.3 190.2h0M183.2 397.7h0M281 291.6h0M209 360h0M402.2 231.5h0M399 175.8h0M308.4 309.6h0M394.7 235.4h0M520.8 109h0M194 391.7h0M366.1 202.6h0M433.1 147.9h0M465.5 171.3h0M221.4 350.4h0M397.3 178.3h0M418.8 212.8h0M259.9 310h0M337.8 230.7h0M449.2 188.9h0M231.2 367.2h0M502.1 133.9h0M390.7 183.5h0M408.5 223.5h0M347.2 277.5h0M422.1 210h0M391.8 239h0M506.2 128.2h0M203.4 382.8h0M193.6 385.6h0M488.6 109.3h0M192.3 394.8h0M248.9 353h0M227.2 370.2h0M504.8 130.3h0M465.6 124.1h0M251.3 352.3h0M306.3 263.5h0M370.7 198.8h0M441.3 141.9h0M399.1 174.6h0M259.4 346.6h0M469.3 168.7h0M456.7 178.7h0M438.6 197.9h0M354.5 269.7h0M426.8 154.4h0M334.8 235.3h0M502.4 132h0M400.1 232.6h0M308 311.2h0M466.7 171.8h0M313.7 255.5h0M309.6 258.4h0M313.8 255.3h0M214.4 355.1h0M329.8 240.2h0M236 332.4h0M200.9 373.2h0M201.4 385.6h0M193.1 393.4h0M212.4 380h0M351 273.2h0M353 270.4h0M325 242.7h0M375.7 196.4h0M220.1 352.3h0M322.3 296.1h0M411 222.7h0M396 233.7h0M332.8 237.8h0M343.3 280.7h0M242.4 359.7h0M422.3 210.7h0M317.4 301h0M202.5 382.2h0M434.6 146.9h0M427.9 151.3h0M411.2 222.3h0M359.3 208.6h0M234.6 365.9h0M350.5 274.4h0M271.1 334.3h0M199.3 385.6h0M478.1 115h0M284 286.3h0M223.5 345.9h0M433.2 203.6h0M308.2 306.9h0M259.6 345.7h0M349.7 273.5h0M433.2 148.8h0M189.9 389.4h0M401.9 229.6h0M340.8 279.7h0M228 339.3h0M209 363.7h0M252 354h0M348.2 275.7h0M345.1 277.9h0M469.6 166.8h0M330.3 290.8h0M339.8 283h0M273.3 332.5h0M287.6 323h0M192.3 387.6h0M374.4 254.1h0M220.2 369.8h0M266.2 341.3h0M480.2 156.3h0M261.7 340.4h0M284 287.2h0M286.3 324.5h0M437.1 144.4h0M231.1 338.6h0M245.6 323.2h0M455.5 129.6h0M296.7 319.1h0M289.1 322.4h0M339.1 233.1h0M229.2 368h0M412.6 219.3h0M368.1 261.6h0M519.4 95.2h0M462 173.5h0M261.4 340.4h0M389.3 240.9h0M518.4 96.5h0M381.3 190.7h0M411.4 221h0M486.1 152h0M192.5 384.4h0M522.4 105h0M265 304h0M472.7 118.1h0M359.6 211.2h0M475.5 160.7h0M236.9 330.7h0M487 150.3h0M188.2 391h0M419.7 160.2h0M240.5 358.8h0M325.2 244.8h0M383.4 189.6h0M484.9 151.8h0M207.7 382.1h0M281.3 287.6h0M396.8 233h0M194.3 391.3h0M198.9 374.2h0M517.6 96.1h0M241.5 355.2h0M251.1 352h0M510.5 124.5h0M350.5 272.6h0M386.8 187.1h0M208.2 363.8h0M282.3 325h0M414.1 217.5h0M313.7 256.1h0M475.7 162.1h0M407.8 170h0M258.1 343.9h0M195.6 389h0M449.8 134.3h0M308.6 310.3h0M407.6 225.6h0M201.3 383.2h0M379.1 248.1h0M386.7 245h0M476 162.6h0M386.2 245.3h0M363.2 262.5h0M510.3 96.9h0M237.9 331h0M318.6 303.2h0M366 262.3h0M297.6 314.8h0M233.6 364.7h0M283.2 287.3h0M511.1 124.4h0M309.9 309.3h0M322.1 295.5h0M387.9 240.7h0M442.6 140.9h0M369.5 199.3h0M224.1 345.8h0M353.4 216.5h0M216.5 377.9h0M398.6 230.3h0M348.4 273.8h0M262.3 339.8h0M476.3 116.6h0M277.8 292.2h0M270.3 298.5h0M369.7 255.9h0M304 310.3h0M383.3 246.9h0M432.4 202.8h0M456.3 129h0M293.4 278.8h0M250.5 315.7h0M436.5 145.3h0M321.7 293h0M202.8 371.3h0M368.9 259.3h0M246.3 352h0M454.6 132.1h0M520.4 94.1h0M231.6 362.6h0M246.9 325.1h0M384.1 245.8h0M397.4 231.3h0M227.8 341.8h0M237.1 332.4h0M237.1 361.3h0M325.7 292.4h0M219.9 370.5h0M316.1 298.7h0M385.1 245.2h0M390.1 240.7h0M396.2 232h0M219.6 371h0M235.1 334.1h0M507 98.7h0M302.1 315.9h0M373.7 199.2h0M187.6 393.2h0M239.3 358.3h0M434.9 199.4h0M186.5 391.7h0M265.3 303.6h0M306.2 307.9h0M351.2 218.8h0M279.6 332.1h0M395.4 235.5h0M389.7 185.8h0M371.2 199.2h0M289.1 280.9h0M229.8 367.9h0M377.4 250.5h0M219.4 350.9h0M239.5 362.5h0M406.2 171.9h0M287.5 283h0M476.3 115h0M462.2 126.6h0M265.5 305.2h0M350 272h0M225.9 368.9h0M209.9 380h0M369.6 258h0M485.2 149.5h0M216.4 375h0M221.7 348.6h0M197.7 379.3h0M248.1 322.8h0M395.1 179h0M270.6 334h0M233.6 337.4h0M246.7 325.5h0M459.2 176.3h0M490 147.1h0M197.6 388.5h0M282.9 323.2h0M382.6 189.2h0M420.8 158.3h0M386.3 186.1h0M439.1 195.5h0M346.8 273.9h0M295.9 272.6h0M320.1 297.5h0M235.5 361.9h0M230.2 342.7h0M435.3 198.6h0M498.4 135.6h0M339.4 281.6h0M439.5 142.9h0M377.4 248.3h0M330 289.9h0M257.9 343.2h0M266 303.6h0M300.2 268.2h0M375.1 254.5h0M193.2 383h0M238 331.4h0M460.1 177.4h0M508.4 125h0M221.8 370.1h0M393.4 236.9h0M258.8 311.7h0M414.1 164.3h0M517.9 110.4h0M274.1 295.4h0M273.7 294.5h0M371.4 254.9h0M242.5 354.8h0M223.1 371h0M375.9 252.8h0M456.6 177.9h0M268.7 335.4h0M256.7 346.5h0M280.4 291.7h0M470.8 167.4h0M320.7 296.7h0M380.5 247.5h0M362 262.8h0M355.2 267.4h0M505.8 128.1h0M405.3 225.1h0M353.1 270.9h0M322.3 248.3h0M476.2 160.5h0M289.4 279.5h0M270.6 334.8h0M233.9 335h0M525 95.9h0M258.7 312.7h0M355.7 215.1h0M297.3 314.4h0M459.9 177.1h0M257.1 344.4h0M419.1 160h0M253 348.9h0M276.1 292.9h0M199.8 376.7h0M515.8 115.2h0M415.3 163.8h0M441.9 192.3h0M254.1 352.2h0M267.6 304.9h0M439.8 195h0M228.1 343.3h0M306.7 264.5h0M516.8 96.6h0M324.5 246.5h0M434 199.1h0M348.8 221.7h0M284 286.3h0M313.5 302.7h0M322.1 248h0M517.7 109.8h0M301.7 312.3h0M515.8 113.5h0M190.2 390.1h0M350 221.6h0M302.4 317.3h0M297.8 314.1h0M421.4 212.2h0M323.1 247h0M360.8 210h0M456.6 178.5h0M279.8 328.6h0M511.2 123.6h0M449.3 135.8h0M367.6 258.8h0M321.4 295.9h0M281.4 291h0M322.8 292.2h0M508.6 123h0M334.5 288.3h0M201.3 372h0M232.1 366.1h0M281.3 290h0M380.8 191.3h0M231.6 365.8h0M418.4 214.8h0M257 344.1h0M411.8 164.4h0M249.7 349.3h0M224.2 346.1h0M237.8 334.4h0M494.4 141.6h0M356.1 214.4h0M341.3 226.7h0M369 256.4h0M438.2 196.6h0M268.5 305.2h0M194.5 380.7h0M226.1 344.8h0M446.2 189.6h0M225.2 344.2h0"/>
<path stroke="#0005ff" d="M188.7 383.7h0M427.3 153.2h0M492.9 106.2h0M426.9 208.7h0M302.7 316.7h0M328.5 241.4h0M487.2 109h0M395.6 233.8h0M198.3 379h0M265.2 305.7h0M242.8 326.3h0M310 261.9h0M322.6 247.9h0M456.7 128.2h0M232.9 336.8h0M293.9 316.6h0M295.1 273.5h0M413.6 218.1h0M397.7 230.9h0M326.7 241.8h0M195.5 382h0M202.5 369.2h0M254.3 314.5h0M453 181.2h0M357.1 212.6h0M275.8 295.5h0M345.4 225.1h0M336.7 285.7h0M223.6 372.3h0M521.7 96.3h0M472.9 164h0M357.3 267.5h0M402.2 174.7h0M313.4 304.4h0M261.9 308.1h0M210.5 380.7h0M295.1 276.6h0M265.2 338.1h0M400.2 230.5h0M329.4 291.3h0M496.7 139.3h0M293.3 317h0M335.2 283.2h0M305 265h0M310.5 261.2h0M258.7 310.2h0M401.8 229.3h0M213.3 356.3h0M460.5 174.7h0M515.3 113.2h0M381.3 248.6h0M466.5 171.3h0M291 320.7h0M363.4 207h0M431.3 149.1h0M205.2 369.5h0M299.9 271.3h0M310.9 260.5h0M473.5 118.7h0M445.3 138.3h0M311 259.4h0M321.6 295h0M365.4 261.5h0M230.2 341.2h0M276.9 330.5h0M367.3 258.8h0M464.1 126h0M330.8 289.4h0M210 361.1h0M270.3 340h0M277 332.2h0M323.8 247.4h0M459.6 175.7h0M416.9 160.8h0M279.6 325.6h0M523.6 103.2h0M368 201.9h0M397 234.9h0M491.4 106.8h0M256.2 314.2h0M319.1 298.9h0M504.5 130.3h0M306.7 310.6h0M319.2 297.2h0M274.7 296.5h0M215.8 375.9h0M336.4 282.9h0M346.7 224.5h0M520.9 98.3h0M514.4 94.2h0M454.8 131.6h0M281.1 288h0M399 176.6h0M197.8 377.9h0M319.2 250.2h0M195.6 384.7h0M356.3 267.1h0M511.5 95.1h0M290.5 318.2h0M396.1 178.5h0M508.7 97h0M387.9 240.8h0M312.3 303.3h0M447.5 135.4h0M214.1 374.2h0M294.8 315.8h0M299.5 311.9h0M207.5 363.7h0M299.8 269.8h0M362.6 261.9h0M313.6 256.6h0M302.3 265.8h0M278 293.6h0M503.8 129.8h0M384.7 243.8h0M314.9 254.5h0M214.3 378h0M391.6 182.9h0M336.8 232.2h0M213.6 359.9h0M373.3 252.6h0M318.6 252h0M397.2 178.5h0M348.1 221.9h0M308.3 310.3h0M318.9 298.5h0M399.6 176.7h0M400.8 231.5h0M324.1 245.5h0M425.9 208h0M234.2 360.4h0M466.7 169.4h0M179.6 398.1h0M296 273.7h0M507.8 127.7h0M270 336.6h0M211 363.8h0M462.8 174.2h0M465.7 124.3h0M260.1 341h0M403.8 175h0M292.8 315.6h0M464.8 171.4h0M352.4 272.5h0M520.3 108h0M318.1 296.6h0M459.2 129.4h0M230.7 343.4h0M239.8 330.1h0M396.9 178.6h0M280.1 291.6h0M260.3 341.9h0M522.6 98.3h0M241.3 329.2h0M224.7 345.6h0M365.8 206h0M210.1 381h0M351.7 270.5h0M243.8 325.9h0M368 202.8h0M451.6 133.2h0M445.2 138.8h0M284.5 285.8h0M258.3 312.5h0M324 246.3h0M264.5 338.5h0M503 130.2h0M379.4 193h0M249.4 322h0M242.6 354.2h0M447.5 189h0M414.5 163.8h0M472 164.5h0M489.7 108h0M448.8 186.5h0M273.6 296.7h0M449.6 185.3h0M291.3 281.5h0M453.5 181.6h0M249.8 318.9h0M400.6 176.3h0M317.5 296.5h0M265.5 339.6h0M494.4 141.2h0M367.7 258.2h0M291 316.6h0M437.3 199.5h0M284.9 284.4h0M485.1 111.8h0M520.2 99.7h0M474.1 160.9h0M232.1 340.5h0M343.4 277.7h0M346.5 223.8h0M260.1 310.3h0M419.2 213.6h0M289.4 282.5h0M284.3 287.5h0M238.6 333.3h0M416.5 216h0M229.1 343.9h0M203.1 370.8h0M215.3 360h0M394.4 235.6h0M500.5 133.2h0M447.6 186.1h0M327.7 288.5h0M367.8 260.3h0M263.1 309.8h0M497.3 104.2h0M213.1 375.9h0M241 355.9h0M513.8 117.9h0M479 156.3h0M437 144.6h0M232 341.5h0M350.8 272.1h0M417 213.3h0M337.9 282.1h0M521.7 103.6h0M281.8 326.4h0M521.5 104.9h0M194.8 386.5h0M362.5 208h0M272.4 299h0M240.7 331.9h0M505.7 98.8h0M246.8 352.4h0M379.4 191.9h0M410.9 220.2h0M202.2 372.4h0M382.3 245.8h0M353.9 268h0M241.2 329.3h0M260.6 310.3h0M219.3 370.1h0M289.5 318.8h0M354.5 215.3h0M451.3 134.9h0M334.9 282.9h0M217.9 369.1h0M463.9 125.7h0M514.7 115.3h0M204 382h0M215.7 356.2h0M220.9 351.3h0M226.2 369.3h0M199.5 380.3h0M250.4 319.1h0M275.7 330.8h0M228.6 365.6h0M341.3 228.1h0M300 270.9h0M288.9 320.7h0M366.8 204.9h0M341.4 231h0M268.9 301.9h0M356.2 265.3h0M489.2 109.7h0M383.9 188.6h0M331.4 237.6h0M295.7 275.2h0M186.9 389h0M524 98.7h0M473 119.2h0M330.5 288.8h0M345.9 277.1h0M358.1 212.1h0M441.9 192.5h0M334.9 286.4h0M287.6 319.2h0M404.7 225h0M383.8 243.6h0M236.8 336.4h0M316.8 252.5h0M511.7 119.9h0M480.8 113.6h0M232.6 361.9h0M297.4 315.1h0M348.3 274h0M379.3 192.9h0M313.1 257h0M281.1 289.1h0M252.1 347.2h0M437.8 197.7h0M514.2 114.8h0M447.2 188.9h0M252.5 319.4h0M394.3 234.3h0M211.2 361.8h0M431.8 202h0M488.6 109.5h0M255.9 315.9h0M378.8 193.5h0M516 95.8h0M344.8 228.3h0M387.4 243h0M260.3 342.2h0M325.6 290.9h0M219.4 352.5h0M521.4 105.2h0M345.4 278.1h0M438.3 195.4h0M447.1 187.2h0M466.4 168.4h0M231.8 339.4h0M409.8 223.5h0M477.7 115.1h0M285.9 326.3h0M370.4 200.8h0M286.3 323.4h0M440.3 143.2h0M362 263h0M519.5 95.8h0M268.4 335.4h0M331.9 289.4h0M517.4 109.5h0M239.2 332.2h0M520.6 108.6h0M353.4 268h0M268.1 305.5h0M412.7 218.5h0M479.8 156.3h0M316.9 299.2h0M362.3 207.4h0M277 329.4h0M495.8 138.6h0M410.2 168.9h0M326.4 290.8h0M515.2 97.8h0M236.1 336.5h0M478.1 115.7h0M297.1 315.2h0M281.5 322.8h0M437.4 196.8h0M303.4 266.8h0M329.6 287.9h0M224.2 346.5h0M376.4 195.7h0M383.6 245.4h0M302.6 312.3h0M471.9 164.8h0M466.3 169.5h0M194.4 387.7h0M416.2 214.5h0M286 284.9h0M371.8 199.5h0M341 282.3h0M297.8 274.6h0M350.6 221.7h0M325 291.4h0M386.1 188.7h0M292.4 278.7h0M208.9 377.4h0M330.4 239.3h0M229.6 367.4h0M197.8 384.7h0M440.8 142.3h0M451.4 135.5h0M353.9 216.5h0M205.6 366.6h0M411.2 221.8h0M505.6 99.5h0M255.1 346.6h0M264.9 307h0M260.6 310.7h0M276.7 330.1h0M325.8 243.8h0M485.1 111.2h0M370.5 254.4h0M248.2 351.4h0M494 104.7h0M256.3 345.3h0M406.1 224.6h0M499.7 102.3h0M205.1 368.9h0M398.1 229.6h0M344.1 275h0M312.8 261.1h0M235.6 360.9h0M509.8 97.6h0M372.7 252.7h0M507.9 98.8h0M442.5 191.7h0M410.8 219.8h0M505.8 126.8h0M330.5 239.8h0M386.5 242.2h0M314.6 299.3h0M191.7 391h0M394.1 236.5h0M246.5 326.7h0M323.7 246.9h0M259.7 342.9h0M198.6 377.8h0M435.9 147.3h0M354.2 266.2h0M202.8 371.3h0M301.3 311.4h0M413.1 218.4h0M498.3 137.2h0M507.3 98.7h0M204.2 375.1h0M285.1 322.1h0M249.1 350.7h0M487 149.6h0M316 255.8h0"/>
<path stroke="#0010ff" d="M196.5 385.3h0M345.9 224.5h0M479.6 156.4h0M400.7 227.9h0M314.7 254.4h0M246.7 352.3h0M491.2 108h0M521.5 103.9h0M197.2 384.7h0M512.6 118.6h0M495.6 106.9h0M247.1 348.8h0M250.4 320.7h0M249.5 322.9h0M382.3 190.8h0M404.5 172.7h0M492.9 141.5h0M335.4 234.3h0M427.8 151.9h0M374.1 198h0M341.7 278.2h0M247.5 322.2h0M389.4 239h0M482.6 112.6h0M307.1 308.3h0M456.4 178.5h0M390.5 183.5h0M321.9 293.8h0M368.8 204.4h0M445.8 138.8h0M216.4 372.6h0M430.7 205.2h0M461.4 174.5h0M198.1 376.4h0M394.4 180.9h0M395.9 232.9h0M197.5 378.4h0M364 206.5h0M517.4 111.2h0M254.5 344.2h0M348 225h0M431.9 148.9h0M460.8 175.1h0M521.3 100.1h0M372.5 253.1h0M522.4 103.6h0M290.9 318.4h0M519 99h0M241.4 356h0M399.1 230.1h0M298.5 273.8h0M315.9 254.2h0M396.5 178.2h0M446.2 190h0M365.3 207.1h0M398.7 177.8h0M504.4 130.2h0M511.2 120.1h0M449.7 183.3h0M463.8 172.2h0M262.8 309.1h0M239.2 358.5h0M203.7 375.9h0M518.6 101.7h0M230.1 363.6h0M338.4 279.6h0M360.6 211.4h0M428.6 153.1h0M398.8 177.5h0M288.9 285.1h0M525.5 99.9h0M288 317.9h0M387.3 239.1h0M442.6 191.6h0M336.7 234.4h0M484.2 150.7h0M351.4 220.6h0M398.2 177.9h0M206.6 369.3h0M394.3 181.5h0M496.2 139.9h0M506.3 124.7h0M372 253.6h0M276 297.9h0M509.6 122.3h0M454.2 179.7h0M227.5 363.5h0M254.3 341.6h0M290.5 318.5h0M479.9 114.4h0M421.6 209.9h0M431.4 201.8h0M231.8 364h0M320.5 296.3h0M261.7 339.7h0M205.2 371.5h0M391.3 182.7h0M521.9 103.1h0M295.2 316.2h0M443.4 190.1h0M340.1 231.8h0M281.7 290.4h0M338.7 279.6h0M379.9 246.4h0M291.7 280.7h0M285.5 285.7h0M285.7 319.1h0M265.9 336.8h0M513 98.2h0M223.9 370h0M214.4 374.1h0M333.2 237.7h0M417.6 213.4h0M436.5 145.9h0M316.5 255.1h0M314.7 260.1h0M319.5 248.4h0M243.5 354.9h0M444 190.9h0M204.4 376h0M501.6 129.5h0M201.1 378.9h0M244.1 354.3h0M208.5 378.5h0M403.9 174.1h0M469.5 167h0M267.1 335h0M519.5 96.2h0M276.6 327.5h0M391.8 237.7h0M276 295.7h0M213.2 375.4h0M427.5 153.5h0M471 166.5h0M481.6 152.9h0M478.3 115.1h0M378.6 193.9h0M403.1 225.5h0M375 197.8h0M476 160.8h0M413.9 218.5h0M404.4 173h0M428.6 205.1h0M355 265.3h0M195.1 387.1h0M340.2 279.8h0M332.8 239.5h0M357.2 213.7h0M438.4 194.6h0M327.9 245.3h0M365.8 259h0M228.6 346.8h0M203.9 376h0M380.7 246.9h0M401.8 175.3h0M304.8 310h0M482.5 113.4h0M333.2 285.5h0M461.7 126.4h0M441.6 141.7h0M396.3 232.4h0M196.4 383.3h0M490.1 144.3h0M369.4 202.1h0M497.2 136.4h0M378.1 246.4h0M415.9 216.6h0M442.7 140.9h0M403.3 227.4h0M228.9 363.5h0M199.6 380.2h0M489.5 146.1h0M271.7 300.9h0M274.9 299h0M402.3 226.7h0M218.9 352.8h0M318.1 252.2h0M414.5 163.7h0M329.3 289h0M263.8 338.1h0M237.4 334.6h0M277.7 292.6h0M505 129h0M284 322.2h0M225.6 366.7h0M476.9 156.8h0M254 345.2h0M381.8 244.8h0M408.3 169.1h0M291.7 278.9h0M458.7 128.9h0M203.3 377.1h0M363.7 208.7h0M242.9 353.3h0M348.7 224.1h0M419.2 160.8h0M220.5 352h0M306 307.9h0M347.6 272.8h0M324.9 291.9h0M276.9 297.7h0M311.8 303.6h0M224.8 349.1h0M356.1 264.7h0M206 367.5h0M356.5 264.3h0M225.5 363.6h0M209.8 364.7h0M435.9 196h0M311.3 300.3h0M276.5 326.4h0M321.5 290.6h0M366.9 258.2h0M496.9 104.3h0M419.7 159.7h0M241.2 328.7h0M236.3 337.8h0M343.1 229.6h0M409.4 168.2h0M309.7 303.2h0M360.7 264.6h0M453.9 133.7h0M278.5 293.5h0M224 364.4h0M283.9 288.5h0M302.6 307.3h0M492.8 107.8h0M433.4 201.5h0M359.4 213.4h0M361.8 262.3h0M241.6 355.7h0M232.1 359h0M307.1 262.4h0M487.8 109.4h0M361.4 264.8h0M428.9 202.6h0M220.4 366.1h0M213 362.7h0M334.4 287.8h0M384.8 242.2h0M378.3 194.1h0M477.2 116.3h0M485.2 110.9h0M286.2 285.2h0M242.9 329.3h0M452.3 183.9h0M280.2 323.4h0M292.2 280.1h0M383.5 188.7h0M276.5 296.5h0M300.8 270.4h0M512.3 97.9h0M395.2 233.2h0M204.9 380.7h0M480 115.5h0M376.7 248.8h0M412.3 218.6h0M250.3 322.1h0M481.5 153.2h0M217.2 372.9h0M319.3 253.7h0M257.1 315.4h0M251.9 318.4h0M219.6 351.8h0M383.3 191.4h0M295.3 314.7h0M421.2 212.1h0M261.2 339.4h0M422.4 157.6h0M352.9 220h0M488.6 110h0M269.5 335.8h0M370.8 199.6h0M202.8 375.9h0M225.1 363.9h0M254.4 319.6h0M378.3 248.3h0M311 260.4h0M303.5 306h0M447.6 138.2h0M370.6 200.2h0M396.7 179.8h0M230.8 361.4h0M518.7 109h0M368.6 257.7h0M234.6 357.9h0M248.2 325.6h0M487.8 146.4h0M370.3 255.3h0M309 302.2h0M505.3 128.1h0M226.6 345.8h0M517.6 110.4h0M393.5 181.7h0M306 307.6h0M352.9 269.4h0M423.2 208.8h0M194.7 383.2h0M258.6 313.5h0M273 299.5h0M463.6 127.4h0M273.9 330.6h0M375.8 249.2h0M378.7 193.1h0M384.9 243.5h0M234.5 337.6h0M355.9 216h0M356 264.1h0M318.4 255.3h0M512.9 116.9h0M451.1 183.8h0M325.4 291.3h0M429.7 151.6h0M421 158.5h0M292.4 283.1h0M300 271.3h0M246.6 350h0M293.3 314.5h0M215.7 357.7h0M492.3 142.1h0M210.9 375.3h0M432.6 199.3h0M516.3 111.6h0M297.9 315.3h0M394.3 235.5h0M496.8 105.5h0M408.7 169h0M427.1 204.5h0M495.1 139.7h0M272.1 332.6h0M269.6 303.1h0M263.3 305.6h0M414.3 214.5h0M238.7 337.1h0M290.2 317h0M521.1 103h0M336.6 281.6h0M462.1 171.8h0M210.8 359.3h0M256.1 318h0M460.6 127.6h0M400.8 175.4h0M261.3 310h0M411.9 217.6h0M281 321.9h0M304 267.7h0M366.3 259.2h0M375.5 251.9h0M330 286.3h0M296.6 310.9h0M443.1 141.3h0M309.5 300.3h0M270.5 331.9h0M400.5 175.6h0M427.3 205.9h0M305.3 304.8h0M222.5 365.5h0M363.6 261.5h0M411.8 218.2h0M292.3 314.3h0M291.6 284.4h0M352.6 268.1h0M211.1 364.8h0M221.5 366.8h0M305.3 268.1h0M485.2 111.9h0M500.3 132.2h0M201 375h0M320 252.5h0M484.3 150.6h0M366.2 258.5h0M431.9 199.6h0M257.2 314h0M282.3 290.9h0M452.1 135h0M307.9 306.2h0M255.5 316.6h0M296.6 313.8h0M516.6 110h0"/>
<path stroke="#001bff" d="M420.4 160.4h0M200.6 383.8h0M275.4 332.6h0M443.7 141.5h0M316.7 295.3h0M255.6 319.1h0M200.3 377.6h0M339.2 279.6h0M284.2 320.6h0M438.8 194.7h0M507.6 99.2h0M284.4 289.9h0M515.5 117.3h0M506.9 101h0M287.7 316.4h0M460.9 128.6h0M325 248.3h0M264.5 309h0M255.7 316.6h0M352.8 220.5h0M518.6 109.4h0M499.6 134.9h0M514.4 116.4h0M218.5 368.2h0M306.3 266.6h0M306.2 304.3h0M362 212.4h0M311.3 260.9h0M206 366.4h0M415.5 162.2h0M219 371.1h0M519.3 107.2h0M492 141.3h0M488.2 147.2h0M435.9 198.2h0M293.9 311.4h0M323.9 290.7h0M272.8 300.2h0M214.5 372.1h0M309.9 263.2h0M284.9 321h0M339.8 231.8h0M411.6 220.2h0M224.1 362.2h0M439.9 142.6h0M267.6 333.3h0M407.2 170.4h0M261.7 339.4h0M267.6 332.1h0M396.7 230.8h0M517.6 107.1h0M358.9 214.6h0M454.4 179.2h0M400.7 230.4h0M467.6 167.8h0M409.6 168.3h0M410.3 218.6h0M402.9 174.7h0M333.9 285.5h0M451.2 182.1h0M235.2 338.9h0M510.3 98.9h0M431.9 202.8h0M414.7 216.2h0M516.4 105.4h0M392.7 183.3h0M466.1 168.2h0M236 336.9h0M262.1 338.1h0M233.2 358.2h0M334.5 282.8h0M377.8 246.5h0M261 312.4h0M399.1 229.8h0M364.4 257.9h0M378 245.4h0M321.5 291.1h0M482.3 115.3h0M213.2 360.7h0M196.4 380.9h0M398.3 229h0M308.7 301.8h0M300.1 274h0M264.2 336.4h0M254.6 345.1h0M254.4 344.6h0M362.2 261.4h0M322.8 249.1h0M432.7 199.8h0M372 254h0M416.7 162.3h0M503.2 102.3h0M296.6 309.6h0M497.6 134.9h0M395.4 233.8h0M517.7 103.5h0M496 137.5h0M512.8 99.4h0M350.9 270.5h0M463.8 126.1h0M352.4 220.8h0M419.1 212.7h0M515.8 113.6h0M231.1 363.1h0M320.7 293.1h0M321.6 248.9h0M212.8 362.5h0M271.5 329h0M226.4 363h0M346.4 271.9h0M471.5 164.8h0M242.2 353.8h0M382.5 243.2h0M353.2 267.1h0M516.4 105.4h0M229.9 346.7h0M217.3 369h0M419.2 161h0M454.7 178.8h0M506.8 124.6h0M491.6 143.3h0M325.8 290.9h0M425.7 155.5h0M206.2 374.1h0M516.9 107.8h0M274.2 331.4h0M251.5 347.5h0M492.6 106.7h0M249.8 347.1h0M318.4 293.6h0M331.3 284.7h0M248 346.6h0M407.6 221.9h0M516.8 109.1h0M244.8 328.2h0M461.7 127.2h0M275.6 298.8h0M515 99.2h0M454 132.1h0M223.1 352.1h0M399.4 176.8h0M484.6 111.3h0M257.3 340.2h0M285.7 318.5h0M291.8 282.2h0M317 294.7h0M457.1 130.2h0M474.8 117.9h0M383.2 242.9h0M431.1 150.7h0M496.9 104.3h0M487.5 146.6h0M280 292.5h0M262.8 311.7h0M342.2 276.7h0M386.5 188.2h0M227.4 360.7h0M341.9 230.7h0M253.5 343.6h0M334.4 237.8h0M308.4 302.3h0M206 370h0M394.1 233.1h0M482.8 152.1h0M382.9 245.3h0M281.1 292.6h0M290.1 285.2h0M380.3 243.9h0M280.8 292.5h0M498.1 104.6h0M505.8 128.1h0M326 246.5h0M493.4 140.9h0M279.4 326.2h0M473.4 118.9h0M392.4 233.5h0M377.8 245.4h0M499.7 134.3h0M212.9 371.9h0M316.2 298.2h0M410.6 218.2h0M413 216.6h0M314.5 296.7h0M301.1 308.4h0M426.9 154.2h0M333.3 284h0M404.8 223.9h0M470.8 165.3h0M512.8 118h0M352.3 267.1h0M482.9 112.8h0M447.9 138h0M332.8 284h0M501.8 104.2h0M300.7 271.8h0M280.2 294.4h0M307 265.4h0M293.2 280.7h0M302.9 305.5h0M276.3 298.9h0M321.3 252.7h0M247.3 346.7h0M356.6 263.2h0M365.7 205h0M302.2 272h0M218.2 370.8h0M514 117.3h0M436.2 146.6h0M273.4 329.4h0M384.8 242h0M280.8 324.8h0M350.4 222.7h0M284.9 320.6h0M332.3 285.3h0M400.2 177.6h0M424.9 205.8h0M270.2 328.8h0M492.8 108.3h0M395.3 230.5h0M488 110.4h0M317.4 294.6h0M424.1 208h0M316.9 256.9h0M351.4 269.1h0M335 233.7h0M432.2 149.3h0M409.8 169.6h0M414.7 214.8h0M318.3 254h0M209.7 371.4h0M445.1 188.4h0M287 318.6h0M341.2 230.6h0M298.2 275.2h0M332.3 239.1h0M346.5 226.9h0M475 117.9h0M320.8 289.3h0M392.5 237.2h0M261.3 312.3h0M439.4 194.1h0M510.4 98.7h0M232.2 359.6h0M328.8 241.9h0M355 266.5h0M302.8 269.5h0M217.6 356.4h0M510.3 101.8h0M400.6 229.1h0M345.4 272.6h0M257 340.3h0M487.9 111.9h0M305.9 304h0M324.9 247.1h0M417.3 213.3h0M376.9 247.8h0M357.1 263.1h0M371.3 201.8h0M260.9 338.1h0M267 306.3h0M321.7 251.8h0M506.8 125h0M321.2 252.2h0M466.2 168.2h0M240.8 334.4h0M384.8 189.5h0M269.1 301.4h0M256 319.8h0M246 326.6h0M506 102.1h0M274.8 329.3h0M233.4 340.8h0M320.8 253.2h0M327.7 288.1h0M293.6 311.4h0M438.9 144.4h0M347.8 225.4h0M466.1 168.5h0M229.6 358.9h0M267.5 306h0M405.6 222.8h0M290.6 285.4h0M279 293.9h0M322.8 289.1h0M504.9 126.1h0M354.9 218.7h0M249.7 324.3h0M429.9 151.5h0M270.9 300.5h0M402.3 226.2h0M419.1 160.5h0M219.9 355.1h0M450.7 135.3h0M502.5 129.2h0M464.3 170.2h0M426.2 204.2h0M228.3 361.3h0M513 99.3h0M431.4 149.9h0M229.5 362h0M429.2 153.5h0M498.8 133.3h0M336.7 234.4h0M381.5 192.2h0M276.2 297.9h0M293.6 281.6h0M287.4 285.7h0M209.6 377h0M517.7 100.3h0M445.4 188.2h0M493.8 140.6h0M254.3 319.2h0M401.5 176.7h0M260.6 312.2h0M512 117.2h0M280.6 322.9h0M476.8 116.1h0M373.2 200.1h0M421.2 158.7h0M333.1 239.9h0M472.6 121.1h0M436.3 147.3h0M350 271.2h0M305.1 302.9h0M244.7 352.6h0M456.8 132h0M207.8 378h0M411.9 168.1h0M371.7 201.7h0M366.6 255.5h0M268.4 303.8h0M331.5 239.6h0M477.6 158.3h0M285.6 317.9h0M239.2 356h0M444 188.8h0M327.7 284.9h0M216.6 360.7h0M379.4 192.7h0M214.4 370.1h0M237.7 338.1h0M418.5 213.4h0M469.6 121.5h0M305.7 303.5h0M372.5 200.9h0M483.6 150.8h0M389.9 184.3h0M414.5 165.2h0M238.4 351.7h0M512.5 117.3h0M272.6 302.7h0M277.8 293.6h0M490.3 144.4h0M260.6 313.9h0M439.8 194.2h0M243.6 350.9h0M214.1 371.2h0M349.7 271.4h0M281.7 320.3h0M292.6 282.6h0M348.6 223.6h0M239.4 351.1h0M233.7 339.3h0M244.4 331.7h0M224.7 360.4h0M368.9 252.5h0M457 131.7h0M374.9 249.8h0M221.9 365.5h0M402.3 226.7h0M284.9 288.3h0M223.9 361.3h0M403.7 226.1h0M281.2 294.2h0M299.9 308h0M249.4 326.7h0M251.8 323.6h0M503 102h0M256 340.9h0M461 173.8h0M332.6 284h0M375.7 247.3h0M421.6 158.7h0M263.2 336.4h0M414.1 165.8h0M232.9 343.1h0M368.3 203.9h0M239.8 332.1h0M423.8 208.2h0"/>
<path stroke="#0025ff" d="M318.8 293.3h0M515.8 97.1h0M442.9 192.5h0M520.2 103.2h0M294.9 278.1h0M500.5 131.6h0M205.9 374.6h0M360 264.5h0M259.9 313.3h0M277.6 296.7h0M224.3 350.3h0M484.9 112.1h0M457.2 176.6h0M342 230.3h0M452.2 181.1h0M458.1 130.5h0M234.1 357.7h0M385.7 187.9h0M379.2 245.4h0M323 249.3h0M499 132.6h0M359.9 261.1h0M206 374.8h0M410.3 169.1h0M324 248.6h0M480.5 154.8h0M403.5 174.5h0M335.9 236.4h0M294.6 311.2h0M348.5 273h0M448.6 185h0M489.8 108.9h0M296.7 279.1h0M231.9 343h0M387 188h0M511.9 116.6h0M358.7 215.1h0M359 261.4h0M277 297.8h0M433.2 149h0M301.8 270.2h0M307.3 264.7h0M254.3 342.8h0M435.1 147.5h0M371.3 253h0M234.2 357.5h0M507.8 124.4h0M326 246h0M461.3 173.6h0M269.1 331.4h0M235.1 354.8h0M332.7 280.8h0M319.7 289.9h0M224.5 349.7h0M375.8 198.1h0M239.2 336h0M245.7 329.5h0M438.1 145.4h0M485.2 112.3h0M514.9 101.6h0M273.6 299.5h0M303 272.5h0M238.3 337.1h0M256 319.5h0M216.2 355.4h0M308.8 302.5h0M280.9 321.9h0M433.3 197.1h0M432.9 199.5h0M314.5 300.3h0M483.4 152.8h0M489.2 143.8h0M456.9 131h0M219.8 358.8h0M420.3 210.7h0M221.8 357.1h0M213.6 369.7h0M396.4 229.6h0M217.5 357.3h0M320.4 293.2h0M309.3 298h0M380.2 193.9h0M391.3 236.1h0M251.2 322.4h0M391.2 234h0M334.5 240.3h0M416.8 162.6h0M276.2 327.4h0M235.6 355.9h0M385.5 240.4h0M329.3 245.3h0M401.8 226.2h0M244.2 330.3h0M331.5 285.4h0M372.4 203h0M482.4 153.3h0M273.1 302.4h0M364.1 257.2h0M515.4 113.3h0M364.1 208.8h0M242.3 350.7h0M433 148.1h0M296.9 277.9h0M425.1 204.6h0M470.2 122.6h0M244.9 349.2h0M335.8 238.6h0M259.6 316.3h0M362.7 210h0M275.2 327.5h0M494.6 137.3h0M426.6 154.5h0M418.6 212.7h0M268.4 307.4h0M496.4 107.7h0M320.4 254.1h0M437.7 144.8h0M238.9 352.4h0M494.5 139.6h0M284.4 288.6h0M235.6 339.5h0M376.5 245.4h0M280.9 325.6h0M223.6 350.1h0M243.7 347.4h0M213.3 368.8h0M421.9 158.2h0M496.4 106.8h0M481.8 153h0M238.4 336.7h0M338.7 232.4h0M207.1 372.6h0M400.1 226.5h0M235.9 358.5h0M316.7 258.5h0M405.9 222.4h0M306.1 264.6h0M211.8 373.9h0M253.7 345.4h0M449 183h0M367.3 257.4h0M259.6 338.7h0M376.1 249h0M216.2 367.8h0M369.9 251.2h0M363.7 256.7h0M226.8 360.5h0M265.8 309.4h0M435.7 196.3h0M470.5 121.2h0M439.1 145.4h0M241.5 335.3h0M377.2 198.1h0M367.5 252.6h0M389.4 186.8h0M392.9 232.7h0M336.2 279.1h0M211.3 366.1h0M478.1 156.5h0M436.4 196.2h0M212.2 362.7h0M469.5 122.8h0M449.5 183.7h0M514.4 110.5h0M424.4 156.6h0M360.6 259.9h0M367.4 256h0M515.2 102.9h0M405.9 172.7h0M470.5 123.2h0M326.6 287h0M276.7 297.9h0M512.1 102.1h0M308.5 265.8h0M387.5 238.8h0M330.6 241.1h0M507.4 101.2h0M296.6 274.1h0M374.3 248.3h0M276.7 300.4h0M449.7 137.1h0M311.5 296.2h0M432.8 199.9h0M238.1 350.4h0M342.8 229.4h0M499.9 132.5h0M384.9 239.8h0M260 312.9h0M307.2 300.9h0M319.7 256h0M365.5 257.2h0M247.2 329.2h0M265.8 306.9h0M303 271.9h0M383.1 243.4h0M224.1 360.6h0M280.6 321.7h0M505.8 125.7h0M372.3 250h0M299.9 309.6h0M209.9 368.6h0M331.8 282.2h0M321.5 288.4h0M356.6 218.1h0M503.9 102.8h0M317.4 257.5h0M344.8 227.1h0M431.9 200.7h0M320.1 253.8h0M339.7 234.8h0M335.5 239.9h0M243.7 347.5h0M409.2 218.5h0M329.8 243.7h0M436.4 146.8h0M249.3 325.9h0M417.4 212.9h0M313.5 297.2h0M304.8 268.1h0M447.9 186.8h0M279.9 297.7h0M385.2 241.8h0M372.3 252.1h0M407.6 171.9h0M342.7 233.5h0M296.9 277.1h0M350.6 221.7h0M344.9 226.2h0M481.5 154.8h0M371.2 250.9h0M331.2 283.9h0M387.3 189.5h0M307.5 299.8h0M298.3 277.4h0M228.6 360.1h0M512.6 112.1h0M440.4 143.6h0M373.2 201.7h0M350.2 223.2h0M386.8 237.3h0M374.4 248.4h0M426.5 204.7h0M384.2 240.1h0M227.5 346.7h0M286.3 316.5h0M253.1 342.7h0M215.5 361.8h0M472.7 120.7h0M438.8 193h0M234.6 343.7h0M421.5 209.1h0M359.3 212.3h0M359.3 215.2h0M403.2 224.5h0M236.8 338.3h0M389.3 186.1h0M449.6 137.6h0M346.3 227h0M322.4 250.8h0M389.4 236.5h0M266.1 334h0M260 315.2h0M465.6 124.8h0M514.1 111.1h0M253.1 342.7h0M278.1 301.1h0M426.3 154.7h0M223.1 352.4h0M292.9 314h0M484.2 149.8h0M497.7 105.5h0M476.2 119.2h0M491.8 140.6h0M498.7 133.9h0M258.8 338.6h0M349.5 271.1h0M405.2 173.5h0M273.9 329.1h0M397.6 228.7h0M504.4 100.8h0M513.8 111.5h0M377.5 196h0M332.5 241.3h0M406.9 221.5h0M217.2 359.5h0M227.3 359.1h0M432.9 198.6h0M219.6 366.3h0M281.3 322.1h0M302.4 305.6h0M393.6 231.9h0M398.1 229h0M313.2 295.8h0M395.2 231.4h0M498.8 105.3h0M436.8 145.8h0M400.1 228.3h0M366.7 207.2h0M403.9 175.3h0M236.6 351.7h0M318.8 255.9h0M237 353.1h0M467.3 166.3h0M259.8 337.8h0M286 287.6h0M372.2 248.5h0M227.2 349.2h0M392.2 232.5h0M352 219.9h0M315.3 258.2h0M406.9 219.4h0M317.9 292h0M503.3 125.7h0M493.8 108.6h0M517.2 107.2h0M210.7 365h0M477.2 157h0M231.7 358.7h0M504.1 103.5h0M412.7 215.6h0M219.2 367h0M516.6 103.2h0M208.5 368.4h0M470 123.1h0M326.6 289.1h0M411.4 216.5h0M368.2 204h0M510.8 102.9h0M388.2 237.3h0M228.4 359.3h0M420.4 211.2h0M390 186.8h0M296.8 310.8h0M362.8 257.8h0M351.7 220.8h0M252.8 322.3h0M501.1 130.1h0M316.7 258.7h0M364.7 257.2h0M246.9 346h0M339.1 279.4h0M384.8 239.4h0M470.3 122.5h0M212.2 373.8h0M399.8 226.1h0M222 354.9h0M343.6 276h0M511 121.6h0M380.4 245.1h0M287.7 288.1h0M342.2 273.3h0M414.9 214.4h0M480.7 154.3h0"/>
<path stroke="#0030ff" d="M210.4 370.1h0M337 238.1h0M469 164.9h0M278.7 295h0M322 251.4h0M508.2 101.7h0M481.4 115.3h0M250.7 324h0M242.4 349.8h0M472.3 162.8h0M299.9 307h0M371.3 251.4h0M233.4 345h0M385.7 238.5h0M501.2 130.1h0M342 279h0M495.6 108.3h0M286 317.2h0M269.4 306.1h0M390.9 235h0M270.3 329.5h0M320 254.1h0M250.4 325.1h0M283 320h0M412.7 165.9h0M248.2 346.6h0M513.4 103.4h0M445.9 186.7h0M243.6 348.4h0M259.2 337.4h0M367.2 204.8h0M343.4 230.5h0M412.9 216.9h0M340.9 275.7h0M277.6 326.2h0M354.8 265.9h0M276.9 325.3h0M461.4 129.3h0M257.3 316.8h0M424.9 205.8h0M504.9 102.4h0M487 112h0M281.6 293.3h0M297.8 278.6h0M374.8 199.5h0M288.1 317h0M473.3 162.8h0M509.6 101.7h0M469.8 123h0M399.6 178.7h0M512.7 113.1h0M444.8 188.2h0M230.5 345.3h0M479.5 155h0M249.9 344.5h0M491.5 107.7h0M332.6 280.1h0M263.4 310.4h0M432.1 199.3h0M381.8 192.8h0M362.6 256.2h0M324.2 288.1h0M246.5 328.7h0M499.4 131.6h0M215.2 362.1h0M370.2 249.8h0M269.5 307.6h0M246.9 344.3h0M399.3 178.9h0M439.7 142.9h0M390.8 186.1h0M278.6 324.6h0M483.6 150.3h0M268.8 330h0M258.1 319.7h0M496.8 107.8h0M514.5 110.6h0M398.6 179.1h0M499 134.4h0M356.7 218.2h0M413.4 215.2h0M366.7 206.9h0M494.7 137.4h0M473.4 160.8h0M224.3 359h0M428.9 154.3h0M424.9 204.5h0M385.3 238.5h0M399.5 177.2h0M282.1 290.9h0M434.2 196.4h0M501.2 104.7h0M304.9 270.2h0M502.9 126.4h0M477.3 155.3h0M236.5 342h0M348.5 273.8h0M427.8 202.3h0M387.1 186.9h0M264.1 335.6h0M402.8 225.1h0M285.1 287.9h0M258.5 319.2h0M249.2 344.4h0M511.8 102.7h0M294.8 280.8h0M292 284.7h0M339.7 280.3h0M304.2 303.6h0M259.3 336.5h0M493.5 138.5h0M243.9 348.8h0M287.6 317h0M354.4 263.8h0M433.3 197.7h0M442 142.8h0M218.1 367.4h0M481.3 154.1h0M328 247.5h0M309.7 298.4h0M210.3 370.1h0M292.2 313.9h0M379.5 196.3h0M264.9 330.8h0M327.3 286.6h0M422.9 207.9h0M495.2 107.9h0M321.8 287.7h0M289.4 286.8h0M518.1 102h0M223.4 351.4h0M486 147.4h0M344.6 228.4h0M394.1 231.7h0M216.9 366.3h0M220.7 358h0M511.8 113.5h0M380.4 242.8h0M310 302.2h0M332.3 243h0M288.5 312.6h0M310.3 263.1h0M357.2 263.7h0M481.8 152.8h0M321.3 252.5h0M508.8 123.8h0M497.8 106.3h0M384.6 238.3h0M401.6 225.3h0M385.9 190.2h0M238.7 340.2h0M285.8 292.9h0M334.3 240.1h0M490.1 143.8h0M280.9 322.3h0M353.9 221h0M232.1 345.3h0M299.5 276.8h0M299.7 274.9h0M410.8 169.2h0M261.6 332.1h0M319.9 290.8h0M375.9 248.1h0M449.7 135.7h0M222.6 352.6h0M416.6 162.2h0M418.6 161.1h0M324.2 287.1h0M287.2 287.2h0M223.6 359.6h0M434.1 149.7h0M488.6 142.9h0M390.9 234.8h0M328 246.3h0M455.9 132.4h0M401.6 225.1h0M508.3 121.2h0M392.6 233.9h0M412.5 215.6h0M234 353.8h0M493.9 109.5h0M423.2 206.2h0M398.8 179.6h0M314.6 295.3h0M261.2 316.3h0M369.9 204.9h0M359.9 215.1h0M401.5 224.8h0M451.9 181.4h0M499.6 105.1h0M225.2 355h0M358.4 216.7h0M417.4 212.6h0M384.1 192h0M380.8 242.2h0M327.2 248.4h0M331.9 243.4h0M415.3 165h0M514.7 104.9h0M447.1 138.3h0M247.8 328.5h0M216.5 363.1h0M330.9 244.4h0M301.8 270.7h0M315.6 258.5h0M383.5 193.7h0M346.3 227.5h0M383.9 192.3h0M511.3 119.2h0M475.7 119.2h0M374.1 200.5h0M499.9 130.8h0M283 319.6h0M244.8 333.5h0M292.3 311.4h0M217.4 365.3h0M324 285.1h0M429.8 201.9h0M382.2 239.6h0M334.7 241.2h0M499.7 132.9h0M320.4 289.3h0M336 240.3h0M420.7 209.9h0M470.4 164.4h0M249 344.9h0M452.1 181.2h0M271.9 326.2h0M288.3 286.3h0M369.9 250.3h0M422.8 206.7h0M372.6 203.5h0M291.5 317h0M348 270.8h0M252.3 323.5h0M294.9 281.5h0M295.1 311.2h0M373.6 202.6h0M462.9 170.5h0M208.6 375h0M363.4 255.8h0M259.1 338h0M307.1 266.3h0M320.5 289.9h0M510.6 118.6h0M307.7 299.4h0M305.2 268.6h0M420.3 161h0M472.1 161.5h0M389.8 234.3h0M266.3 330.7h0M338.2 234.2h0M400.5 177.7h0M263.6 332.2h0M220.8 360.8h0M227.1 360h0M314.9 294.9h0M415.3 165.7h0M405.9 223h0M273.5 326.8h0M298.8 277.8h0M215.8 358h0M289.6 287h0M212.1 372.3h0M435.4 195.9h0M254.7 323h0M389.9 233.9h0M322.4 286.9h0M299.8 307.3h0M515.8 105h0M308.1 299.7h0M437.8 145.7h0M233.3 348h0M296.9 307.2h0M403.1 224.3h0M424.7 155.7h0M320.2 289h0M271.4 307h0M355 263.6h0M336.3 277.9h0M309.5 264.7h0M259.2 318.6h0M298.7 308.7h0M240.2 348.5h0M478.2 115.7h0M320 288.8h0M280.4 321.1h0M249.9 325.2h0M270.2 329.4h0M369.3 250.3h0M491.5 142.2h0M297 278.9h0M375.1 200.2h0M272.5 326h0M354.4 219h0M348.6 224.6h0M446 185.4h0M222.4 355.3h0M374.5 200.3h0M379.7 242.1h0M299.4 308.3h0M462.5 171h0M240 338.7h0M319.2 257h0M502.1 129.2h0M408.6 171h0M393 230.3h0M410.1 217.1h0M475.4 159h0M259.5 318.4h0M328.7 247h0M398.5 180.3h0M280.3 321.3h0M371.2 203.8h0M214.3 366.6h0M242.1 351.1h0M246.2 331.5h0M407.2 218.4h0M456.9 130.8h0M322.2 252h0M274.4 302.8h0M386.6 238.1h0M302.1 274.1h0M349.1 223h0M276.8 325.2h0M301.3 306.6h0M306.6 271.2h0M514.9 105h0M425 158.2h0M280.5 321.4h0M477.2 156h0M414.9 214.2h0M381.9 194.1h0M380.2 195.4h0M436.5 192.6h0M514.4 103.8h0M246.8 332.3h0M328.8 246.2h0M260.3 334.1h0M362 212.8h0M376.9 244.9h0M498 105.6h0M249 325.6h0M235.1 343.5h0M425.6 204.3h0M433 150.7h0M473.8 160.6h0M250 344.2h0M428.9 154.2h0M373.9 247.9h0M446.7 139.2h0M313.6 260.5h0M252.2 343.1h0M489.6 143.3h0"/>
<path stroke="#003aff" d="M315.7 260.2h0M254.6 342.4h0M371.4 248.8h0M289.7 288.8h0M493.9 137.5h0M317.6 258.5h0M247.8 342.6h0M286.6 316.9h0M226.9 357.8h0M345.7 272.5h0M363.1 255.9h0M318.6 291.8h0M343.5 273.6h0M490 143.2h0M497.4 136.1h0M452.1 136h0M431.5 199.6h0M321.4 287.6h0M240.8 335.2h0M485 148.3h0M409 216.7h0M387.5 236.7h0M327.3 283.6h0M287.4 316.2h0M320.4 255.2h0M484.4 150.7h0M517.2 108.8h0M384.8 238h0M468.1 165.6h0M330.6 244.4h0M501.5 130h0M345.3 270.2h0M233.9 339.9h0M370.1 204.9h0M393.9 230.3h0M474 120.4h0M329.5 245.7h0M354.8 263h0M302 305.7h0M401.5 176.9h0M360.9 260.5h0M435.7 195.9h0M243.2 345.7h0M507.9 121.8h0M292.8 310.6h0M389.2 238.2h0M458.3 176h0M340.6 274.1h0M374.7 199.9h0M231.3 349.7h0M465.6 126.3h0M238.2 350.9h0M322.9 287.8h0M415.9 165.2h0M342.6 230.9h0M338.5 276.5h0M312.3 296.4h0M333.8 240.8h0M475.8 118.9h0M494.8 108.9h0M228.4 349.4h0M295.8 282.3h0M335.5 279.9h0M463.9 127h0M413.3 165.9h0M373.8 200.3h0M332.2 281h0M298.9 277.1h0M342.1 229.7h0M258 334.3h0M259.7 316.9h0M322.2 286.6h0M497.6 106.7h0M322.5 249.9h0M219.8 359.4h0M308.1 265.7h0M254.1 340.5h0M270.6 304.2h0M365.5 210.6h0M353.5 265.5h0M505.6 103.7h0M497 135.9h0M385.1 191.3h0M348.6 225.6h0M229.8 357h0M516.2 109.4h0M347.4 226.3h0M325.6 248.9h0M225.7 351.2h0M286.2 293.7h0M281.4 297.1h0M403.4 224.9h0M288 290.1h0M360.1 261.4h0M450.2 182.4h0M320.9 253.2h0M368.3 205.9h0M394.9 182.7h0M350.9 266.1h0M245.3 344.9h0M220.4 353h0M393.4 182.9h0M226.4 358.4h0M417.1 211.5h0M240.4 346.7h0M513.4 112.4h0M406.9 219.8h0M515.3 107.1h0M318.7 292.2h0M321.8 288.4h0M214.6 368.3h0M280 321.3h0M393.5 230.2h0M500.5 104.9h0M374.2 247.3h0M353.4 264.4h0M371.1 203.5h0M377.1 198.1h0M494.8 108.7h0M284.1 319.5h0M387.1 190.2h0M434.4 149.9h0M324.6 248.6h0M385.1 190.8h0M325.8 284.8h0M280.3 294.6h0M325.8 284.9h0M313.9 293.4h0M309.4 296.5h0M216.6 366.2h0M376.4 246.9h0M363.5 256.2h0M435.1 149.8h0M504.6 125.5h0M310.8 261.8h0M438.3 146.8h0M241.3 335.3h0M312 294.3h0M237.3 351h0M438.7 146h0M429.7 153.9h0M299.1 277.8h0M297.3 306.1h0M325.1 249.3h0M471.3 162.1h0M250.3 324.4h0M445.5 185.9h0M253 325.8h0M508.7 100.5h0M435 194.4h0M404.8 174.9h0M465.1 168h0M368 205.5h0M357.2 261.8h0M218.2 363.6h0M356.2 262.9h0M324.6 250.5h0M246.9 342.4h0M226.4 360.6h0M306.4 271.4h0M247.8 341.3h0M319.8 256.2h0M468.9 162.7h0M382.6 193.8h0M357.1 217.4h0M368.3 206.7h0M221.5 356.3h0M429.2 153.1h0M404.1 222.8h0M403.1 222.1h0M266.3 309.4h0M332.7 280.4h0M415 166.4h0M261.9 317.8h0M481.5 115h0M254.2 338.6h0M462.8 129.2h0M411.6 168.9h0M516.3 110.1h0M301.9 274.5h0M337.7 237.8h0M327.8 248.3h0M464 127.9h0M416.8 164.4h0M439.3 190.5h0M386.2 235.2h0M231.9 349.5h0M511.7 112.1h0M497.9 106h0M425.6 202.3h0M388.2 236.7h0M485.1 114.7h0M402.4 176.6h0M347.6 270.4h0M220.4 361.5h0M300.3 275.9h0M261.1 317.7h0M447.4 184.8h0M351 225.4h0M434.1 149.6h0M492.4 140.4h0M222.2 360.6h0M213.5 363h0M419.5 162.1h0M337.7 239.9h0M379.9 194.8h0M345.7 228.2h0M247.7 331.5h0M266 329.9h0M407.2 219.2h0M406.8 220.6h0M328.6 284h0M437.2 146.3h0M307 298.5h0M286 290.4h0M383.9 237.9h0M256.7 339.5h0M435.7 148.7h0M240.1 348.4h0M409.4 170.4h0M278.1 321.5h0M277.8 301h0M255.7 323.3h0M394.7 182.3h0M431.8 151.1h0M396.9 181.4h0M292.1 283.5h0M392.6 185.4h0M294.9 283.4h0M511.5 116.4h0M478.8 153.7h0M250.1 338.7h0M442.4 189.6h0M238.4 342.6h0M484.8 148.9h0M288.1 313.9h0M234.6 350.2h0M506.6 124h0M386.4 190.9h0M509.4 117.7h0M327.8 283.2h0M329.2 244.8h0M506.6 103.6h0M408 170.9h0M257.3 336h0M257.7 336.1h0M237.8 342h0M266 329.2h0M480.5 153.7h0M420.4 208.7h0M510.8 116.5h0M316.7 295.8h0M256.6 319.5h0M288.2 290.3h0M281.7 296.3h0M435.6 194.8h0M270.1 304.8h0M316.1 259.6h0M374.9 201.1h0M463.1 170.6h0M356.1 218.7h0M480.4 115.4h0M225.3 358.3h0M360.9 257.3h0M270.8 304.4h0M311.7 267.4h0M395.6 181.9h0M267.7 310.1h0M496.2 134.5h0M244.5 343.4h0M233.9 355.6h0M351.9 268.8h0M359.2 214.8h0M434.3 149.2h0M277.3 300.7h0M509.7 119.3h0M509.2 119h0M367.2 254.7h0M387.6 235.8h0M392.9 230.6h0M493.3 139.9h0M360.7 214h0M350.4 225.5h0M273.7 324.6h0M312.5 260.7h0M466.3 126.1h0M516 109.7h0M362.6 211.5h0M358.3 261.1h0M483.6 149h0M361 259.2h0M237.5 342.8h0M307.7 266.7h0M286.4 313.2h0M275.3 301.1h0M342 234.2h0M393.3 185.2h0M271.5 307.6h0M431.8 151.8h0M240.7 345.9h0M358.7 259.9h0M478.2 154.8h0M345.6 228.2h0M313.4 261.4h0M385.9 190.5h0M306.1 271.4h0M261.7 332.4h0M253.1 324.9h0M410.4 170.5h0M242.5 346.3h0M445.2 140.9h0M507.4 124.1h0M312.2 264.5h0M408.6 217.6h0M309.5 295.9h0M348.7 265.5h0M366.5 255.7h0M393.2 230h0M361 257.2h0M336 240.7h0M232.4 348.8h0M284.5 316.3h0M391.1 186.7h0M277.7 302.5h0M397 229.6h0M410.1 215.2h0M399.8 178.7h0M283.2 316.9h0M260.7 318.1h0M225.1 355.8h0M381 239.9h0M509 118.1h0M441.6 188.7h0M321.4 252.5h0M461.2 173.2h0M303.3 302.7h0M438.9 145.5h0M387.2 190.5h0M327.3 248.6h0M276.8 303.1h0M261.2 314.2h0M264.6 311.1h0M362.1 212.4h0M368.4 204.3h0M340.3 235.2h0M469.3 162.5h0M467.3 123.6h0M424 206h0M296.1 279h0M414.6 165.9h0"/>
<path stroke="#0045ff" d="M416.6 211h0M490.3 141.2h0M269.6 308.2h0M419.6 209.3h0M325.2 249.4h0M416.5 165.2h0M479.4 117.6h0M356.7 262.3h0M411.3 215.4h0M227.5 348.3h0M395.8 183.9h0M360.4 257.5h0M454 133.8h0M383.9 239.5h0M498.3 133.1h0M491.6 110h0M243.5 334.8h0M231.1 356h0M256.1 336.7h0M281.4 298.4h0M457.8 176.4h0M325.1 251.1h0M322.2 252.8h0M434.7 195.7h0M431.1 199.2h0M261 332.7h0M291.7 285.6h0M489.2 111.2h0M322.9 285.5h0M416.9 165.5h0M348.4 266.3h0M373.3 203.2h0M378.7 196.3h0M370.2 206.1h0M420.3 159.9h0M390.7 232.4h0M423.5 204.7h0M480.7 153h0M406.5 220h0M427.1 201.8h0M429.2 155.8h0M255.1 325.6h0M263.5 313.5h0M414.6 214h0M227.6 354.6h0M283 314.5h0M438.9 146.1h0M443.1 142.9h0M493.6 110h0M289.2 287.8h0M251.7 337.6h0M490.4 110.1h0M300.4 275.7h0M384.6 190.8h0M283.9 313.5h0M272.1 326.5h0M451.6 181.3h0M500.2 131.2h0M318.7 257.1h0M432.4 198.9h0M472 122.5h0M243.7 336h0M268.5 326.6h0M350.7 223.3h0M240.6 346.8h0M289 310.8h0M445.2 140.2h0M310 297.5h0M480.4 152.4h0M240.1 341h0M426.3 157.3h0M512.3 111.1h0M317.5 258h0M427.3 155.9h0M514.4 106.4h0M349.2 264.8h0M504.4 104.8h0M365.4 210.9h0M366.9 208.8h0M446.3 139.7h0M269.7 310.4h0M264.9 330.2h0M372.7 203.7h0M260.6 332.3h0M418.9 210.3h0M307.6 266.9h0M345.7 230.6h0M380.1 196.6h0M483.2 115.1h0M288.2 310.7h0M511.4 112.7h0M443.3 186.8h0M283.1 296.8h0M267.2 328.1h0M254.9 320.7h0M264.2 330.5h0M271.3 307.5h0M411.3 168.5h0M245.1 332.6h0M389.4 235.1h0M264.1 328.4h0M485 113.6h0M480.5 151.4h0M499.6 130.8h0M403.2 177h0M284 313.5h0M354.8 262.9h0M391.1 233.4h0M502.3 128.4h0M372 203.1h0M334.2 276.2h0M495.8 136.4h0M299.8 278.7h0M379.1 243.3h0M327.8 284.3h0M376.6 246.3h0M496.6 108.8h0M502.9 103.8h0M389 186.5h0M398.7 179h0M332.5 243.1h0M254.3 335.7h0M461.4 170.5h0M430.1 199.3h0M482.4 150.7h0M333.8 276.7h0M282.3 297.6h0M498.7 105.4h0M366.2 208.4h0M270.4 311.7h0M337.8 236.8h0M445 140.6h0M374.2 247.3h0M282.7 295.6h0M454.2 133.8h0M276.9 302.7h0M410 169.8h0M320 255.2h0M239.3 347.6h0M260.1 320.9h0M453.7 179.8h0M359.1 259.6h0M364.6 210.8h0M465 168.2h0M299.3 278.8h0M457.4 175.9h0M411.7 168.6h0M297.3 306.9h0M328.4 249.7h0M385 193.6h0M329.9 244.3h0M460.3 130.5h0M356.7 216.9h0M375.7 198.5h0M344 269.4h0M473.9 159.4h0M449.8 183.2h0M469.7 124.1h0M221 363.5h0M467 166.5h0M446.3 139.6h0M369 250.5h0M333.6 242.6h0M403.9 221.2h0M362.4 213.7h0M418.9 161.9h0M377 198.1h0M298.2 305.1h0M505.8 123.5h0M330.9 244.9h0M451.4 182.1h0M305.3 272.6h0M311.7 266.2h0M471 122.8h0M297.2 305.2h0M295.4 280.6h0M312.4 294.3h0M501 130.3h0M314.1 264.1h0M406.2 219.6h0M321.8 287.1h0M313 264.8h0M252.4 334.9h0M423 206.7h0M233.1 350.9h0M376.2 245.3h0M436.1 148.8h0M278.1 303.4h0M449.5 182h0M498.7 105.8h0M404 220.7h0M295.9 281.7h0M397.6 180.3h0M450.6 136.9h0M291 311.8h0M293.2 307.6h0M315.9 260.6h0M505 123.3h0M442.4 187.9h0M275.7 323.1h0M413.2 215.2h0M491.1 140.6h0M320.3 288.2h0M419.6 208.6h0M246.3 337.9h0M370.8 249.5h0M250.7 341.4h0M346.2 268.9h0M258.1 322.5h0M509 101.2h0M291.8 308.9h0M300.1 279.5h0M318.9 257.1h0M499.8 129.9h0M468.4 125.2h0M414.4 212.3h0M314.4 262.8h0M438.7 191h0M441.9 188h0M377.2 244.2h0M349.9 225.6h0M283.4 313.9h0M351.3 225.1h0M233.6 351.9h0M317.1 258.5h0M460.1 130.9h0M349.3 264.8h0M439.3 190.9h0M322 288.2h0M354.9 260.6h0M313.4 264.3h0M477.7 154.5h0M372.1 204.6h0M224.5 357.4h0M349.9 226.5h0M413.3 166.5h0M277.6 320.7h0M345.5 230.6h0M379.9 240.4h0M270.1 312.2h0M313.2 264.2h0M457.3 131.3h0M372 204.4h0M322.3 286.5h0M343.9 269.8h0M279.3 318.5h0M460.7 173.6h0M356 219h0M423.1 160.5h0M242 340.8h0M339.9 237.2h0M273.1 324.9h0M272.5 324.1h0M493 139.1h0M310 298.1h0M345.9 227.4h0M385.2 193h0M295.3 304.3h0M307.6 268.3h0M380.1 240.7h0M343.5 231.3h0M313.8 263.3h0M273.1 303.3h0M346.5 268.2h0M402.6 221.7h0M250.4 338.7h0M421 206.2h0M268.7 313.8h0M245.4 336.4h0M461.1 129.4h0M464.8 126.6h0M300.3 276h0M295.8 283h0M330.1 283.1h0M354.8 221.7h0M259.5 321.9h0M445.8 186h0M378.6 242.7h0M368 251.8h0M254.8 334.9h0M422.8 204.3h0M502.9 126.4h0M460.5 171.8h0M460.4 172.3h0M245.8 341.8h0M340.8 273.5h0M274.9 320.6h0M381 240.6h0M377.3 198.5h0M390.6 233.6h0M367.7 253.4h0M463.2 170.1h0M402.9 178.2h0M368.3 251.7h0M292.3 307.9h0M328.3 282.9h0M400.6 225.3h0M317.7 260.1h0M262.2 319.2h0M233.1 345.6h0M323.1 251h0M311.8 293.3h0M317.8 291.4h0M333.9 240.7h0M349.6 225.9h0M282.9 295.8h0M469.2 124.2h0M463.5 169.9h0M277.2 303.6h0M376.4 246.7h0M376.4 201.5h0M335.4 276h0M417.5 211.4h0M407.7 172.7h0M374.5 246.5h0M439.5 145.7h0M292.4 311h0M319.9 289.1h0M302.4 301.6h0M509.9 101.6h0M383.3 237.6h0M471.4 123h0M375 202.5h0M309.3 268.7h0M489.6 110.7h0M475.1 120.8h0M392.1 186.6h0"/>
<path stroke="#0050ff" d="M384.5 194.3h0M236.2 350.7h0M319.8 289.7h0M305 272.2h0M349.1 269.8h0M410.6 170.5h0M319.4 259.4h0M227.6 357.9h0M249.1 337.3h0M357.6 260.7h0M291 285.3h0M452.1 179.3h0M275.9 317.9h0M405.3 174.8h0M370.4 205.6h0M325.6 251.2h0M248.6 336.1h0M268.9 313.1h0M500.4 105.6h0M323.5 253h0M469.9 124.4h0M447.6 140.1h0M302.3 271.4h0M496.6 133.3h0M508 120.1h0M230.3 352.4h0M291 306.5h0M481.3 115.6h0M330.8 245.2h0M256.2 322.7h0M430.7 153.3h0M237.2 343.1h0M297.3 280.5h0M294.1 284.1h0M338.1 238.2h0M280.2 317.7h0M399.4 226.8h0M320.2 256.3h0M333.2 279.6h0M432.5 195.5h0M331 279.2h0M256.7 325.6h0M358.3 216.5h0M296 281.8h0M381.3 240.2h0M245.7 343.3h0M359.8 216.8h0M322.1 285.1h0M367.2 252h0M275 304.4h0M243.2 333.3h0M300.3 276.9h0M491.8 140.3h0M283.3 297.1h0M259.4 334h0M336.8 274.1h0M376.8 199.5h0M386.3 234.1h0M484.9 114.2h0M264.3 328.2h0M232.7 354.8h0M313.1 264.9h0M457.9 175.4h0M301 278.9h0M356 259.9h0M395 229.2h0M235.8 344.7h0M356 220.8h0M229.4 352.6h0M419.3 209.4h0M278 303.3h0M292.8 284.4h0M405.9 219.9h0M500.1 106.4h0M395.1 229.6h0M240.8 345h0M496.4 108.9h0M359.4 215.6h0M430.2 198.9h0M280.6 298.8h0M261.8 330.9h0M459.8 173.2h0M315.5 289.3h0M376.1 245.3h0M362.2 214.1h0M275.5 320.8h0M331.5 244.1h0M487.1 144.9h0M405 220h0M254.9 326.4h0M232.8 350h0M248.9 336.1h0M302 276.4h0M360.1 216.6h0M486.2 146.1h0M389.7 231.3h0M440.6 190h0M346.5 231.4h0M311.5 293.5h0M441.9 188.1h0M288.4 290.3h0M242.4 343.7h0M474.7 157.7h0M324.8 284.4h0M372.7 247.6h0M336.3 274h0M499.9 129.4h0M431.4 150.3h0M514.6 105.5h0M398 180.4h0M460.2 171.8h0M435.4 148.1h0M411.8 216.1h0M513.4 103.9h0M280.3 299.6h0M475.5 119.4h0M512.7 115.7h0M269.5 310.8h0M242.3 336.8h0M260.9 320.2h0M411 170.6h0M282 293.6h0M287.8 310.4h0M263 330.5h0M257.4 338.1h0M392.8 187.1h0M226.1 359.1h0M392.3 231.4h0M407.7 172.4h0M241 343.9h0M295.7 304.5h0M344.4 232.7h0M364.7 253.2h0M300.1 281.3h0M314.7 290.6h0M287.1 309.3h0M285.9 293.6h0M496.6 134.3h0M274 305.7h0M233.9 348.8h0M310.6 268.6h0M350.8 225.1h0M504.4 122.7h0M481.5 115.6h0M269.9 313.1h0M326.8 252.2h0M260.3 334h0M426.1 157.3h0M438.8 190.5h0M435.3 148.2h0M353.5 261.5h0M444.5 187.2h0M286.3 293.4h0M391.8 187.4h0M423.6 158.5h0M247.5 337.8h0M320.5 258.3h0M372.5 204.1h0M420.2 162.5h0M279.1 317.5h0M439.4 190.9h0M447.1 140h0M326.6 252.1h0M249.8 329.5h0M491.6 141.2h0M299.7 303.3h0M251.9 335.9h0M303.4 275.3h0M237.3 349.5h0M273.6 319.8h0M451 180.5h0M370.3 250.5h0M238.8 346.6h0M356.6 219.5h0M479 153.5h0M237.9 344.1h0M484.3 114.7h0M414.2 167.9h0M349.5 265.4h0M255.1 325.9h0M406.9 219.4h0M265.4 315.1h0M339.1 274.6h0M279 299.9h0M351.3 264.5h0M422 205.2h0M258.6 334.5h0M286.4 312.5h0M459.5 132.1h0M503.6 104.1h0M343.8 269.5h0M457.8 133.1h0M279.4 316.5h0M510.2 116.4h0M463.8 127h0M318.9 259.3h0M507 121.7h0M243.1 345h0M359.7 217.7h0M323.3 285.4h0M442.8 187.2h0M275.6 315.6h0M312.4 266h0M500.2 106.6h0M486.6 111.9h0M493.5 136.7h0M452.2 135.6h0M433.8 194.9h0M505.7 104.1h0M427.8 155.9h0M437.5 193.1h0M353.5 221h0M431.8 197.2h0M318.3 289.3h0M419.6 207.6h0M403.5 175.8h0M365.2 211.4h0M354.2 259.9h0M497.1 107.4h0M346.9 266.7h0M509.8 105h0M300.1 304.4h0M317.7 260.6h0M351.9 224.8h0M257.9 324.2h0M403.4 175.2h0M398.3 181.4h0M455.2 178.1h0M290.1 286.9h0M394.5 183.7h0M492.1 138.9h0M476.2 155.5h0M425.4 158.8h0M438.8 146.8h0M274.1 319.8h0M377.6 243.2h0M286.4 293h0M354.8 221.2h0M352.1 263.3h0M329.7 280.5h0M420.2 207.4h0M446.2 141.3h0M426.6 202.4h0M497.2 107.4h0M320.7 288.4h0M513.2 106.2h0M240.2 339.2h0M288.9 308.2h0M293.4 306.8h0M266.9 327.8h0M262.4 318.2h0M508.4 120.9h0M262.3 330h0M505.7 106.1h0M308.5 270.3h0M309.2 296.2h0M327.2 251.9h0M239.2 341.4h0M274.1 306.1h0M430 154.1h0M497.7 108h0M353 221.1h0M284.1 313.9h0M270.3 326.7h0M262.9 331.4h0M468.4 126.4h0M391.4 230.2h0M503.4 104.9h0M449.1 183.7h0M406.4 217.8h0M314.7 291.6h0M282.4 316.1h0M394.6 229h0M404.6 175.8h0M435.4 194.1h0M305.5 300.7h0M418.1 163.6h0M410 215.1h0M291.6 288.9h0M456.2 175.7h0M282.2 318.1h0M407.9 215.6h0M326.6 284.6h0M307.3 296.2h0M513.6 111.1h0M486 114.6h0M456.4 175.9h0M394.4 229.2h0M497.7 133h0M306.5 296.8h0M328.1 248.4h0M511.2 113.2h0M325 252.2h0M311.8 293.7h0M267.3 315h0M263 330.3h0M499.2 107.5h0M283.7 297.5h0M369.4 207.5h0M347.8 266.2h0M346.3 231.2h0M385.3 192h0M272.7 308.3h0M293.5 304.9h0M326.8 282.7h0M409.6 215.1h0M286 311.1h0M437.6 191.3h0M263.1 318.3h0M257.4 323.6h0M436.8 147.7h0M366.1 251.6h0M512.5 108.6h0M278 315.6h0"/>
<path stroke="#005aff" d="M340.1 236h0M459.4 131.2h0M419.2 206.3h0M393.4 228.9h0M492.1 139.7h0M459.2 130.7h0M378 198.2h0M289.6 289.9h0M299.8 280.4h0M426.6 156.4h0M237.6 345.3h0M359.5 218h0M377.7 242.5h0M282.1 314.6h0M269.7 310h0M261.1 321.7h0M283.1 297.5h0M307.5 271.7h0M331.8 244.3h0M269.1 313.4h0M415 212.9h0M325.2 282.4h0M321.3 256.6h0M348.1 228.1h0M328.8 246.6h0M245.1 333.4h0M365.2 253.8h0M337.3 239.9h0M472.6 158.5h0M290.8 291.9h0M279.9 299.1h0M512 103.3h0M275.2 314.8h0M316.3 289.1h0M327.6 250.5h0M399.8 225.8h0M298.6 302.8h0M357.8 220h0M308.7 270.4h0M368.2 250.3h0M268.8 313.7h0M374.4 203.1h0M362.8 256.4h0M293.7 304.7h0M314.4 265.6h0M258 330.8h0M259.9 323h0M413 169.3h0M420.1 162.3h0M318.7 288h0M374.9 244.4h0M453.4 179.1h0M249.6 329h0M458.1 133.2h0M379 241.1h0M347.2 267.3h0M275 314.3h0M294.5 284.6h0M272.8 324.2h0M310.4 292.5h0M290.6 285.5h0M272.9 323.5h0M404 221.6h0M276.9 303.5h0M263.6 328.4h0M374.4 248.4h0M344.4 232.1h0M385.2 193.4h0M425.2 202.4h0M278.2 302.9h0M393.1 186.8h0M427 201.2h0M512.6 111.2h0M322.9 283.6h0M255.2 333.3h0M443.1 143.4h0M262.2 319.6h0M460.8 131.8h0M360.2 259.6h0M488.9 142.7h0M381.8 195.8h0M423.9 203.9h0M352.1 225.5h0M408.4 216.1h0M295.5 304.5h0M476.8 119.2h0M444.3 141.9h0M513.1 109.1h0M304 296.6h0M247.3 341.9h0M250.7 341.9h0M498.2 107.3h0M356.9 260h0M478.2 118.8h0M335.2 241.1h0M408.9 171.2h0M438.1 192.5h0M330.5 279.8h0M472.4 122.9h0M366.7 208h0M496.5 133.7h0M363.8 211.7h0M234.7 346h0M396 183.5h0M381.1 238.5h0M366.2 249.9h0M444.5 141.2h0M357.4 220.4h0M399.3 224.8h0M249 330.8h0M430.7 153.1h0M273.2 305h0M330.1 278.7h0M312.4 266.4h0M495.5 136h0M278.9 315.5h0M410.8 215.1h0M421 206.2h0M345.3 268.6h0M247.9 340.5h0M471.2 162.4h0M354.6 223h0M372.7 203.1h0M383 237.1h0M473 159.1h0M324.2 282.3h0M233.7 349.4h0M310.8 292.9h0M334.4 243.5h0M399.1 181.4h0M306.8 300.6h0M306.5 294.7h0M289.2 308.7h0M321.1 258.2h0M342.6 271.4h0M453 179.9h0M266.9 315.4h0M279.6 300.3h0M304.2 273.5h0M321 285.6h0M266.2 317.3h0M459 173.3h0M377.7 241.2h0M431.5 152.8h0M438.5 190.8h0M324.2 282.8h0M413.7 212.3h0M340 237.1h0M443.5 187.1h0M383.1 194.7h0M260.6 322.8h0M296.5 285.4h0M377.5 242.4h0M440.2 146.4h0M298.5 281.9h0M236.3 347.4h0M361.8 213.5h0M345.3 232.7h0M417.4 163.8h0M388.1 189.1h0M276.5 304.1h0M344.2 269.4h0M283 316.5h0M415.6 211.2h0M497.2 132.4h0M270.5 309.3h0M365.8 251.5h0M375.8 200.2h0M358.9 217.4h0M290.2 306.9h0M458.4 132h0M407.8 172h0M450.9 138.2h0M413.4 212h0M401.4 221.4h0M263.5 316.8h0M338.8 240.5h0M385.6 191.7h0M299.1 281.8h0M397 183.9h0M386.7 190.5h0M502.1 105.5h0M372.2 247.7h0M246.8 337.5h0M369.4 208.4h0M410.8 170.1h0M338.2 274.1h0M375.3 244.8h0M258 325h0M302.6 300.6h0M371.1 204.6h0M379 197.1h0M463.8 169h0M440.1 146.8h0M323.9 283h0M384.9 236.7h0M363.8 212.7h0M282 298.9h0M346.2 230.2h0M291.3 306.6h0M480.1 152.3h0M503.6 124.3h0M253.3 329.8h0M475.6 156.5h0M476.3 120.7h0M503.6 126.4h0M498.3 107.2h0M278.6 302.2h0M460.7 131h0M323.1 284.4h0M402 221h0M328 280h0M281.8 300.8h0M377.8 199.4h0M255 333.4h0M451.7 138h0M310 293h0M273.3 323.3h0M401.5 178.7h0M341.8 233.2h0M262.5 321.9h0M389.2 188.8h0M395.8 229.1h0M349.1 263.1h0M244.5 342.9h0M297.5 282.2h0M505.8 122.7h0M504.2 123h0M337 274.2h0M421.3 205.9h0M360.4 256.9h0M488.2 111.3h0M452.3 179.1h0M439 146.3h0M266.4 326.4h0M370 206.6h0M442.9 186h0M447.5 184.9h0M444.8 141.8h0M271.5 312.8h0M328.1 280.1h0M391.3 230.9h0M363.4 252.9h0M265.2 326.2h0M506.2 121.7h0M264.2 323.6h0M427.5 200h0M412.7 168.7h0M263.3 323h0M422.9 204.3h0M267.6 314.5h0M329.9 279.5h0M455.9 174.9h0M395.4 185.3h0M459.7 174.5h0M276 314.5h0M366.2 209.4h0M354.6 220.9h0M485.1 115.1h0M333.6 243.9h0M440.7 189.9h0M428.2 199.8h0M350.2 225.8h0M383 235.7h0M502.7 106.1h0M358.3 256.7h0M281.3 315h0M493.5 109.2h0M471.3 160.1h0M269.8 322.9h0M253.5 328.1h0M334.9 244.6h0M510.7 107.7h0M422 161h0M300 282.6h0M471 161h0M372.1 205.5h0M474.6 120.4h0M348.6 263.3h0M346.6 229.3h0M288.8 307.6h0M398.8 224.4h0M471.7 159.5h0M463.7 128.5h0M403.4 177.2h0M298.9 302.8h0M289.1 309.1h0M241.4 343h0M421.5 206.6h0"/>
<path stroke="#0065ff" d="M256.4 333.2h0M507.4 119.6h0M509.8 111.5h0M248.4 333.4h0M341.8 268h0M482.2 116.3h0M465.7 166.1h0M273.1 307.5h0M449.4 139.4h0M487.1 112.8h0M314.9 263h0M410.2 171h0M415.9 210.6h0M303.3 274.3h0M457.4 174.3h0M425.5 158.4h0M334.4 276.6h0M338.3 273.3h0M454.7 134.6h0M450.6 181h0M475 157.9h0M385 191.6h0M391.7 186.5h0M409.7 170.9h0M427.7 200.7h0M453.2 176.9h0M284.3 296.8h0M507.2 118.9h0M266.9 322h0M455.8 175.4h0M433.4 152.1h0M365.4 211.9h0M324.4 282.3h0M441.7 144h0M424.6 203.9h0M355.2 223.7h0M430.1 155.1h0M346.6 265.3h0M372.3 247.6h0M285.8 296.8h0M300.9 278.3h0M510.3 105.1h0M288.6 306h0M467.9 164.3h0M471.3 161.9h0M355.1 259.5h0M283.5 298.3h0M365.4 254.6h0M357.2 258.3h0M411.3 171h0M510.2 114.9h0M476.6 156.8h0M378.5 199.9h0M394.7 227.1h0M394 227.4h0M484.6 147.9h0M268.9 322.2h0M444.2 142.9h0M467.6 165.4h0M405.5 173.9h0M401.6 222h0M499 106.8h0M330.2 245.4h0M330.9 246.3h0M299.7 282.2h0M328.4 279.4h0M254.2 335h0M421.4 160.4h0M393.7 185.4h0M437.8 191.3h0M418.6 206.7h0M284.3 296.7h0M357.5 256.3h0M418.5 163.4h0M287.9 306.2h0M493.2 137.2h0M387.9 234.2h0M413 169.1h0M447.1 182.7h0M322.6 256.3h0M380.6 239h0M433.4 195.4h0M416.5 212h0M366.7 249.9h0M385.5 234h0M273.6 317.3h0M350.4 227.2h0M369.6 205.4h0M322.5 255.9h0M434.4 193.9h0M400.8 179.5h0M481.2 116.8h0M507.9 118.6h0M330 247.3h0M307.8 269.9h0M512.5 109.9h0M372.7 246.7h0M498 132.5h0M290.3 306.1h0M470.2 162.7h0M447.1 139.9h0M294.4 305.3h0M382 238.8h0M479.3 117.4h0M351.2 263.3h0M385.2 235.1h0M482.6 149.4h0M506.7 105.8h0M249.6 334.2h0M322.5 257.4h0M320.2 287.8h0M343.6 268.8h0M350.3 229.1h0M299.6 282.2h0M287.4 308h0M384.4 194.1h0M451.6 178.6h0M275.2 305.8h0M287.8 293.4h0M251.9 326.9h0M449.7 180.9h0M440.5 146h0M462.1 129.6h0M296.6 284.9h0M325.8 252.1h0M357.9 257.2h0M277.4 305.3h0M460.1 171h0M315.1 264.3h0M484.4 145.9h0M262.8 329.6h0M501 105.4h0M418 163h0M300.3 279.5h0M374.1 243.1h0M386.5 191.3h0M469.4 124.1h0M395.1 184.8h0M509.7 109.9h0M357.6 218.7h0M395.2 227.1h0M511.9 105.7h0M438.4 148.4h0M425.6 158.2h0M423.3 203.4h0M349.5 229.6h0M337 272.4h0M254.2 330.9h0M472.2 123.1h0M271.3 320.5h0M309.8 269.3h0M352.9 261.6h0M262.1 329.8h0M477.1 154.3h0M450.2 139.4h0M389.9 188.7h0M488.5 114.3h0M292 290.3h0M255.7 328h0M341.9 267.6h0M358.9 255h0M452.1 178.2h0M405.9 219.5h0M341.9 268h0M365.3 210.5h0M388.9 233.9h0M362.8 214.5h0M353.4 259.9h0M343.7 235.2h0M375.9 243.2h0M344.2 233.3h0M412.3 214.3h0M507.9 107.6h0M350.9 226.3h0M391.6 188h0M283.5 297.3h0M440.6 146.3h0M261.6 324.1h0M470.3 161.2h0M432.3 152.2h0M427.3 155.6h0M450.7 137.5h0M358.8 255.4h0M350.3 226.8h0M407.3 172.9h0M334.1 276.6h0M424.6 159.7h0M406.6 220.2h0M394.8 226.7h0M253.9 326.6h0M402 220.2h0M286.1 310.6h0M313.7 291.9h0M337.6 271.2h0M356.3 258.3h0M471.6 159.8h0M269.5 313.2h0M399.9 223h0M370.5 248.8h0M423.8 159.9h0M454.3 176.3h0M406.6 174.7h0M268.7 315.9h0M431.2 152.2h0M434.1 149.7h0M506.8 119.1h0M338.2 238.2h0M445.1 142.3h0M364.2 214.7h0M408.7 173.3h0M503.3 125.6h0M430.5 197.7h0M280.5 313.5h0M452.8 136.9h0M327.8 278.7h0M335.9 243.1h0M465.8 166.9h0M328.7 248.5h0M319.6 259h0M284 314.4h0M315.5 265.2h0M507.4 119.4h0M299 301.5h0M321.4 283.7h0M364.2 213.1h0M408.3 174.4h0M346.6 265h0M405.3 175.8h0M399.2 223h0M319.4 261h0M322.3 254.1h0M479.2 118.6h0M353.2 260.8h0M375.3 241.9h0M295.1 304.7h0M327.4 279.3h0M278.7 304.6h0M311 268.4h0M273.4 308.6h0M500.5 129h0M310.2 292.9h0M477.1 155.1h0M282.3 312.6h0M416.3 165.7h0M280 302.7h0M465 166h0M319.7 289.4h0M325.2 280.8h0M291.8 305.5h0M357.6 261.1h0M400.5 220.9h0M400.6 179.1h0M288.5 304.8h0M363.4 252.1h0M274.2 306.7h0"/>
<path stroke="#0070ff" d="M496.3 109.2h0M300.5 282.2h0M341.5 236.4h0M504.5 106.7h0M423.4 202.2h0M502.8 123.5h0M374 204.8h0M491.2 111.8h0M473.2 158.8h0M350.4 260.8h0M492.4 136.9h0M291 291.9h0M463.7 127.9h0M368.8 208.3h0M298.1 305.3h0M270.9 319.9h0M327.5 278.1h0M398.9 222.1h0M259.9 324.7h0M295.7 304.3h0M455.3 133.9h0M474.5 121.8h0M373.3 244.5h0M494.2 110.6h0M463.2 168.7h0M280.8 302.5h0M273.7 308.4h0M446.3 141.7h0M378.2 198.6h0M264.3 324.3h0M489.7 142.2h0M428.3 200.6h0M279.6 303.3h0M449.7 181.4h0M475.2 156.9h0M287.6 291.9h0M412.1 211.5h0M343.5 267.9h0M285 309.9h0M310.5 289.7h0M343.6 235.9h0M318.8 261.7h0M262.3 323.8h0M251.3 332h0M317.5 261.3h0M361.6 215.6h0M410 172.5h0M499.9 131.2h0M296.2 302.6h0M455.9 174.4h0M328.2 251.1h0M341.3 235.8h0M263.8 324.3h0M482 149.4h0M366.4 251.5h0M478.2 118.1h0M268.2 317.4h0M405.1 177.6h0M372.9 248.2h0M286.5 296.5h0M436.2 194.2h0M397.5 225h0M404 178.2h0M492 138.8h0M386.5 192.7h0M323.7 280.2h0M391.3 229.8h0M411.2 169.1h0M274.3 315.8h0M273.6 308.8h0M447.1 183.2h0M496 133.7h0M447.6 140.5h0M463.6 169.2h0M383.2 235.7h0M297.9 283h0M278.4 305.1h0M470.8 122.6h0M379.8 240.6h0M370.1 207.3h0M277.6 314.8h0M347.5 263.1h0M469.1 125.3h0M432.3 153.4h0M352.9 225.5h0M506.5 121.1h0M501.7 128.1h0M461.2 132.5h0M309.2 291.5h0M297.6 284.5h0M300.6 280.4h0M279.2 314.6h0M270.2 315.9h0M457.8 173h0M477 154.4h0M357.9 221.3h0M417.5 208.5h0M292.7 304h0M294.3 301.8h0M312.4 266.6h0M496.6 134.4h0M495.5 110.4h0M286 296.9h0M370.1 249.1h0M493.7 136.3h0M259.2 330.8h0M338.2 241.5h0M348.8 262.5h0M423 160.4h0M437.8 190h0M271.6 311h0M335.2 243.9h0M421.9 206h0M302 276.3h0M488.5 114h0M312.5 289.8h0M415.6 167.5h0M460.5 170.3h0M463 168.4h0M398 222.7h0M428.6 198.1h0M502.4 107.6h0M308.3 291.7h0M344 235.4h0M286.3 312.6h0M315.5 260.8h0M377 241h0M349.8 261.6h0M435.6 191.9h0M345.4 231.3h0M491.2 140.5h0M339.4 269.1h0M414.2 169.5h0M381.9 197.6h0M500.5 108.7h0M342.7 268h0M502.1 107.5h0M382 237.4h0M368.6 246.5h0M455.4 174.8h0M491.6 109.9h0M446.1 183.6h0M450.3 178.9h0M291 304.4h0M436.6 192h0M391.6 188.1h0M292.8 286.3h0M380.8 195h0M312.9 268.1h0M269.2 315.7h0M285.4 310.3h0M500.5 129.2h0M335.9 243.2h0M342.5 267.5h0M309.7 290.7h0M266.9 321.5h0M371.1 246.2h0M324.6 253.7h0M319.9 282.7h0M441.2 144.9h0M416.7 165.6h0M437.2 191.1h0M505.8 106.5h0M315.7 264.8h0M377.7 241h0M418.1 164.6h0M436.4 149.1h0M410.2 213.7h0M474.4 157.3h0M428.4 198h0M343.1 235.7h0M365 212.5h0M467.6 127.3h0M347 232.5h0M454 134.9h0M436.8 149.2h0M419.7 162.2h0M282.1 313.3h0M476.8 120.1h0M288.2 295.1h0M484.6 146.4h0M366 213.1h0M445.1 184.8h0M488.3 113.9h0M465.2 165.3h0M307.6 291.9h0M497.9 107.3h0M446.1 183h0M384.8 234.9h0M320 284.2h0M384.8 194.6h0M302.2 280.1h0M458.5 133h0M469.4 125.4h0M257 327.8h0M442.4 144.5h0M343.4 266.9h0M433.2 195h0M426.3 158.2h0M325.9 282.5h0M365.2 212h0M389.7 230.2h0M307.6 292.5h0M486.5 115.7h0M509.5 109.5h0M473.8 121.3h0M397.5 226.1h0M402.9 220.3h0M445 184.8h0M411.6 170.7h0M348.1 230.9h0M426.8 157.3h0M359.2 217.7h0M501.7 128.8h0M365.2 251.3h0M505 106.8h0M411.7 212.4h0M302 281.3h0M448.6 180.9h0M501.3 108.8h0M261.2 324.8h0M404.2 220.8h0M413.4 212.2h0M397.6 223.4h0M322.3 256.4h0M495.2 134.6h0M282.5 298.4h0M359.5 219.3h0M271.8 310.6h0M399.5 182h0M291.6 291.7h0M504.4 106.4h0M306.7 293.9h0M381.2 236.5h0M498.6 128.7h0M451 137.9h0M286.1 300.5h0M349.8 261.9h0"/>
<path stroke="#007aff" d="M265.7 317.7h0M279 304h0M299.2 300.7h0M377.3 242.3h0M258.3 326.9h0M420 163.6h0M287.4 296.9h0M344.1 265.6h0M293.2 288.6h0M481.4 150.9h0M433.3 194.9h0M286.1 309.4h0M354.1 224.7h0M263 326.5h0M478.3 154.5h0M427.7 156.3h0M431.8 194.7h0M345.3 235.3h0M302.6 298h0M449.2 180.9h0M284.6 312.1h0M496.9 132h0M339.6 268.7h0M487.6 143.9h0M387.3 193.5h0M473.4 123.3h0M442.6 187.7h0M345.9 232.7h0M331.7 276.9h0M276.8 304.7h0M392 229.6h0M438.7 147.1h0M341.4 236.3h0M428.7 156.2h0M288.6 292.4h0M382.5 197.3h0M464.6 168h0M347.6 263.3h0M333 274.3h0M401.2 220.8h0M334.7 272.3h0M442.6 145.2h0M358.3 254.5h0M508.4 108.4h0M480.5 150.5h0M290.3 293.7h0M347.4 230.9h0M303 273.2h0M349.1 229.6h0M399.3 182.7h0M371.8 205.8h0M261.9 324h0M506.4 120.5h0M449 182.7h0M286 306.5h0M306.8 271.3h0M496.8 111h0M430.8 154.6h0M340.5 239h0M453.7 135.3h0M304.7 296.1h0M464.9 129.2h0M372.7 205.9h0M397.2 224.3h0M431.2 154.2h0M339.2 270.6h0M372.6 206.3h0M440.3 188.7h0M472.4 159.7h0M278.6 312.9h0M501.3 124.7h0M240.4 341.1h0M282.2 308.3h0M458.3 133.1h0M436.9 149.7h0M346.4 263.1h0M386.9 233.7h0M492.6 111.6h0M281.8 303.8h0M326.8 278.6h0M304 277.2h0M331.3 274.5h0M315.6 287.9h0M295.2 300.1h0M390.2 229.6h0M394.1 185.9h0M265.4 319.1h0M345.2 233.3h0M296.5 283.3h0M492.2 111.6h0M365.3 214.6h0M356 223.7h0M360.8 219.4h0M324.6 256h0M346.6 234.4h0M397.6 224.3h0M262.5 325.7h0M416.5 209.2h0M298.4 283.7h0M429.7 155.2h0M354.3 224.3h0M471.5 123.8h0M296.3 286.7h0M393.1 187.5h0M390.7 230.5h0M458.8 173.3h0M439.9 147.7h0M383.1 196.9h0M426.9 200.9h0M356.9 223.2h0M367.8 247.5h0M287.3 306.4h0M358.3 222h0M469.2 124.7h0M453 176.7h0M509.6 117.2h0M291.8 303.3h0M365.9 212.5h0M414.5 167.8h0M300.1 283h0M369 208.3h0M473.9 122.4h0M461.1 169.6h0M315.7 289.9h0M447.7 140.9h0M509.2 113.9h0M381.2 236.4h0M410.8 213.5h0M439.2 189.8h0M394.9 187.1h0M291.4 306.2h0M455.2 175.7h0M503.3 108.5h0M268.6 321.9h0M416.9 207.9h0M475.8 154.9h0M465.1 166.2h0M366.3 211.6h0M311.9 267.5h0M403 220.1h0M495.7 135h0M402.5 220.1h0M368.2 211.7h0M406.8 174.9h0M315.1 290.7h0M391.4 187.1h0M461.6 170.2h0M426 201.7h0M274.7 309.3h0M444.3 184.4h0M438.5 189.2h0M309.6 272.8h0M281.5 306.2h0M355.7 225.3h0M501.2 127.8h0M511 115.1h0M448.6 181.1h0M319.3 282.5h0M377.2 240.3h0M502.4 108h0M318.6 283.6h0M321.4 258.1h0M397.3 224.7h0M281.2 310.6h0M499.7 127.6h0M442.4 185.4h0M385.7 234.4h0M347.4 229.9h0M320.5 261.3h0M420.3 163.4h0M376.9 200.8h0M404.2 178.4h0M448.6 182.8h0M456.5 134.2h0M349.2 261.9h0M498.8 130.4h0M296.7 285.5h0M305.5 276.6h0M345.8 235.5h0M460.4 171.8h0M337.7 241.3h0M481.9 150h0M328.8 275.6h0M365.6 248.4h0M508.4 113.7h0M415.7 166.3h0M419 164.4h0M411.8 170.7h0M274.1 314h0M452.3 177.6h0M340.8 267.3h0M497.8 109.3h0M402.9 220.8h0M319.1 262.9h0M354.7 258.3h0M373.3 244.3h0M281.6 303.7h0M322.5 261.8h0M401.7 220.4h0M383.7 194.7h0M498.6 108.3h0M420.1 205h0M353.9 259.2h0M291.6 292.8h0M471.2 159.9h0M479.9 119.3h0M337.7 272.9h0M433.2 195.2h0M388.6 190.1h0M325.4 278.7h0M394.3 225.8h0M342.2 237.1h0M501.2 108.8h0M504.9 121.1h0M348.6 229.6h0M488.3 142.5h0M465.5 128.2h0M429.3 197.7h0M507.4 107.7h0M485 146.1h0"/>
<path stroke="#0085ff" d="M454.4 135.7h0M384.2 195.7h0M389 191h0M509 109.4h0M436.9 190.6h0M481.5 117.8h0M442.2 145.3h0M352.9 260.9h0M488.5 141.3h0M456.9 172.9h0M356.8 221.6h0M498 108h0M432.9 195.4h0M331.9 272.7h0M276.6 311.6h0M397.1 223.9h0M370.9 206.1h0M474.3 123h0M322.5 257.3h0M273.4 315.7h0M426.5 199.9h0M415.9 210.3h0M309.9 269.4h0M309.6 269.7h0M350.1 228.2h0M303.2 294.6h0M457.4 173.3h0M487 144.3h0M346.4 262.9h0M329.2 250.8h0M452.8 177.5h0M465.7 128.8h0M347.3 231.8h0M411.4 212.7h0M505.3 109.4h0M490.3 138.4h0M347 233h0M373.9 242.5h0M456.7 173.9h0M330.1 279h0M330.5 246.6h0M454.1 176.6h0M444.3 142.3h0M437 149.4h0M450 178.7h0M345.9 234.4h0M480.9 117.7h0M299 283.8h0M290.2 293.9h0M441.9 145.5h0M322.3 256.7h0M444.3 184.4h0M388.7 231.8h0M485.8 115.4h0M289.7 295.9h0M481.4 118.4h0M409.6 214.3h0M279.7 303.1h0M360.4 254.7h0M475.2 156.6h0M480.1 152.5h0M466.5 127.6h0M439.3 188.3h0M467.4 126.9h0M509.4 111.9h0M403.6 178h0M314.9 286.9h0M272.8 310.7h0M338.7 269.6h0M487.2 114.7h0M376.8 240.7h0M482.4 115.5h0M491.8 110.6h0M320.8 258.1h0M358.2 222.5h0M279.4 308.7h0M330 250.1h0M459.2 172.2h0M460.1 170.5h0M340.9 265.5h0M424.2 201.3h0M281.4 304.7h0M340.1 268.2h0M405.9 218.5h0M438.2 190.3h0M479.7 119h0M359.4 220.8h0M509.7 115.2h0M406 175.3h0M274.8 304.1h0M416 166.5h0M307.1 293.1h0M380 239.8h0M472.9 157.7h0M452.1 178.6h0M458.7 172.1h0M450.5 139.5h0M301.7 281.1h0M339.4 268.4h0M324.7 256.4h0M326.7 254.1h0M493.9 135.6h0M357.8 257h0M349.1 232.1h0M453.5 177h0M408.8 173.7h0M308.7 273.3h0M315.3 264.1h0M398.3 182.4h0M496.9 131.6h0M502.5 108.6h0M379.9 200h0M389 230.4h0M335 244.6h0M369.2 246.9h0M299.5 285.8h0M440.4 188.1h0M446.2 142.5h0M315.2 286.6h0M274.3 310.3h0M396.2 183.5h0M453.7 176h0M419.1 164.2h0M409.2 173.8h0M470.9 125h0M396.1 186h0M405 218.5h0M396.6 184.9h0M398.4 222.3h0M393 229.4h0M458 172.4h0M300.5 295.9h0M406 219.2h0M393.1 188.2h0M438.1 148h0M483.2 148.5h0M277.8 314.6h0M484.6 146.2h0M308.2 292.4h0M389.5 189.5h0M307.5 276.4h0M316.3 267.5h0M490.6 138.9h0M432 193.5h0M381.3 199.3h0M286.7 304.2h0M356.7 258.6h0M409.1 214.3h0M348.9 261.6h0M258.5 324.4h0M277.8 312.2h0M325.8 254.6h0M486.8 143.6h0M454 136.1h0M277.4 306.9h0M355.7 223.2h0M426.7 158.4h0M286.5 299.6h0M506.2 109.8h0M378.6 238.5h0M470.8 160.7h0M457.9 172.7h0M310.8 271.6h0M327.4 251.7h0M389.4 192.1h0M323.5 260.2h0M395.2 187.8h0M324.2 280.9h0M325.4 277.7h0M424.5 158.8h0M364.9 214.8h0M403.7 219.7h0M359.9 217.2h0M499.6 128.5h0M289.1 303.9h0M391.7 188.3h0M340.3 237.8h0M354.4 257.9h0M321.2 263.5h0M490.3 140.6h0M497.7 129h0M506.2 112.3h0M482.4 116.9h0M462.6 166.9h0M416.6 209.7h0M342 265h0M383.4 236.2h0M427.2 158.2h0M405.4 215.9h0M384.3 196.5h0M494.1 136.8h0M409.5 214.4h0M443 185.4h0M459.5 170.7h0M354.6 258.8h0M281.7 309.4h0M381.3 237h0M474.9 122.1h0M325.2 254.8h0M416.7 208h0M505.4 112.3h0M351.9 258.9h0M377.1 201.2h0M451.8 139.1h0M288.1 297.1h0M407.3 175.4h0M392.8 228.7h0M452.1 176.9h0M367.1 213.2h0M401.2 179.4h0M416.2 208.4h0M342.3 236.3h0M317.9 266.7h0M497.6 109.5h0M327 252h0M336.7 269.8h0M400.1 221.8h0M477.3 120.2h0M480.7 149.8h0M425 201.2h0M390.3 190.5h0M354.9 256.2h0M330.6 247.1h0M347.4 233.5h0M304.2 294.4h0M286.5 292.4h0M291.2 298.2h0M454.6 136.5h0M335.7 268.3h0M470.6 161.1h0M352.9 257.7h0M430 196.7h0M425.7 159.9h0M392.6 189.7h0M311.2 267.5h0"/>
<path stroke="#008fff" d="M296.3 286.6h0M401 220.7h0M323.2 257.4h0M462.8 130.3h0M388.9 231h0M401.7 220.8h0M361.3 217.6h0M486.9 114.6h0M302.7 295.1h0M387.3 231.2h0M295 301.5h0M396.7 226.1h0M308.7 272.6h0M378.5 200.8h0M313 284.3h0M380.3 199.1h0M446.3 142.3h0M437.4 148.4h0M391.2 228.8h0M316.9 267.8h0M366.6 246.9h0M302.8 293.1h0M309.2 291.4h0M434.4 150h0M461.8 131.5h0M305.2 291.6h0M334.3 247.4h0M491.5 137.4h0M304.5 276.6h0M468.5 126.3h0M448.4 139.8h0M446.7 181.9h0M326.2 255.6h0M483.5 116.3h0M423 203.4h0M461.9 168.1h0M356.8 223.6h0M408.1 216.3h0M493.9 134.4h0M488.1 143.3h0M271.1 315.3h0M315.9 286.1h0M365.1 249.2h0M483.2 118.4h0M416.1 207.7h0M349.3 260.6h0M345.1 235.6h0M286.7 301.1h0M389.1 229.2h0M465.8 127.5h0M386.8 234.4h0M490.4 141.1h0M346.8 235.1h0M389.7 231.2h0M318.4 265.3h0M501.7 123.8h0M401.4 178.4h0M422.4 161.6h0M309.8 273.8h0M280.3 302.3h0M484.9 115.1h0M507.1 116.7h0M453.9 175.2h0M340.7 268.4h0M312.9 270.1h0M505.9 108.3h0M472.4 124.4h0M435.4 193.8h0M386.4 231.6h0M365.6 248.8h0M359.2 220.5h0M392.4 226.7h0M450 139.5h0M469.5 161.9h0M284.8 300.5h0M454.8 175.2h0M504.2 110h0M389.3 192.6h0M359.7 220h0M475.3 157.1h0M400.6 220.4h0M491.5 137.4h0M304.3 281.2h0M481.4 150.3h0M331.6 272.8h0M362.9 251.6h0M320.3 263.5h0M413 170.2h0M360.9 218.5h0M345.5 264.6h0M432.1 194.7h0M349 262.2h0M424.4 200.6h0M464.9 166.8h0M334.1 245.6h0M376.4 240.9h0M335.5 242.1h0M397.8 182.4h0M412.8 170.7h0M497.9 129.2h0M382 198.9h0M355.8 256.4h0M464.3 129.2h0M374.7 241.2h0M325.3 277.9h0M429.9 197.7h0M295.9 295.8h0M359.1 254.5h0M390 189.5h0M376.7 240.7h0M302.3 281.8h0M291.8 289.5h0M374.3 203.8h0M495.2 133h0M394.6 225.7h0M385 231.1h0M493.4 136.7h0M329.3 254.8h0M455.2 174.9h0M376.1 202.3h0M373.8 205.5h0M502.7 124.1h0M283.6 301.6h0M281.6 305.8h0M354.2 226.4h0M299.9 298.2h0M361 254h0M339.5 267.5h0M421.7 203.3h0M264 319.5h0M299.8 286h0M447.9 140.1h0M502.9 110.6h0M459 132.9h0M342.3 237h0M317.4 284.4h0M377.6 201.7h0M317.3 267.4h0M428.8 157.1h0M508.1 113.5h0M370.8 207h0M414.4 211h0M469.6 162.3h0M451.1 177.6h0M296.8 287.8h0M451.7 138.7h0M353.3 227.4h0M458.4 171.7h0M501.4 125.5h0M425.6 201.1h0M333.5 246.4h0M292.3 295h0M297.1 294.3h0M289.4 301.3h0M340.3 241h0M427.7 197.9h0M363.1 215.4h0M441.1 146h0M378.5 201.6h0M387.4 229.1h0M313.6 285.1h0M401.2 220.5h0M307.3 279.5h0M307.1 294.3h0M498.5 109.1h0M396.3 224.1h0M456.9 134.5h0M346.8 234.1h0M356.1 223.9h0M497.2 110.2h0M415.5 210.2h0M363.6 250.1h0M383.1 197.2h0M360.2 221.7h0M397.6 224.1h0M401.2 180.9h0M411.8 170.8h0M506.4 113.6h0M476.1 155h0M427.8 198.3h0M349.5 229.6h0M442.2 146.4h0M334.7 247.3h0M418.5 165.6h0M280.4 313h0M387.1 230.3h0M389.6 228h0M418.5 207.1h0M501.6 123.4h0M387.6 228.5h0M316.6 268.7h0M305.9 280.7h0M320.1 263h0M424.2 200.9h0M350 231.6h0M303.5 281.2h0M347.9 232.6h0M329 277.8h0M473 158.2h0M459.5 170.9h0M495.9 111.2h0M402.3 218.3h0M447.6 141.1h0M508.6 114.4h0M506.5 119.7h0M364.7 215.1h0M302.1 277.5h0M351.4 227.6h0M381 237.7h0M501 108.7h0M465 165.1h0M384.8 196.1h0M500.5 108.2h0M403.6 178.5h0M412.8 170.5h0M398.7 222.2h0M460.5 169.5h0M289.6 300h0M324.4 281.4h0M434.9 192.8h0M352 230.7h0M453.4 175.6h0M349.1 232.6h0M374.2 243.2h0M485.6 116h0M456.5 173.3h0"/>
<path stroke="#009aff" d="M378.2 201.4h0M355.6 224.8h0M327.1 276.2h0M385 196h0M280.5 308.2h0M386.3 193.3h0M308 279.5h0M506.2 115.6h0M428.1 157h0M311 271h0M457.2 171.4h0M333.5 250.3h0M358 224h0M442.6 145.6h0M311 268.3h0M361.2 218.6h0M296.4 299.1h0M327.1 254.1h0M401.9 181.2h0M345.2 236.5h0M454.1 136.9h0M353.3 258.3h0M294.8 289.5h0M314.8 282.9h0M322.5 261.5h0M335.1 269.4h0M296.1 291.3h0M465.7 128.8h0M344.1 264.8h0M299.9 284.4h0M322.6 261.7h0M504 110.7h0M478.5 119.4h0M440.7 188h0M329.5 254.3h0M459.2 132.5h0M496.3 110.7h0M473.1 158.5h0M494.6 110.5h0M422 162.5h0M490.5 138.8h0M395.3 225.5h0M317.5 268.8h0M453.9 176.1h0M471.3 160h0M447.4 180.8h0M458.9 133.1h0M370.4 208.1h0M475 156.5h0M308.4 275.7h0M323.6 260.5h0M384.2 195.7h0M438.3 148.9h0M331.3 252.8h0M337.8 244.1h0M385.5 196.1h0M367.2 209h0M302.5 283.8h0M324.8 256.7h0M330.3 253.5h0M450.3 139.9h0M460.1 171.1h0M466.8 164.6h0M455.2 134.8h0M374.5 205.6h0M383.4 234.6h0M361 219.5h0M445.1 184h0M298 292.1h0M472.6 123.9h0M416.3 167.3h0M466.3 128.3h0M375.3 202.4h0M307.8 288.5h0M504.8 111.7h0M352.5 258.4h0M416.8 208h0M397.9 183.7h0M292.1 293.2h0M303.7 292h0M357.5 252.4h0M487.4 114.3h0M428.8 197.9h0M360.3 251.6h0M349.7 258.2h0M477 152.7h0M482.7 147.7h0M474.2 122.9h0M354 227.3h0M297.3 294.6h0M315.1 271.2h0M445.6 142.5h0M464.9 165.8h0M413.8 210.1h0M471.4 124.8h0M438.9 187.8h0M427 200.3h0M351.7 230h0M331.2 250.5h0M293.4 302.4h0M475.5 154.2h0M489.8 138.9h0M401.2 181.4h0M396.6 186.1h0M437.4 151.3h0M475.9 121.7h0M394.7 187.7h0M433.1 152.4h0M384.9 234.1h0M333 251.9h0M405.6 177.2h0M301.6 294.4h0M393.2 227.5h0M356.1 226.4h0M439.6 148.3h0M455.6 172.6h0M358.3 223.8h0M312.5 271.4h0M353.1 229.1h0M492.4 135.9h0M415.6 168.7h0M504.4 118.6h0M413.6 170.2h0M322.9 279.7h0M487.7 141.5h0M352.4 257.2h0M326.1 278.1h0M401.6 218.9h0M413 210.7h0M377.2 239.9h0M339.8 268.9h0M306.9 292.4h0M393.5 226.3h0M504.9 117.7h0M384.4 195.9h0M407 176.5h0M378.4 237.2h0M288.3 298.1h0M311.8 272.3h0M464.1 167.1h0M483.7 146.1h0M311.3 286.2h0M432.4 194.3h0M443.9 185.1h0M446.3 181.3h0M492.9 136.4h0M432.5 153h0M317.8 262.8h0M322.7 262.1h0M307.9 273.4h0M478.8 151.4h0M380.4 236.1h0M429.7 197.6h0M371.1 247.1h0M386.3 230.5h0M379.6 235h0M339.3 241.8h0M505.7 119.7h0M311 275.8h0M381.2 199.8h0M316.6 261.1h0M319.5 284.3h0M501 126.2h0M497 130h0M325.2 258.5h0M493.1 113.3h0M384.5 234.1h0M445.8 184.6h0M366.6 246.8h0M415.8 208h0M352.7 228.5h0M404.6 217h0M333.9 273.8h0M422.5 163.4h0M505.7 112.4h0M498.4 109.8h0M311 288.1h0M307.7 289.5h0M362.6 253.2h0M409.8 213.5h0M403.1 179.8h0M456.5 134.1h0M382.9 197.9h0M401.8 216.9h0M459.4 170.5h0M373.8 241.9h0M339.1 268.2h0M340.7 238h0M291.4 299.1h0M499.1 126.3h0M495.1 111.8h0M422 204.8h0M431.2 195.3h0M334.1 244.9h0M438.7 148.9h0M293 291.9h0M367.2 245.2h0M324.6 259.4h0M385.8 195.9h0M491.3 111.9h0M369 243h0M368.6 243.5h0M303.5 288.7h0M467.8 161.9h0M363 251.1h0M486.2 143.4h0"/>
<path stroke="#00a5ff" d="M337.5 266.5h0M331.1 271.7h0M299.9 293.5h0M447.4 180h0M392.7 227h0M383.2 197h0M387.7 228.6h0M376 201.6h0M335.3 248.5h0M354.8 254.8h0M299.9 288.9h0M352.5 257.3h0M484.7 116.6h0M458.6 133.9h0M409.8 172h0M360.3 250.9h0M301.4 286.1h0M299.6 284.8h0M449.3 139.8h0M299.5 283.1h0M401 218.2h0M290.2 298.8h0M478.6 152.9h0M442.5 145h0M487.9 114.9h0M489.3 112.6h0M473 158.2h0M364.8 214.3h0M492.5 137.2h0M440.3 148h0M334.8 249.8h0M393.6 225.8h0M416.2 206.7h0M434.7 152.3h0M377.7 239.2h0M398.8 183.4h0M473.1 156.7h0M354.8 226.6h0M342.3 240.3h0M491.2 136.6h0M464.3 165.4h0M470.2 126.6h0M424.8 200.7h0M404.3 180.2h0M347.9 234.5h0M330.8 274h0M414.9 207.5h0M344.2 239.3h0M473.8 124h0M478.1 120.4h0M354.6 255.6h0M327.9 257.7h0M396.1 224.9h0M355.1 226.7h0M500.1 126.4h0M320.7 282.3h0M494.9 112.1h0M388.6 227.3h0M373.5 208h0M423.1 201.8h0M462.7 165.9h0M413.3 212h0M303 284.7h0M320.8 263.7h0M459.3 132h0M398.8 220.4h0M480.7 119.4h0M352 230.7h0M429.8 154.3h0M388.4 193.1h0M410.1 212.4h0M395.2 224.3h0M393.5 187.6h0M504.9 110.3h0M366.8 246h0M387.7 229h0M374.7 241.1h0M420 203.8h0M485.3 144.1h0M315.1 273.1h0M483 147.2h0M296.9 288.2h0M421.7 164.1h0M478.1 151.5h0M327.8 274.5h0M358.7 224.5h0M454.7 136.9h0M383.5 232.7h0M499.9 111.8h0M425.4 160.3h0M455.6 173.5h0M469.6 161.3h0M362.2 215.5h0M381.6 234.6h0M446.4 143h0M370.1 209.3h0M487.3 116.5h0M484.6 115.3h0M334.5 248.1h0M485.5 144h0M494 113.3h0M328.6 273.8h0M504.3 122.3h0M310.8 275.5h0M417.3 168.1h0M434.1 192.6h0M299.8 292.8h0M384.8 232.1h0M280.3 303.1h0M337.8 243.5h0M493.4 134.3h0M499.1 127.8h0M434.8 152.8h0M329.3 255.2h0M307.9 287h0M300 296.3h0M421.6 202.5h0M338.3 266h0M385.9 197.3h0M377.3 203.5h0M311.8 289.8h0M490.8 138.2h0M401.4 219h0M505 115.4h0M397.1 186.2h0M504.2 119.9h0M453.3 137.1h0M333.4 251.4h0M496.5 111.9h0M434.7 192.9h0M352.7 256.5h0M306.1 288.9h0M490.8 138.3h0M338.1 247.3h0M411.1 212.8h0M344.2 236.4h0M338.6 244.9h0M425.7 158.9h0M325.1 257.7h0M366.5 213.6h0M484 145.9h0M375.3 238.7h0M433.8 152.4h0M493.2 133.9h0M497.8 128.6h0M385 198.1h0M337.1 244.9h0M493.3 112.6h0M424.9 199.5h0M485.1 146.2h0M333.8 251.1h0M428.5 155.9h0M381.5 198.7h0M318.1 280.4h0M337.9 247.4h0M443.9 144.5h0M360.1 223.2h0M390.8 191.3h0M478 121.4h0M373.9 208.1h0M430.1 157.1h0M317.2 271.1h0M369.3 211h0M495.5 132.9h0M410.7 172.6h0M364.8 248.4h0M475.4 122.8h0M387.4 193.3h0M377.9 201.7h0M418.1 165.8h0M464.5 129.8h0M469.1 127.1h0M497.1 130.6h0M378.7 237h0M393.3 225.6h0M345.5 238.3h0M470 160.1h0M395 224.5h0M391.7 190.3h0M329.2 274h0M483.6 118.1h0M340.2 266.4h0M379.8 235.6h0M294.8 286.5h0M469.3 127h0M477.2 152.1h0M441.8 185.9h0M506.8 112.9h0M466.3 128.2h0M326.5 276.6h0M410 212.8h0M294.2 299h0M490.6 137.7h0M432.5 153.4h0M387.5 228.9h0M317.8 266.7h0M496.6 111h0M427.2 197.7h0M461 168.8h0M309.6 275.9h0M459.4 134.3h0M402.4 217.7h0"/>
<path stroke="#00afff" d="M488.7 140.3h0M377.5 202.8h0M466.1 128.7h0M472.9 124.9h0M379.2 201.5h0M504.2 110.7h0M468.5 127.7h0M328 273.9h0M472.1 125.5h0M346.5 260.9h0M390.9 227.5h0M373.9 241.7h0M484.5 146.1h0M480.1 150.8h0M423.8 200.2h0M347.1 234.9h0M303.1 287h0M340.1 265.4h0M447.2 179.8h0M418 206.8h0M444.5 145.4h0M356.8 252.9h0M502.9 123.4h0M443.1 185.6h0M491 138.6h0M458.3 134.8h0M422.7 201.8h0M371.7 243.6h0M361.9 215.8h0M402.7 180.5h0M438.4 150.3h0M455.3 174.7h0M449.1 140.6h0M406.8 214.1h0M365.9 245.5h0M375.7 205.5h0M306.8 279.5h0M431.5 195.5h0M432.5 193.5h0M323.2 260.9h0M363.4 217.5h0M392.7 188.9h0M429.5 195.3h0M448.7 178.8h0M470.5 159.6h0M451.5 140.1h0M433.1 153.4h0M411.2 173.2h0M423.7 198.2h0M337.3 246.4h0M392.1 226.8h0M400 219.8h0M324.7 277.5h0M366.1 245.7h0M436.9 191.1h0M427.8 158.2h0M322.6 279.3h0M365.4 216.5h0M306.1 288.1h0M476.3 153.6h0M341.8 266.1h0M499.6 111.6h0M320.5 266.5h0M324.5 259.3h0M347 261.2h0M505.3 115.7h0M433 153.4h0M358.9 253h0M505.9 115.3h0M379.2 201.1h0M448.1 179.6h0M443.3 145.9h0M419.7 202.6h0M326.9 259.5h0M405.7 177.5h0M352.7 231h0M356 253.1h0M328.4 256.9h0M347.3 258.3h0M322.9 262h0M372.2 241.7h0M476.6 122.2h0M359.9 222.7h0M360.5 221.4h0M340.9 264.1h0M347.4 261.8h0M445 144.7h0M438.3 149.6h0M462.8 130.3h0M340.8 264h0M398.8 183.4h0M411.4 212.2h0M474 123.8h0M387.5 193.2h0M487.6 116.2h0M337.7 245.8h0M373.9 240.4h0M462 166.6h0M484.5 144.6h0M466.8 162.4h0M466.4 163.8h0M409 173.6h0M303.3 288h0M374.1 207.6h0M485.1 144.9h0M505.9 120h0M355.7 226.1h0M344.8 262.4h0M492.9 135.8h0M422.4 160.8h0M408.6 173.3h0M377.6 205h0M315.8 269h0M298.2 294.6h0M373.6 206h0M365.6 216h0M484.9 115.6h0M322 267.8h0M337.6 248.1h0M341.7 242.6h0M306.6 280h0M357.1 226.3h0M307.2 286.1h0M327.1 259.3h0M470.6 126.9h0M405.6 178.1h0M377.9 238.8h0M376.2 237.3h0M330.3 272.1h0M324.6 274.4h0M377.2 237.7h0M352.9 257.7h0M455 174.8h0M484.6 117.7h0M406.3 178.4h0M426.7 158.6h0M402.4 216.6h0M502.1 120.9h0M387.7 229h0M431.6 193.3h0M387 229.3h0M448.1 141h0M436.3 151.4h0M482.1 147.7h0M363.1 218.6h0M412.9 172.6h0M495.7 130.4h0M472.1 125.7h0M297.4 294.2h0M426.3 198.4h0M411.3 174.1h0M425 162.1h0M372 241.2h0M426.1 161.1h0M314.9 273.7h0M394.3 223.3h0M378.5 235.8h0M506.7 115.1h0M422.9 162.8h0M482.7 147h0M418.5 205.6h0M391.2 227.4h0M408.2 176.2h0M422.1 201.3h0M427.2 157.6h0M499.8 111.8h0M436.7 191h0M423.1 162.7h0M352.9 254.7h0M495.3 133.8h0M476.2 153.2h0M313.9 274.5h0M327.7 275.3h0M322.7 266.3h0"/>
<path stroke="#00baff" d="M351.6 227.5h0M434 192.2h0M489.5 140.6h0M388.3 227.7h0M437.2 150.3h0M381.9 234.7h0M409.2 212.8h0M387.8 229h0M299.2 298.6h0M488 116.3h0M414.2 208.6h0M331.4 271.3h0M348.6 257.5h0M386.7 229.5h0M358.5 252.9h0M333.4 270h0M426.3 159.2h0M365.1 247.6h0M336.4 248.6h0M477.7 120.6h0M455.1 137h0M483.4 118.3h0M493.6 133.7h0M291 300.6h0M475 123.9h0M397.6 185.7h0M348.4 257.5h0M312 278.5h0M333.2 269.7h0M441.9 147.1h0M492.1 112.7h0M307.2 285.8h0M336.1 249.9h0M390 226.4h0M337.7 245.6h0M339.2 244.5h0M500.4 124h0M459 170.5h0M398.6 185.5h0M412.3 170h0M388 193.5h0M376.8 237.7h0M386 197.5h0M334.8 250.4h0M486.3 142.7h0M502.2 114.1h0M477.3 152.9h0M414.1 207.2h0M440 186.8h0M502.2 114.6h0M366.3 245.6h0M441.3 147.1h0M363.9 218h0M504.4 114.6h0M348.5 232.3h0M336.4 249.1h0M416 168h0M406.1 179.7h0M444.1 145.3h0M442.2 146.5h0M369.1 211.4h0M313.3 273.8h0M330.5 253.4h0M414.8 207.9h0M322.1 262.6h0M382.6 200.3h0M434.4 192.7h0M481.7 147.5h0M311.5 278.5h0M401.2 219.1h0M285.9 301.2h0M399.6 183h0M322.8 275h0M364.9 217.7h0M502.8 120.6h0M506.4 115.2h0M356.7 225.9h0M324.5 275h0M481.9 148h0M324.1 260.2h0M312.5 283.4h0M291.7 299.3h0M418.9 166.3h0M453.3 177.4h0M382.9 233.8h0M502.7 114.7h0M458.9 135h0M310 280.2h0M493.4 113.9h0M361.4 218.5h0M377.5 204.7h0M366.9 214.9h0M299.8 290.9h0M384.1 231.5h0M353.3 229.3h0M310.8 275.6h0M391.6 192.1h0M394.2 188.5h0M303.7 283.1h0M501.6 122.4h0M365.3 215.3h0M410.9 211.7h0M318.1 283.4h0M404.3 216.4h0M355.2 254.5h0M338 245.8h0M388.6 228.3h0M316.6 280.1h0M477.3 152.1h0M387 228.4h0M379.9 234.6h0M380 201.9h0M311.1 276.7h0M499.8 125.8h0M459.4 132.9h0M353.4 228.2h0M320.6 263.4h0M490.3 114.7h0M360.3 220.2h0M386.4 229.6h0M476.9 123.1h0M338.7 266.4h0M451.4 175.5h0M357.4 252.2h0M475.3 124h0M388.3 193.8h0M336.9 247.9h0M346.6 236.8h0M429.7 196.9h0M501.6 114.2h0M388.2 192.8h0M462.1 130.8h0M448.6 179.2h0M502.5 114.1h0M324.3 262.3h0M461 134h0M414.2 170.6h0M355.9 252.6h0M381.7 200.1h0M386.8 195.7h0M372.7 238.5h0M474.8 154.5h0M347.2 233.4h0M341.7 241.7h0M383.9 198.9h0M406.1 178.7h0M456.3 171.5h0M359.1 251.1h0M307.5 281.4h0M356.2 226.8h0M366.2 244.5h0M500.8 122.6h0M337.7 248.3h0M346 264.5h0M467.9 127.1h0M471.5 126.4h0M326 260.9h0M407.4 214.2h0M504.9 114.9h0M420.4 202.1h0M391.5 191.5h0M310.1 281.4h0M316.5 278.6h0M455.6 137.2h0M320.3 279.2h0M489.5 138.1h0M332.2 253.3h0M448.5 140.6h0M489.2 138.5h0M431 193.2h0M486 143h0M342.3 240.5h0M436.6 189.1h0M492.9 134.1h0M358.2 223.9h0M376.7 206.2h0M430.7 155.8h0M400.5 218.7h0M398.4 220.5h0M365.8 246.8h0M325.7 259.6h0M496.8 128.6h0M327 264h0"/>
<path stroke="#00c5ff" d="M377.2 205.8h0M399.1 184.2h0M490.9 137.3h0M490.2 116.2h0M371 242h0M372.3 239h0M413.3 170h0M458.9 134.1h0M488.9 116.3h0M459.8 169.9h0M504.3 118.4h0M384.1 198.3h0M330.4 270.2h0M351.3 257.5h0M486.7 141.7h0M476.8 151.6h0M436 189.2h0M375 238.5h0M435.7 190.3h0M370.5 240.5h0M324.7 260.5h0M428.7 157.8h0M493.4 114.6h0M392.5 226.4h0M420.1 164.1h0M429.4 158.1h0M361.4 248.1h0M352 255.2h0M454.4 137.4h0M502.8 117.9h0M415.1 207.5h0M503 116.6h0M361.8 223.2h0M336.4 267.5h0M476.1 153.1h0M338.8 247.9h0M432.9 153.2h0M456.3 137h0M316.9 276.7h0M325.9 265.6h0M491.5 114.7h0M413.3 208.1h0M365.6 217.1h0M362.2 222.3h0M389.8 192.1h0M405.5 215.9h0M501.3 122.3h0M317.6 275.8h0M433.2 154.5h0M374.6 238.1h0M421.9 199.7h0M345.6 238.1h0M417.6 204.9h0M342.9 264.3h0M375.3 237.9h0M451.2 175.4h0M483.4 118.4h0M421.6 201.1h0M391.6 225.6h0M318.7 273.4h0M370.4 240.4h0M372.8 239.3h0M481.9 146.8h0M401 181.8h0M399.2 182.1h0M338.7 266.2h0M370.8 239.8h0M481.5 147h0M502.3 120.2h0M314.3 273.7h0M319.9 276.3h0M391.4 191.9h0M404.5 215.3h0M411.9 174.3h0M420.5 201.1h0M430.6 193.9h0M364 218h0M450.2 139.3h0M449.9 179.1h0M368.4 243.2h0M464.3 165.8h0M400.3 181.6h0M326.2 265.6h0M370.1 242.8h0M366.1 246.6h0M406.1 213.1h0M403.3 215.7h0M378.6 235.6h0M425.5 197.2h0M396.6 185.5h0M438 188.8h0M429.8 194.4h0M374.7 206.4h0M390.4 227h0M391.7 225.2h0M324.2 274.9h0M370.3 212h0M502.2 114.3h0M492.2 115.3h0M346.1 259h0M402.1 218.7h0M484.3 118.3h0M481.6 148.5h0M409.8 213h0M350.4 257.8h0M379.3 234.2h0M495.4 131.1h0M461.1 167.8h0M371.7 209.3h0M395.5 187h0M434.7 191.3h0M341.9 241.1h0M402 182h0M347.9 235.4h0M345.6 261.4h0M405.1 212.8h0M441 147.3h0M426.7 160.5h0M499.8 125.8h0M416.3 206.8h0M439.7 186.6h0M486.2 143.2h0M481.7 118.9h0M373.8 207.3h0M477.5 121.1h0M428 195.8h0M346.3 259.6h0M444.7 183.4h0M475.1 152.9h0M311.8 279.4h0M420.5 165.7h0M306.5 280.3h0M360.1 223.3h0M441.3 146.8h0M388.5 227.6h0M364.9 218.2h0M472.9 155.4h0M376.9 237.6h0M393.3 223.8h0M494.6 132.3h0M482.5 147.5h0M502 118.7h0M503.5 115.2h0M397.8 185.5h0M316 279.5h0M338.9 245.5h0M365.7 219.3h0M410.1 210.6h0M360.2 223.2h0M322.7 275.5h0M336.4 268.8h0M448.4 178h0M394.9 222.5h0M354.4 252.7h0M424.2 198.6h0M466.8 127.7h0M456.3 136.7h0M371.6 239.1h0M364.1 250.8h0M314 284.6h0M495.6 112.6h0M412.4 208h0M427.9 198.6h0M405.4 180.4h0M402.2 181.1h0M299.4 291.9h0M362.2 224.6h0M310.8 274.3h0"/>
<path stroke="#00cfff" d="M412.7 207.4h0M470.4 127.6h0M381.2 233h0M390.6 226.1h0M484.4 118.1h0M475.3 153h0M394.3 187.9h0M349 255.8h0M347.2 236.6h0M446.8 179.6h0M412.7 173.2h0M430.5 193.4h0M425.4 161.6h0M426.2 160.9h0M335 250.3h0M362.4 247.7h0M328 263.3h0M413.5 171.9h0M322.9 274.5h0M317.1 269.9h0M486.1 141.8h0M328.1 262.2h0M501.4 110.8h0M484.7 143.5h0M327.8 270.4h0M424.9 160.9h0M336.7 267.8h0M483.1 119.3h0M354.2 228.8h0M490.8 137.4h0M420.1 166h0M464.9 131.2h0M416.6 167.9h0M346 237.7h0M376.1 237.1h0M337.2 264.9h0M500.7 125.5h0M463.7 165.1h0M370.5 240h0M421.4 164.3h0M379.5 234h0M384.3 230.3h0M334.4 269.5h0M397 188.4h0M346.7 237.5h0M358.4 252.4h0M330.2 271.2h0M356.2 227.2h0M333.7 264.5h0M362.6 221.5h0M360.1 225.3h0M353.6 253.6h0M382.5 231h0M312.1 280.5h0M339.6 244.9h0M365.6 220.1h0M485.2 118h0M485.3 143.3h0M390.7 192.3h0M497.6 112.2h0M473.1 158.1h0M494.7 112.9h0M367.4 214.5h0M420.7 201.4h0M405.4 212.8h0M466.2 129.6h0M304 281.3h0M416.9 206.8h0M407.2 211.4h0M468.1 128h0M328.9 255.7h0M439.3 188.3h0M346.2 236.9h0M444.6 181.8h0M380.4 234.4h0M360.4 247.6h0M379.1 201.9h0M465.3 164.6h0M389.2 226.3h0M492.5 114.9h0M501.2 121.7h0M433.3 154h0M328.3 267.2h0M496.6 129.3h0M400.9 216.9h0M437.6 189.4h0M396.8 187.5h0M454.5 175h0M460.1 170h0M315.5 277.1h0M367.8 212.8h0M498.2 128.8h0M484.5 143.6h0M366.5 244.8h0M462.3 165.6h0M374.2 209.4h0M494.3 133.2h0M404.6 213.4h0M465.6 130h0M446.4 143.8h0M473.9 123.7h0M411.1 209.6h0M370.1 241.9h0M428 196h0M413.2 172.7h0M453.5 138.5h0M394.2 188.8h0M392.8 224.3h0M347.6 237.5h0M408.1 211.8h0M319.3 269.2h0M372.1 238.9h0M450.4 177.9h0M346.1 259h0M363.2 223.1h0M377.2 234.9h0M503.3 117.4h0M350.9 232.2h0M484.6 143.2h0M393.5 189.4h0M404.6 215.3h0M390.4 193.4h0M464.5 165.4h0M349.9 233.1h0M486.9 141.7h0M478.3 120.6h0M323.3 266.8h0M384.3 199.3h0M419.4 204.5h0M491.1 136.8h0M343.5 240.5h0M486.5 116h0M364.5 247.1h0M342.9 259.2h0M493.2 114.2h0M467 128.8h0M361.4 248.1h0M487.9 139.1h0M436 190.4h0M380 204h0M444.1 182.5h0M499.3 126.6h0M460.3 133.8h0M380.2 233.5h0M414.9 170.6h0M340.6 262h0M470 160.5h0M480.6 120h0M411.9 209.1h0M451.4 140.1h0M454.6 137.4h0M438.3 150.2h0M423.2 163.4h0M364.9 245.7h0M435 191.3h0M403 183h0M334.6 251.4h0M366.7 215.4h0M318.3 269.3h0M471.6 159.5h0M363.3 246.9h0M326.9 274.9h0M404.5 181.3h0M457.2 171.3h0M397.8 187.2h0M437.5 150.4h0M400.6 183.5h0M391.5 191.6h0M364.5 244.7h0M445.2 144h0M352.9 253.9h0"/>
<path stroke="#00daff" d="M406 179.5h0M398 187h0M335.3 264.5h0M400.1 219.2h0M414.1 170.3h0M416.9 168h0M316 277.9h0M468.5 161.9h0M356.4 227.6h0M464.4 164.6h0M484.1 143.5h0M356.9 226h0M351.4 254.1h0M349.8 234.2h0M330.2 267.3h0M342.8 241.2h0M476.3 152.5h0M365.1 220.9h0M385 197.9h0M479.3 150.1h0M359.9 226.5h0M348.3 254.7h0M343.1 259.9h0M352 231.3h0M442.7 184.7h0M380.1 234.7h0M434.5 191.3h0M385.6 197h0M454.4 175.1h0M397.2 188h0M374.2 209.9h0M367.7 242.7h0M386.2 198.5h0M410.4 174.3h0M348.4 236.9h0M374.3 238.4h0M386.9 230.4h0M401.5 183.6h0M342.7 261.2h0M444.8 181.4h0M440.7 147.5h0M321.9 269h0M478.6 120.8h0M501.9 115.2h0M443.7 182.4h0M350 255.3h0M327.3 269.2h0M345.5 242.5h0M351.4 236.3h0M320.8 271.3h0M405.4 182h0M319.5 268.9h0M331.9 268.3h0M499.2 113.1h0M361.5 246.1h0M413.2 172.3h0M323.1 269.1h0M500 111.3h0M492.5 115.3h0M410.5 174.5h0M501.3 117.6h0M487.6 115.9h0M478.2 151.2h0M461.8 133h0M497.7 127.2h0M367.2 214.9h0M443.1 146h0M412.6 208.2h0M352.6 233.8h0M358.6 225.9h0M500.1 116.8h0M316.3 274.4h0M410.7 210.9h0M405.7 212.7h0M424.5 162.7h0M422 199.9h0M374.5 210.4h0M327.9 267.3h0M482.8 146.5h0M442.9 145.8h0M429.9 157.8h0M456.9 170.7h0M416.1 169.1h0M499.8 114.9h0M338.8 248.4h0M416.6 171h0M477 152.9h0M438.3 149.8h0M335.5 250h0M498.7 110.6h0M311.7 284h0M352.1 232.4h0M340 261.1h0M324.5 274.1h0M450.9 177.5h0M338.7 248h0M404.1 182.8h0M498.8 127.3h0M384.9 200.3h0M437.2 186.6h0M483.7 119.1h0M352.8 227.7h0M447.7 141.1h0M401.2 182.8h0M479.7 150.4h0M460.5 133.7h0M440.7 186.3h0M398.3 186.8h0M439.9 147.3h0M455.8 172.9h0M428.2 196.9h0M398.3 219.2h0M497.1 129.5h0M443.4 182.3h0M449.5 177h0M463.7 164.7h0M477.6 151.4h0M489.1 115.9h0M431 157.4h0M462.4 131.3h0M332.5 253.1h0M315.6 281.7h0M444.9 180.7h0M492.5 136.5h0M343.1 258.5h0M340.7 260h0M468 128.3h0M414 172.1h0M434.6 154h0M338 263.4h0M328.2 258.3h0M398.8 185.9h0M402.4 182.9h0M374.5 208.7h0M358.4 250.2h0M365 218.6h0M356.5 228.6h0M394.8 222.8h0M331.7 263.2h0M389.4 225.8h0M403.7 215.7h0M485.1 142.6h0M374.6 206.8h0M384.5 200h0M443.3 181.8h0M328.8 266.5h0M325.6 267.9h0M315.5 273.2h0M330 264.3h0M426.9 158.6h0M351.8 235.4h0M447.7 178.8h0M359.1 226.7h0M355.9 230h0M353.8 231.6h0M466.2 130.8h0M391.6 224h0M360.1 247.5h0M361.4 225.7h0M487.3 139.8h0M373.2 210.2h0M406.7 180.5h0M434 153.8h0M350.9 236.1h0M477.7 121h0M407 177.3h0"/>
<path stroke="#00e4f8" d="M484 145.5h0M473.1 156.5h0M338.2 249.3h0M411.2 209.8h0M434.3 153.6h0M373.5 237.3h0M490.8 135.6h0M359.6 227.7h0M404.1 215.5h0M377.5 204.2h0M497.2 125.7h0M479.7 120.8h0M394.6 223.9h0M502.5 121.7h0M494.5 128.1h0M392.9 190.8h0M386.3 199h0M398.7 185.9h0M445.3 146h0M326.5 264.2h0M417.2 170.1h0M327.7 268.1h0M372.9 238.4h0M415.1 206.8h0M324 269.1h0M430.2 158.8h0M382.8 230.2h0M489.5 115.8h0M391.9 191.3h0M357.4 248.9h0M333.9 264h0M348.6 237.4h0M352.2 234.1h0M321.9 268.5h0M460.6 134.5h0M486.7 139.5h0M493.6 133.7h0M366.1 216.4h0M493.8 133.2h0M335.3 261.5h0M371.4 212h0M497.3 125h0M435.6 151.5h0M403.5 182.4h0M347.6 239.2h0M399 185.2h0M365.9 219.9h0M338.6 260.9h0M463.6 164.5h0M346.7 255.2h0M438.4 150.2h0M455.9 171.6h0M488.8 115.5h0M450.9 139.9h0M488 116.1h0M348.1 236.4h0M329.8 259.4h0M471.6 124.4h0M331.3 260.6h0M338.5 253.1h0M502.5 119.2h0M446 144.8h0M335.1 260.3h0M407.8 174.8h0M470.1 158.1h0M406.7 178.6h0M433.8 152.8h0M404.6 181.9h0M362.3 223.6h0M382.8 231h0M395.7 221h0M373.8 238.6h0M489.3 138.6h0M390.8 195.1h0M464.5 131.3h0M472.8 156.8h0M476.5 151.6h0M360.9 226.2h0M485 142.2h0M356.6 229.7h0M426.2 197.9h0M397.9 187.7h0M454.9 173.7h0M472.3 156.3h0M370.2 241.5h0M312.6 279.7h0M332.6 256.4h0M438 187h0M401.2 184.7h0M401.1 185.3h0M418.4 203.9h0M456.5 136.8h0M340.6 242.7h0M323.8 273.8h0M388.2 195.7h0M344.1 247.3h0M387.6 227.8h0M462.2 134h0M326.7 260.4h0M356.9 249.5h0M500.3 121h0M409.4 211.6h0M464.7 163.7h0M419.6 165.5h0M463.6 132.5h0M314 276h0M351.4 236.8h0M387.7 195.6h0M440.3 148.6h0M344 246.2h0M370.2 237.8h0M489.2 117.1h0M343.7 258h0M426.1 196.9h0M435.2 154.2h0M364.1 247h0M328.7 259.4h0M334.1 260.1h0M341.4 258.4h0M479.8 149.6h0M398.2 221h0M495.9 132.2h0M413.1 207.2h0M334.6 257.1h0M390.9 225.3h0M476.9 121.8h0M476.7 123.2h0M466.7 161.6h0M484.3 117.9h0M389.1 194.4h0M494.4 115.1h0M428.7 194h0M446.5 144.6h0M351.1 256.4h0M358.5 229.2h0M458.1 134.9h0M412.7 172.3h0M414.4 172h0M392 194.7h0M448.6 142.4h0M358.1 249.3h0M379.4 205.8h0M419.7 202.9h0"/>
<path stroke="#08efef" d="M403.8 214.3h0M491.9 134.1h0M417.5 170.6h0M417.2 204.7h0M449.1 143.5h0M474 124.6h0M353.5 233.2h0M446.5 180.7h0M374.8 210.7h0M362.9 244.8h0M495 127.4h0M489.3 138.6h0M458.1 170.5h0M365.9 219.6h0M491.7 116.4h0M485.3 142.2h0M497.4 125.2h0M417.2 203.1h0M328.5 262.3h0M382.9 229.3h0M387.1 228.4h0M406 211.6h0M455 138h0M403 213.8h0M401.8 184.2h0M452.5 174.8h0M484.5 145.1h0M444.5 181.5h0M405.2 211.9h0M450.5 142.8h0M375 209.9h0M384.8 200.6h0M337.1 257.9h0M429.2 193.8h0M352.5 232.6h0M439.7 186.2h0M339.2 247.5h0M437.6 150.4h0M418 170.2h0M328.1 266.7h0M435.8 189.1h0M356.6 229.8h0M497.1 125.5h0M463.2 166h0M383 228h0M382.9 228.6h0M471.6 156.8h0M373.2 236.1h0M346.5 241h0M460.7 134h0M477.1 121.7h0M422.1 199.4h0M354.1 253.5h0M477.9 150.1h0M338.3 259.5h0M358.1 247.7h0M416.6 171.5h0M459.3 170.7h0M480.9 119.7h0M431.2 155.9h0M319.6 268.8h0M385.7 200.5h0M336.5 252.3h0M383.6 228.4h0M491.8 115.7h0M408.3 212.1h0M457.2 136.1h0M483.7 142.5h0M411.3 209.3h0M401.3 216.3h0M417.9 170.1h0M346.4 255.8h0M480.6 149.2h0M397.5 221.6h0M445.5 181h0M442.2 185.3h0M401.7 184.7h0M459.4 168.3h0M392 193.4h0M428.2 159.5h0M470.9 157.1h0M446 142.8h0M414 173.7h0M408.4 175.3h0M367.4 242.7h0M467.7 127.9h0M385.2 227.4h0M490 115.6h0M454.5 138.3h0M421.8 165.9h0M500.6 123.2h0M331.6 255.7h0M437.5 186.3h0M367 217.9h0M405.4 212.4h0M415.3 204.7h0M447.9 178.3h0M443.3 183.7h0M382.4 201.1h0M361.6 245.9h0M419.5 203.9h0M411.1 208.9h0M337.3 258h0M477.1 151.6h0M406.2 211.8h0M371.5 238h0M480.6 146.6h0M453.4 138h0M362.3 224.2h0M340.4 247.4h0M354.5 229.3h0M407.8 177.5h0M488.4 117h0M402.9 213.5h0M345.3 255.5h0M458.4 169.5h0M456.9 170.3h0M368.6 242.9h0M415.3 205.5h0M500.9 120.6h0M337.8 252.7h0M456.6 172.1h0M355.7 249.6h0M483.7 118.3h0M441.4 183.1h0M497.3 125.2h0M478.7 122.1h0M440.9 148h0M482.4 144.8h0M399.1 184.2h0M433.4 156h0M425.4 197.5h0M396.4 188.7h0M482.7 145.9h0M466 162.7h0M367 240.7h0M413.5 174.3h0M335.4 254.8h0M459 133.7h0M360.3 244h0M345.8 243.4h0M488.1 138.3h0M346 241h0M475.9 151.5h0M465.2 162.9h0M351.9 234.3h0M446.3 145.1h0M494 115.6h0M499.2 125.4h0M388.1 196.8h0M357 248.4h0"/>
<path stroke="#10fae6" d="M412.1 176.1h0M485.9 139.6h0M345 256.5h0M383 228.1h0M488.8 117.4h0M405.6 211.5h0M410.1 209.6h0M334.9 261.1h0M425.5 162.1h0M413.2 173.7h0M374.5 210.5h0M378.1 206.7h0M482.9 118.5h0M469.6 160.3h0M447.7 179.3h0M456.1 170.7h0M455.4 172.6h0M452 139.2h0M392.8 223h0M331 256.2h0M345.3 256.8h0M418.6 202.2h0M349 252.1h0M438 149.9h0M382.8 199.9h0M495 128h0M424.2 197.7h0M491.6 116.6h0M345.2 242.1h0M494.5 131.1h0M361.3 226.9h0M436 152.5h0M348.3 252.5h0M481.3 146.1h0M497.9 116.1h0M457.7 169.4h0M466.6 129.8h0M474.2 123.6h0M436.6 187.7h0M486.2 117.1h0M470 126.9h0M364.8 222.2h0M419.9 201.1h0M357.7 229.1h0M382.2 203h0M501.6 117.3h0M408 179.1h0M467.6 161.1h0M392.7 192.2h0M486.1 140.8h0M401.1 216.9h0M494 129.2h0M400 216.3h0M398.4 218.2h0M409.1 179.4h0M426 196.4h0M404.6 182h0M449.8 142.4h0M350.4 236.5h0M491.9 132.6h0M428.8 160.4h0M466 129.9h0M441.4 183.3h0M489 118.1h0M392.8 193.2h0M455.3 137.4h0M420.6 167h0M411.1 176.2h0M493.7 116.8h0M433.4 156.1h0M407.1 211.2h0M356 248.9h0M490.2 116.8h0M361.2 225.1h0M455.9 136.2h0M364.7 221.9h0M398.8 185.8h0M392.2 193.9h0M314 278.3h0M407.1 211.3h0M372.6 239.3h0M360.4 243.9h0M396.6 222.1h0M380.2 233.1h0M389.2 226.5h0M381.7 230.8h0M486.4 117.2h0M459.8 136h0M384.2 201.4h0M341.5 248.2h0M436.1 188.9h0M416 204.1h0M412.7 209.2h0M340.8 252.1h0M346.7 241.7h0M414.9 205.5h0M459.6 167.8h0M454.3 172h0M443.6 182.1h0M445.6 145.9h0M498.5 119.7h0M346 255.2h0M397.2 219.5h0M362.2 225.1h0M468.6 128.4h0M397.4 187.6h0M410.5 175.6h0M391 224.2h0M494 116h0M485.8 140.1h0M481 119.9h0M349.1 239.4h0M414.8 172h0M471.1 128h0M404.7 213.7h0M360.8 244.3h0M420.4 167.8h0M437 186.6h0M490.7 135.9h0M373 236.8h0M372.2 211.7h0M354.7 234.1h0M474.1 153.3h0M440.3 183.4h0M440.1 149.6h0M433 191.8h0M464.5 131.6h0M348.1 241.3h0M410.6 209.5h0M424.7 198.1h0M436.9 186.6h0M386.2 228.8h0M386.9 199.7h0"/>
<path stroke="#19ffde" d="M409.5 177.7h0M400 218.5h0M434.7 190.4h0M480.8 118.4h0M408.1 209.3h0M466.8 130.9h0M434.3 188.6h0M387.6 198.1h0M417 201.8h0M434.7 154.7h0M440.4 150.2h0M343.7 255.8h0M361.9 224.4h0M401.3 214.8h0M400.6 218.7h0M419.9 200.7h0M368.5 239.5h0M449.3 178.3h0M494.6 112.9h0M487.9 138.2h0M425.7 197.6h0M414.4 170.9h0M358.2 247.5h0M447.8 177.3h0M495.6 126.7h0M455.9 171.8h0M341.4 258.4h0M374.7 211.6h0M355.2 250.7h0M370.7 237.6h0M399.8 184.5h0M495.5 112.9h0M346.9 250.7h0M343.9 251.2h0M492.7 131.9h0M441.2 147.9h0M386 200.6h0M461.5 165.2h0M392.5 222.1h0M477.3 151.3h0M482.8 144.8h0M464.5 132.6h0M374.8 210.3h0M414 205.3h0M452.1 139.8h0M366.7 243.2h0M467.6 160.8h0M405.7 211.3h0M421.8 201.1h0M344.6 254.7h0M405.3 212.1h0M465.7 162.7h0M396.5 219h0M357.8 247.6h0M424.4 162.3h0M365.5 240.1h0M494.1 130.2h0M389.4 197.5h0M448.6 176.3h0M380.4 232.7h0M325.5 266.8h0M460.6 134.3h0M385.2 201h0M436.8 186.9h0M381.2 230.1h0M414.2 173.5h0M348 237.6h0M467 161.1h0M477.7 123.6h0M453.7 172.4h0M400.9 185.5h0M355.5 231.2h0M337.9 252.6h0M497.7 117.1h0M378.2 206.4h0M377.4 235.9h0M358.8 227.7h0M370.7 213.4h0M409.8 177.9h0M379 207h0M402.3 183.9h0M414.3 173.6h0M385.6 200h0M486.6 139.6h0M438.9 186.7h0M359.3 244.2h0M397.1 218.1h0M391.7 222.6h0M368.4 216.5h0M373.1 237.6h0M500 121.4h0M384.8 201.5h0M468.7 160.3h0M496.4 126.6h0M466.9 130.7h0M352.9 249.2h0M405.8 212.1h0M464.4 163.3h0M498.3 120.8h0M472.2 156h0M397.9 218.4h0M365.7 219.8h0M476.1 151.9h0M359.1 228.9h0M425.4 160.9h0M458.5 137h0M408.9 207.5h0M380.5 230.9h0M429.9 158.1h0M443.5 182.1h0M396.8 189.2h0M395.9 189.4h0M397.9 217.4h0M359.9 242.1h0M354.5 230.2h0M403.1 184.1h0M339 256.1h0M354.2 238h0M406.4 179.3h0M392.3 194.1h0M363.3 222.3h0M399.3 217.8h0M484.7 141.2h0M399.7 218h0M477.9 122.5h0M400 215.1h0M466.3 131.8h0M423 198.5h0M370.7 212.9h0M476.4 150.7h0M452.3 174.8h0M405.9 181.7h0M461.2 166h0M359.8 243.4h0M455.8 171.5h0M388.7 224.9h0M379.6 231.2h0M425.2 198h0M368.2 238.4h0M356.9 245.9h0M432.4 189.5h0M359.8 242.1h0M482.3 119.9h0M357.8 246.5h0M384.8 202h0M481.6 120.6h0M389.8 195.2h0M389.5 225h0M476.8 150.9h0M422.7 162.7h0"/>
<path stroke="#21ffd5" d="M437.6 185.9h0M447.8 177.8h0M472.2 125.5h0M425.9 196.4h0M426.3 162h0M419.3 168.5h0M349.5 237.2h0M374.2 234.9h0M350.5 251h0M424.8 198.1h0M364.7 242.4h0M415.3 171.7h0M479.6 122.5h0M362.9 225.6h0M481.9 121.4h0M479.7 121.6h0M423 198h0M377.9 207.4h0M384.1 203.4h0M475.7 124.1h0M467.1 162.1h0M406.2 180.5h0M382.4 228.8h0M343.3 248.4h0M431.1 159.1h0M403.9 182.8h0M366.1 219.8h0M377.5 232.2h0M487.9 138.9h0M423.8 164.6h0M356.9 233.2h0M427.3 195.1h0M471 128.1h0M374.9 207.7h0M394.6 219.5h0M416.7 203.8h0M440.6 183.5h0M415.9 204.7h0M446.8 144.8h0M495.6 127.1h0M410.2 206.4h0M480.9 146.5h0M358.1 242.9h0M497 125.7h0M472.7 157h0M431.5 157.7h0M376.6 208.3h0M387.5 224.8h0M467.2 160.5h0M432.6 189.3h0M423.5 197.1h0M446.6 145.1h0M461.9 133.8h0M397.3 189h0M351.1 239.7h0M414.9 204.5h0M385.4 201.1h0M476.4 125.7h0M461.7 134.3h0M364.3 240.4h0M347.5 251.2h0M359.5 241.8h0M456.6 137.3h0M382.6 228.8h0M495.3 128.7h0M431 190.7h0M399.2 217.1h0M409.6 206.9h0M465.3 131.1h0M365.2 224.2h0M355.8 235.8h0M351.3 238.5h0M439.8 184.8h0M494.5 128.9h0M406.9 180.3h0M456.1 137.4h0M392.4 223.2h0M485 141.6h0M412.4 206.8h0M466.3 161.6h0M403.6 183h0M458.4 170.2h0M493.3 129.6h0M410.7 205.4h0M400.4 186.7h0M365.4 244.9h0M371 237.8h0M486.9 117.3h0M416.4 203.7h0M420.8 167.8h0M488.5 139.2h0M393.7 220h0M456.1 170.7h0M435 155.7h0M384.3 226.1h0M419.8 167.1h0M424.5 164.3h0M409.3 177.9h0M415.6 171.5h0M395.9 189.7h0M368.3 219.3h0M452 174.3h0M379.6 229.8h0M367.4 238.3h0M444.5 145.9h0M382.6 226.2h0M426.2 196.6h0M426.8 160.9h0M434.9 155.1h0M353.1 238h0M491.6 134.8h0M446.3 179.1h0M482.8 144.6h0M433.6 155.6h0M485.2 119.4h0M354.2 250.7h0M365.8 238.1h0M406.3 211.5h0M418.4 169.9h0M415.6 172.1h0M411 205.2h0M453.1 139.2h0M482 121.7h0M430.8 190.9h0M406.5 182.5h0M430.8 194h0M374.7 209.9h0M426.1 161.7h0M452.3 174.6h0M407.1 210.5h0M474.1 126.4h0M356.8 236.7h0M469.1 127.8h0M450.9 176.1h0M491.6 133.8h0M490 134.7h0M475.5 151.1h0M458.2 168.7h0M376.2 210.5h0"/>
<path stroke="#2affcd" d="M341.8 255.1h0M399 187.1h0M362.2 240.2h0M342 258.3h0M436.7 187.2h0M429.7 159.9h0M359.4 242.8h0M498 121.2h0M455.5 170.3h0M426.9 161.8h0M380.7 202.6h0M423.1 164.8h0M343.3 247.9h0M373.8 235.1h0M493.3 116.2h0M486 138.8h0M346.4 241.9h0M463.5 133.5h0M431.1 192.3h0M419.4 167.1h0M442.1 181.4h0M427.4 160.7h0M397.4 188h0M423.6 165h0M398.9 187.9h0M390.7 225.6h0M371 213.7h0M353.9 249.2h0M486.8 138h0M453.7 173.7h0M407.9 210.8h0M460.5 134h0M436.5 154.5h0M495 116.6h0M365.4 221.4h0M395.4 188.9h0M494.1 127.3h0M386.4 200.1h0M416.2 203h0M464.8 162.9h0M424.8 164.5h0M373 215.1h0M394 219.1h0M356.2 245.2h0M440 184.5h0M394.8 190.4h0M495.2 116.8h0M424.4 163.7h0M484.1 119.7h0M393 221.3h0M390.8 196h0M376.2 210.4h0M469.4 160.1h0M494.9 116h0M354.4 239.8h0M485 142h0M432.7 156.6h0M376.2 231.7h0M480.1 147.5h0M425.6 162.2h0M455.4 139h0M378.4 208h0M427 161.6h0M356.3 243.2h0M458 137.3h0M477.1 125.3h0M408.7 179.8h0M459.9 135.8h0M365.4 241.5h0M487.2 119.5h0M412.8 175.6h0M344.5 252.6h0M468.2 159.6h0M425.3 197.3h0M417.7 201.4h0M345.4 247.3h0M430.2 190.5h0M449.5 142.3h0M351.7 239h0M443.5 146.8h0M416.9 171.4h0M473.3 125.6h0M390 223.7h0M401.7 214h0M391.9 223.2h0M345.7 244.2h0M492.6 132.7h0M441.1 182.7h0M463.4 164h0M395.3 218.3h0M421.8 197.8h0M461.8 133.6h0M451 140.4h0M401.3 213.6h0M488 138h0M440.6 183h0M441.4 182.7h0M348.1 245.6h0M421.6 198.1h0M475.7 125.3h0M455.5 140h0M433.3 157.2h0M415.7 202.4h0M469.6 128h0M455.4 139.3h0M482.1 121.7h0M456.7 138.6h0M378.4 230.9h0M408.9 178.7h0M448.3 143.7h0M463.2 132.6h0M371.7 236.1h0M455 171.4h0M372.6 217h0M427.4 161.3h0M361.7 225.7h0M376.2 208.1h0M424.5 196.3h0M486.6 139h0M396.8 218.8h0M357 231.3h0M428.2 194.5h0M369.2 218.8h0M343 250.2h0M381.9 229h0M390.4 222.9h0M483.2 121.2h0M412.8 206.4h0M378.2 232.2h0M499.1 123.6h0M434.7 156h0M462.6 134.7h0M432.5 190.1h0M423 165.3h0M429.7 159.5h0M447.1 179.6h0M456.7 138h0"/>
<path stroke="#33ffc4" d="M382.4 203.9h0M443.9 180.9h0M452.8 173.4h0M472.5 126.7h0M383.3 204.5h0M368.6 237.2h0M358.7 241.3h0M447.8 176.2h0M487.2 118.7h0M424 164.9h0M379.1 204.6h0M412.9 175.3h0M436.8 151.4h0M381.3 227.8h0M405.9 210.5h0M349.9 242.2h0M474.7 152h0M412.5 176.1h0M456.6 168.6h0M407.5 211.5h0M479.4 149.1h0M390 223.5h0M497.6 121.8h0M470.9 157.9h0M355.5 234.9h0M435.9 187.8h0M465.3 131.2h0M426.2 195.3h0M371.6 233.8h0M356.8 234.4h0M460.7 167.4h0M393.9 219.7h0M446.3 145.7h0M472.4 127.5h0M445.4 179.2h0M350.7 241.2h0M430.3 190.4h0M445.4 146.3h0M430.8 159.2h0M344.7 244.1h0M350.1 248.5h0M440.6 149.8h0M447.6 177.2h0M427.9 160.9h0M459.3 167.1h0M432.9 157.3h0M405.7 182.1h0M365.6 219.8h0M392.5 221.4h0M372.6 234.3h0M495.9 126.4h0M380.6 206.3h0M443.5 181h0M408.5 207h0M487.4 138.4h0M437.5 154.3h0M396.8 218.3h0M413.5 173.6h0M413.5 205.8h0M477 125.1h0M487.4 118.1h0M464.5 163.1h0M382.8 204.7h0M423.3 196.6h0M383.1 203.9h0M488.3 117.8h0M433.2 189.6h0M479.2 148.9h0M392.1 219.8h0M380.7 206.8h0M413.2 203.8h0M413.8 174.6h0M475 125.8h0M469.6 157.3h0M404 211.3h0M362.5 239.2h0M374.4 211.9h0M358.7 240.1h0M373 235h0M419.3 201.3h0M480 147.4h0M351.6 240.7h0M409.8 176h0M477.5 124h0M464.8 132h0M359.3 238.6h0M496.4 126.8h0M360.5 240.6h0M441.5 182.7h0M427.9 162.2h0M461.9 135.1h0M415.9 201.6h0M460.6 135.3h0M451.2 174.3h0M467.9 130.4h0M374 231.7h0M469.4 127.5h0M468.4 131.1h0M475.4 126.1h0M361.9 227.2h0M426 195.4h0M432.3 189.2h0M415.6 203h0M384.7 201.9h0M478.4 124.9h0M420.4 167.4h0M439.8 186h0M474.8 126.2h0M366.3 238.5h0M432.8 157.2h0M493.3 131.6h0M406.2 210.9h0M410 178.1h0M408.5 209h0M436.5 188.6h0"/>
<path stroke="#3bffbc" d="M407.5 180.3h0M403.8 183.4h0M355.5 244.7h0M425.4 195.5h0M434.3 156.5h0M445.5 145.4h0M465.7 162.8h0M367.4 224.6h0M452.5 141.3h0M421.6 167.8h0M498.3 116.5h0M359 233.6h0M423.3 164.6h0M387.4 198.9h0M451.3 174.6h0M429.1 159.2h0M410.2 205.7h0M347.9 241.1h0M345.8 249.2h0M361 237.8h0M370.2 233.3h0M399.3 217.2h0M409.3 178.5h0M405 182.4h0M443.2 180.2h0M389.1 196.3h0M420.4 168.4h0M491.2 116.6h0M428.5 160.7h0M403.1 213.1h0M412.9 205.4h0M399.8 186.6h0M365.2 220.3h0M423.4 196h0M456.5 169.8h0M436.7 155h0M441.5 180.9h0M482.6 144.9h0M368.3 218.8h0M429.8 191.1h0M428.9 191.7h0M413.9 173.4h0M347.6 246.6h0M491.2 118.2h0M481.3 145.8h0M403.3 183.4h0M460.2 166.4h0M414.6 203.6h0M470.6 128.2h0M358.4 233.8h0M393.7 191.7h0M495.7 118.9h0M476.9 150.3h0M491 117.4h0M494.2 128.9h0M467.3 130.4h0M368.3 222.6h0M385.1 204.4h0M430.2 190.2h0M370.7 233.5h0M407.7 180.4h0M419.8 200.5h0M494.5 117.2h0M351.3 240.4h0M375.2 230.3h0M464.5 161.8h0M361 229.7h0M381.2 226h0M407 211.2h0M449.4 175.9h0M389.1 199.2h0M485.1 139.5h0M442.2 148.1h0M372.6 232h0M393.7 192.8h0M451.9 141.6h0M411.2 206.1h0M375.7 230.9h0M472.2 156.5h0M462.2 164.8h0M389.1 196.9h0M473.7 155h0M451.1 142.4h0M441.7 148.5h0M466.4 132h0M410.8 176.9h0M428.1 162.3h0M418.3 200.6h0M493.1 132.6h0M471.8 156.3h0M368.9 223h0M420.1 169h0M491.2 117.6h0M392 219.3h0M423.1 196.9h0M428.7 159.8h0M435.3 185.9h0M373 216.4h0M390.3 223.9h0M463.3 164.5h0M411 176.4h0M483.2 142.9h0M402.9 212.9h0M410.1 177.4h0M382.5 226.5h0M447.1 177.4h0M474 126.6h0M360.1 227.9h0M391.7 219.3h0M438 152.6h0"/>
<path stroke="#44ffb3" d="M394.2 190.2h0M430 190.7h0M422.6 196.4h0M470.6 128.2h0M433.4 156.6h0M483.7 121.4h0M484 120.5h0M376.2 209.2h0M415.3 201.9h0M379.5 228.5h0M387.4 201.2h0M375.3 214.9h0M426.9 162.6h0M374.8 217.2h0M450.9 173.7h0M378.6 233h0M355.6 250.2h0M375.6 211.7h0M474.2 154.1h0M428.7 194.6h0M361.3 238.8h0M386.5 201.1h0M442.1 148.8h0M486.3 119.5h0M466.7 131.6h0M494.4 119.7h0M375.8 211.7h0M456.4 139.3h0M347.6 248.9h0M462.3 164.9h0M393.8 218.6h0M370.6 232.8h0M406.6 208.9h0M496.6 126h0M408.9 207.2h0M435.3 155.8h0M455 171.9h0M400.6 213.8h0M412.9 175.3h0M469.7 157.4h0M465.5 160.7h0M416.8 170.7h0M480.7 120.9h0M392.8 193.6h0M424.6 194.6h0M406.3 209.8h0M417.9 200.8h0M478.5 146.3h0M496.8 123.3h0M367.6 224.6h0M479.3 146.7h0M478.8 146.3h0M470.7 129.2h0M445.9 179.3h0M409.3 178.9h0M385.4 226.3h0M456.6 170.4h0M480.7 123.8h0M364.9 237.5h0M481.1 144.7h0M468.3 157.8h0M484.6 140.6h0M450.4 142.4h0M482.7 142.5h0M450.8 175.8h0M447.7 145.6h0M362.8 236.4h0M425.7 194.2h0M357.8 235.4h0M430.3 190h0M371 233.7h0M397.8 187.7h0M474.5 152.4h0M464.6 160.7h0M437.9 186.1h0M408.3 206.8h0M483.3 120.8h0M374.7 214.1h0M440.7 184.3h0M490.1 136.3h0M415.5 202.5h0M376 214.4h0M368.8 232.2h0M382.6 204.4h0M385.9 200.6h0M447.7 175.9h0M368.5 221.3h0M389 198.7h0M468.6 157.2h0M471.3 156.7h0M409 180h0M425.2 164.2h0M498.9 123.2h0M379.1 210.7h0M488.6 117.4h0M452.2 140.4h0M422.4 166.6h0M380.2 227.5h0M492.5 131.5h0M481.4 143.9h0M441.2 181.9h0M476 151.1h0M376.8 213.7h0M491.2 132.3h0M402.7 184.7h0M403.5 185.5h0M424 196.2h0M484.1 140.8h0M434.4 155.5h0M385.9 203.3h0M436.9 155.3h0M369.8 222.4h0M421.3 168.3h0M445.1 146.8h0"/>
<path stroke="#4cffab" d="M458.2 167h0M414.8 202.3h0M367.6 232.6h0M437.5 153.8h0M425.1 196.5h0M441.1 182.7h0M390.5 197.1h0M354 240.6h0M418 201.4h0M451.4 141.8h0M446.8 147.1h0M433.7 157.6h0M436.2 154.4h0M422.1 198.1h0M383 204.8h0M378.8 208.5h0M478.2 125.2h0M401.6 214.4h0M446.3 147.6h0M456.8 138h0M374.5 217.1h0M474.2 152.9h0M454.1 140.4h0M390.1 196.8h0M426.1 164.2h0M403.6 211.2h0M407.7 181.1h0M484.1 142.7h0M353.5 240.5h0M391.7 198.7h0M409.2 206.4h0M480.1 145.3h0M371.7 222.3h0M405.6 182.6h0M464.5 160.8h0M460.2 166.2h0M437.6 152.8h0M363.1 228.3h0M412.9 206.4h0M417.7 201.3h0M365.5 226.2h0M485.5 119.5h0M385.6 205h0M451.5 141.9h0M470.5 128.6h0M437.3 152.3h0M390.5 199.9h0M435.1 157.1h0M399.6 188.6h0M362.2 231.2h0M401.7 212.2h0M464.4 133.2h0M478.3 147.5h0M363 239.5h0M458.1 168h0M438 185.8h0M391.7 196h0M481.3 121.2h0M422.9 197.1h0M457.9 137h0M484.2 141.4h0M391.4 195.4h0M367.7 237.2h0M422.1 196.5h0M478.5 125h0M397.2 217.5h0M484.8 121.8h0M477.1 125.9h0M476.5 125.6h0M470.3 128.9h0M427.7 191.9h0M397.4 189.2h0M493.2 130.2h0M366.9 230.8h0M482.3 121.1h0M491.9 118.1h0M426.6 193.4h0M388.6 224.9h0M395.4 215.2h0M439.1 185h0M446.5 178.5h0M355.8 238.1h0M383.9 206.5h0M355.4 243.3h0M461.3 164.4h0M416 171.4h0M349.9 252.3h0"/>
<path stroke="#55ffa2" d="M489.9 119.2h0M360.1 231.8h0M482.9 121.8h0M378.7 228.5h0M390.3 221.3h0M477.3 149.3h0M442.5 148.8h0M466 159.8h0M476.6 125.5h0M404.7 209.8h0M482 143.7h0M445.7 178.9h0M457.6 168.4h0M402.1 213h0M428.4 161h0M435.6 157.5h0M379.2 206.6h0M424.6 195.1h0M423 165.5h0M490.4 134.7h0M378.3 210.9h0M376.6 212.5h0M378.6 212.5h0M406.1 182h0M429.9 190.7h0M402.3 185.2h0M482.1 141.5h0M367.8 230.5h0M372.4 221.8h0M478.7 124.6h0M449.9 143.3h0M368.5 222.5h0M400.3 214h0M467.6 131.5h0M361.8 230.8h0M398.2 188.2h0M408.5 208.2h0M453.4 171.6h0M357.2 238.3h0M415.1 173.2h0M434 157.6h0M413.3 173.6h0M439.3 150.5h0M364.5 225.4h0M394.9 193.5h0M429.9 189.9h0M483.1 140.9h0M427.4 192h0M449.5 143.6h0M422.8 167.5h0M369.3 216.4h0M391.9 193.3h0M359.8 231.9h0M423.8 166h0M428.6 161h0M450.8 174.6h0M388.1 224.8h0M452.8 141.8h0M492.8 128.9h0M441.3 149.7h0M465.8 159.9h0M417.5 170.9h0M409.6 178.7h0M398.9 215.2h0M409.5 179.6h0M390.1 199.2h0M490.9 132.5h0M426.1 165.2h0M368.9 223.9h0M390.8 220.3h0M467.3 159.9h0M478.3 146.9h0M379.9 210.3h0M476.5 148.7h0M381.8 209.7h0M390.2 222.6h0M367.3 229.7h0M470.1 129.1h0M490.6 131h0M477.3 147.4h0M455.7 139.5h0M412 176.6h0M379.8 211.7h0M372.1 218.4h0M431.3 190.5h0M416.8 200.7h0M384.8 205.3h0M453 171.8h0M404.6 210h0M492.6 130.7h0M480 144.6h0M399.2 213.2h0M447.6 177.3h0M394.7 219h0M357.5 238h0M401.5 185.4h0M394.5 195.2h0M421.9 200.1h0M484.9 139.3h0M418.8 169.5h0M416.3 201.1h0M396.2 190.5h0M381.6 208h0M461.8 134.4h0M409.3 178.8h0M373.2 221.7h0M374.5 222.2h0M391.4 199h0M468.4 157.9h0M410.3 205.6h0M386.5 201.4h0M478.1 125.6h0M495.2 119.8h0M396.6 215.4h0M438.6 152.1h0M424.3 165.9h0M394.1 216.3h0M398.5 189.5h0M417.4 170.8h0M353.1 245.5h0M391.4 199h0M467.1 158.8h0M456.2 138.6h0M366.2 225.9h0M412.5 178.4h0M458.2 136.5h0M481.5 144.8h0M488.6 119.8h0M432.5 188.7h0M442.7 149h0"/>
<path stroke="#5dff99" d="M436.2 156.1h0M439.1 153.6h0M416.8 200.1h0M413.6 202.5h0M435.9 185.9h0M394.3 195.6h0M418.6 169.1h0M364.6 234.6h0M420 170.2h0M408.2 209.7h0M389.7 200.4h0M499.2 118.6h0M435.7 185.6h0M430 190.4h0M365 228.8h0M402.6 186.9h0M439.9 149.8h0M477.6 146.9h0M369.5 226.7h0M450.7 142h0M461.9 163.6h0M455.3 169.9h0M426.1 163h0M395.9 193.6h0M399.7 213.2h0M436.7 156.7h0M425.1 165.2h0M487.2 137.9h0M370.8 223h0M382.4 226.4h0M476 127h0M449.6 174.6h0M484.4 140.2h0M448 144.5h0M373.4 225.9h0M375.6 217.1h0M414 175.3h0M463.9 163.2h0M488.5 118.2h0M402.6 212.6h0M396.2 214.6h0M454.9 170h0M368.3 227.8h0M491.9 128.8h0M371.8 225.1h0M487 121.5h0M490.5 129.4h0M370.6 222.4h0M469.6 156.4h0M390.2 200h0M436.6 155.3h0M422.3 167.2h0M482.1 141.9h0M428.1 160.2h0M490.2 132.4h0M391.7 220.2h0M449.5 174h0M444.1 180h0M479.8 144.8h0M375.5 219.2h0M409.6 179.6h0M426.1 164h0M463.2 162.9h0M463.5 161.7h0M470.2 156.3h0M395.3 194.3h0M400.8 187.7h0M464.9 132.1h0M397.9 190.3h0M375.4 229.7h0M406.3 182.5h0M488 135.8h0M415.1 201.4h0M398.5 190.8h0M378.7 224.7h0M412.2 178.4h0M444.8 148.7h0M407.8 206.8h0M474.4 154.6h0M413.1 177.7h0M429.2 159.3h0M391.4 199.4h0M362.5 238.5h0M485.4 139.6h0M432.8 189h0M483.6 122.1h0M432.7 189.3h0M487.9 137.3h0M460 166.9h0M422.6 167.1h0M493.9 128.7h0M435.1 185.6h0M419.5 198.6h0M437.5 184.8h0M376.4 225.3h0M466.9 160h0M453.2 172.3h0M439.4 184.3h0M374.8 211.9h0M414.2 199.4h0M489.4 135.5h0M433.3 187h0M433.6 157.7h0M399.1 190.8h0"/>
<path stroke="#66ff91" d="M433.8 187.9h0M425.5 165.7h0M421.2 167.4h0M423.9 166h0M477.9 146.7h0M467.8 130.6h0M409.9 178h0M380.9 210h0M453.2 140.4h0M458.5 167.6h0M427.2 165.1h0M398.8 190.4h0M356.5 236.9h0M463.6 161.7h0M372.3 223.9h0M470.9 156.3h0M444.2 149.1h0M373.9 230h0M450 144.3h0M431.3 159.3h0M493.9 119.5h0M472.3 129.4h0M396.3 193.5h0M451.2 174.1h0M403.3 186.9h0M452.1 141.9h0M430.7 160.4h0M431.2 160.4h0M394.6 215.5h0M431.8 158.8h0M455.2 169.7h0M458 137.3h0M404.6 208.8h0M384.7 205.6h0M436.8 156.8h0M424 194.3h0M375.4 216.7h0M425.2 165.9h0M461.6 164.6h0M423.8 166.8h0M496.5 122.2h0M438.7 182.8h0M485.9 138.1h0M382 206.1h0M375.7 221.4h0M437 156.4h0M464.6 134h0M487.3 120.4h0M424.4 194.4h0M389.8 220.3h0M431.2 159.3h0M448.7 145.6h0M490.5 119.4h0M436.9 155.6h0M401.3 213h0M418.9 170.7h0M490.3 129.6h0M431.8 159.9h0M404.5 184.3h0M487.1 136.2h0M383.9 225.2h0M418.1 198.1h0M479.8 144.6h0M484.3 138.8h0M397 215.1h0M372.3 229.6h0M419.9 170.1h0M494.4 122h0M397 192h0M467 158.4h0M476.7 150.2h0M491.1 128.8h0M489 121.8h0M379 223.6h0M489.4 121.7h0M396 215.4h0M479.2 125.4h0M431.6 157.3h0M415.6 198.7h0M465.6 132.4h0M475.7 149.8h0M406.1 208.9h0M393.4 196.5h0M414 202.1h0M379 212.7h0M465.6 160.4h0M478.2 126.4h0M424.8 166.3h0M426.1 165.2h0M461.7 135.6h0M414.5 201.9h0M468.5 157.1h0M399.5 192.5h0M386.9 222.6h0M385.1 205.7h0M414.1 202.6h0M455.1 139.7h0M385.5 220.9h0M490.3 129.8h0M390.9 217.8h0M487.3 135.9h0M438.6 182.7h0M382.6 209.5h0"/>
<path stroke="#6fff88" d="M381.2 210.6h0M363.3 233.2h0M419.4 198.6h0M476.6 126.6h0M392.8 215.7h0M411.1 179.9h0M376.6 226.3h0M443.9 148.9h0M411.4 178.8h0M394.9 194.3h0M468.4 130.2h0M415.8 172.8h0M483.4 122.1h0M488.8 134.8h0M450.1 173.4h0M369.2 231.1h0M470.6 129.6h0M493.4 127h0M433.6 188h0M381 209.4h0M413.8 204.7h0M463.1 134.8h0M429 190.7h0M412.2 202.9h0M471.5 153.4h0M460.6 163.7h0M391.8 198.6h0M438.1 154.4h0M388.5 223h0M485 122h0M378.1 221h0M430.4 190.1h0M427.1 192.2h0M428.5 191h0M409.9 205.2h0M436.9 155.4h0M376.8 214.7h0M427.3 163.8h0M404 183.7h0M423.2 166.8h0M397.1 213.5h0M453.8 140.8h0M382.2 223.4h0M422.3 167.3h0M405.2 183.5h0M479.1 123.8h0M490.6 129h0M467.9 131.9h0M457.9 168.5h0M475.4 150.1h0M391.9 218.5h0M369 224.1h0M448.5 175.6h0M362.6 230.9h0M451.4 172.5h0M419.8 169.5h0M479.9 125.7h0M452.8 172.2h0M439.9 182.9h0M398.9 191.5h0M457.4 137.9h0M363 236.6h0M485.8 122.2h0M463.8 161.4h0M451.2 173.5h0M426.7 193.5h0M407.4 205.5h0M460.5 165.2h0M414.5 201.5h0M388.1 217.9h0M466.3 131.7h0M413.5 203.5h0M426.3 192.9h0M421.6 196.9h0M434.1 186.8h0M371.4 229.2h0M428.9 190.7h0M496.3 125.9h0M394.9 193.3h0M416 197.8h0M459.1 136.5h0M391.3 216.4h0M471.7 129.4h0M463.6 161.1h0M456.6 168.7h0M478.2 147.3h0M401.4 212.1h0M389.6 216.6h0M403.4 185.1h0M451.5 172.4h0M401.4 188h0M416.4 197.6h0M425.1 194.8h0M381.9 221.6h0M428.6 161.9h0M439.6 151.6h0M464.5 159.8h0M453.5 141h0M445.9 147h0M415.4 174.2h0M379.6 214.3h0M417.4 197.6h0M385 207.8h0M450.5 144.8h0M491.5 128.7h0M442 150.6h0M371.5 232.4h0M447.6 145.2h0M416.7 171.3h0M425 166.6h0"/>
<path stroke="#77ff80" d="M385.6 218.9h0M463.4 160.3h0M478.6 145.3h0M483.8 139.7h0M448.5 146.4h0M412.8 201.1h0M408.6 203.8h0M443.8 149.4h0M431 160.5h0M474.8 150.5h0M478.8 126h0M460.8 165.9h0M389.6 199.9h0M441.8 150.9h0M379.1 222.7h0M454.8 140.8h0M461.5 136.4h0M454.6 170.1h0M440.8 182.6h0M448.4 146.5h0M445.3 148.5h0M368.4 231h0M445.3 178.8h0M452.6 172.1h0M470.2 154.5h0M414.7 175.4h0M463.8 134.8h0M451.3 172.4h0M460 136.3h0M476.3 127h0M464.7 133h0M407.5 206.9h0M379.2 221.7h0M460.2 164.4h0M432.3 188.2h0M380.8 211.8h0M401.2 190.1h0M416.9 173.1h0M406.5 183.5h0M441.1 182.9h0M455.5 140.6h0M488.7 134.1h0M416.9 197.5h0M399.8 190.4h0M485.8 138.5h0M441.8 180.9h0M420.5 169.9h0M443.1 179.8h0M452.4 142.6h0M482.2 142.2h0M459 165.7h0M430.7 160.7h0M431.2 159.8h0M424.4 193.4h0M455.2 140.8h0M486.1 136.6h0M474.6 126.7h0M491.8 120h0M410.6 180.4h0M476.7 127.1h0M421.8 197.7h0M478.7 145.3h0M457.6 167.4h0M391.1 216.3h0M495.3 120.9h0M385 219.3h0M447.8 147.4h0M394.3 214.4h0M460.6 136.1h0M428.6 162.3h0M406.9 206.7h0M485.9 122h0M490.3 128.7h0M438.8 152.5h0M438.2 153.7h0M414 175.6h0M410.1 203h0M482.2 142.5h0M415.3 199.1h0M462.4 134.8h0M394.2 219.3h0M390.6 216h0M466.3 160h0M480.2 125.3h0M460.1 164.2h0M404.9 206.2h0M434.9 186.1h0M462.9 161.7h0M391.9 214.9h0M452.5 141.7h0M433.4 158h0M406.2 184.4h0M461.3 136.4h0M482.6 142h0M468.8 155.7h0M389 216.5h0M433.2 158.6h0M454.4 170.3h0M449.5 144.6h0M489.3 131.1h0M411.5 202.9h0M462.5 135.8h0M422.7 168.2h0M400.5 210.9h0M476 127.3h0M461.5 163.2h0M445.2 181.3h0M433.7 159h0"/>
<path stroke="#80ff77" d="M440.4 153.6h0M384.8 208h0M412.6 178.5h0M444.1 179h0M379.4 213.6h0M406.4 205.6h0M430.8 188.3h0M487 136.3h0M433.4 185.7h0M484 120.7h0M461.2 162.6h0M425.4 166.5h0M404.8 184.7h0M438.2 154.6h0M379.9 214.5h0M427.1 162.7h0M396.5 214.4h0M482.8 141.1h0M408.1 204.9h0M455.8 169.8h0M384.8 206.5h0M480.7 124.4h0M393.4 196.8h0M420.2 171.4h0M401.8 187.7h0M463.3 133.9h0M392.1 214h0M486.5 136.9h0M437.6 183.3h0M442.9 149.8h0M431.4 187.7h0M478.6 125.6h0M368.9 225.9h0M449.1 174.5h0M447.2 178h0M460.9 162.5h0M392.2 198.1h0M452.5 171.6h0M461.7 161.9h0M445.4 176.2h0M467.3 131.7h0M489 134h0M480.9 123.3h0M450.5 173.2h0M418.2 171.4h0M380.3 210.1h0M485.5 138.3h0M434.3 185.3h0M482.9 122.5h0M445.1 148.8h0M401.7 210.5h0M437.5 154.6h0M478.6 127h0M424.2 192.3h0M471.3 154h0M395.5 211.2h0M431.2 160.6h0M457.9 166.3h0M423.3 192.7h0M409.8 180.8h0M384.6 219.9h0M477.2 149.3h0M399.2 194.1h0M479.3 146.4h0M440.7 152.5h0M464.4 159.6h0M445.6 147.9h0M387.2 218.8h0M453.6 170.9h0M384 218.9h0M442.1 150.1h0M461.7 135.6h0M481 142.7h0M478.3 144.2h0M416.2 175.8h0M416.7 197.3h0M433.1 159.4h0M477.7 146.2h0M376.7 217.7h0M494.1 123.8h0M481.4 143.2h0M377.4 216.2h0M413 202.1h0M463 135.1h0M429.7 162.2h0M440.5 153.2h0M393.4 198.3h0M484.9 138.2h0M428.2 163.7h0M379.4 220.2h0"/>
<path stroke="#88ff6f" d="M415.9 198.7h0M377.2 222.2h0M468.9 130.6h0M454.4 169.7h0M470.8 129.8h0M398.3 212.7h0M487.7 136.5h0M371.4 222.9h0M444.7 149.4h0M454.5 169.6h0M399.1 213.9h0M403.6 212.5h0M465 134h0M384.9 207.2h0M386.4 202h0M445.2 178.5h0M423.2 167.3h0M468.8 156.4h0M428.2 163.3h0M388.1 218.1h0M430.1 189.3h0M445.7 176.5h0M413.1 179.8h0M473.7 127.8h0M446 176.4h0M440.2 180.8h0M479.8 143.8h0M424.9 167.3h0M443.8 148.5h0M388.4 205.8h0M383.4 209.8h0M385.9 208.6h0M448 175.5h0M436.5 184.5h0M466.2 158.9h0M453.6 141.4h0M435.7 156.5h0M411.7 180.2h0M382.4 225h0M407.7 185.1h0M466 132.6h0M465.5 132.3h0M473 151.8h0M405.5 205.9h0M405.8 185.8h0M393.5 212.8h0M464.6 160h0M440.8 151.9h0M468 156.6h0M478.8 143.9h0M387.3 208.1h0M400.4 190.2h0M407.7 185h0M487.5 122.1h0M459.3 163.9h0M417.4 172.5h0M416.6 174.9h0M431.2 188.3h0M477.6 147.7h0M388 220.8h0M394.6 195.5h0M490.5 126.9h0M436.8 156.8h0M455.8 139.7h0M376.5 225.7h0M407 181.1h0M415.8 198.6h0M421 198.2h0M439.3 155.2h0M376.9 219.4h0M412.2 179.6h0M403.8 188.1h0M443.7 179.6h0M384.6 211.2h0M406.7 185.4h0M453.9 141.1h0M463.3 134.4h0M454.9 140.3h0M458 164.6h0M475.3 151.9h0M448.9 173.4h0M476.1 147.4h0M475.1 126.8h0M455.4 140.5h0M444.9 177.9h0M435 184.3h0"/>
<path stroke="#91ff66" d="M467.7 131.3h0M476.5 147.4h0M467.4 132.9h0M466.7 159.6h0M403.5 189h0M476.7 146.9h0M475.7 148.9h0M457.1 167.9h0M423.9 191.5h0M468 158.4h0M442.7 177.8h0M417.7 196.9h0M412.6 200.3h0M403.9 188h0M467.4 156.3h0M463.1 134.2h0M416.2 174.6h0M390.3 216.2h0M487.5 121.5h0M401 193.4h0M489.8 122.4h0M430.4 162.1h0M460 163.7h0M441.5 152h0M489.4 124h0M490.3 132.9h0M408.1 204.3h0M445.7 148.5h0M386.8 211h0M404.1 209.3h0M476.1 147.8h0M432.1 159.7h0M387.7 217.5h0M488.9 123.9h0M440.6 180.1h0M479.1 127.4h0M440.1 153.9h0M401.1 208h0M486.7 135.8h0M404.1 208.2h0M483.5 124.3h0M402 191.8h0M451 144.6h0M394.9 211.1h0M490.4 127.6h0M383.4 220.1h0M381.5 223.3h0M439 154.2h0M458.9 164.2h0M459.4 164.6h0M388.7 217.8h0M395.7 193.8h0M465.6 134.4h0M490.7 126.6h0M420 198.1h0M367.9 233.5h0M403.6 188.6h0"/>
<path stroke="#99ff5d" d="M408.2 181.8h0M368.7 225h0M448 174.5h0M379.9 214.5h0M429.1 161.9h0M449.8 145h0M403.6 208.1h0M380.9 217.9h0M397.8 211.8h0M443.6 149.6h0M381.2 212.6h0M430 189.2h0M372.8 222.9h0M392.8 210.7h0M467 156.9h0M451.7 144.3h0M433.5 185h0M399.3 193.9h0M450.4 174h0M407.3 204.3h0M438.1 155.8h0M486.3 136.8h0M482.7 125.2h0M400 211.1h0M487.3 122.5h0M473 127.3h0M450.7 173.2h0M409.4 202.4h0M406.9 203.9h0M380.6 217.3h0M467.8 156.3h0M400.8 207.9h0M448.9 173.4h0M463.5 134.4h0M442.1 179.3h0M441.3 152.3h0M447.5 174.2h0M470.3 154.3h0M383.6 212.8h0M407 204.4h0M453 170.9h0M457.9 165.6h0M418.5 172.8h0M411.7 180.3h0M400.5 208.1h0M452.5 142.5h0M455.8 168.5h0M456.3 169.4h0M464 160h0M465.1 160.3h0M426.7 164.6h0M457.3 137.3h0M424.6 191.6h0M466.9 132.3h0M467.8 132.9h0M481 141.3h0M393.5 198.9h0M403.3 186.1h0M413.7 176h0M473.8 129.4h0M451.4 171.7h0M458.4 137.7h0M416.8 175.5h0M427.4 165.1h0M481 142.3h0M489.3 125h0M462.1 162.2h0M431.2 160.4h0M438.3 183.2h0M390 215h0M408.7 202.4h0M426.7 191.7h0M455.4 166.8h0M450.7 144.5h0M452.1 171.1h0M441.2 180h0M455.7 141.3h0M480.6 125.2h0M466.9 159.2h0M437.3 183.4h0M437.6 182.7h0M406.2 203.7h0"/>
<path stroke="#a2ff55" d="M406.3 203.8h0M410.5 179.8h0M460.8 163.3h0M383.1 216.1h0M442.9 150.7h0M479.1 144.2h0M383.9 219h0M439.5 182.4h0M479.7 143h0M482.7 140.7h0M491.6 120.3h0M412.9 201.3h0M386.4 210.9h0M386.7 206.1h0M462.5 160.9h0M466 158.9h0M396.1 196.5h0M435.3 157.7h0M454.8 143.1h0M480.2 126.8h0M466.4 132.5h0M429.1 163.1h0M473.2 152.2h0M437.3 155.5h0M386.2 219.2h0M459.9 164.8h0M469.1 131.8h0M393 211.1h0M392.4 200.4h0M425.6 166.3h0M401.2 192.7h0M423.1 195.9h0M467.1 156.4h0M389.3 215.4h0M424.6 191.8h0M478.4 126.5h0M394 199.3h0M389.7 213.8h0M469.5 130.7h0M448.5 145.8h0M483.9 140.7h0M387.9 212.5h0M434.1 158h0M489.9 126.2h0M407.7 181.7h0M444.5 148.7h0M462.6 135.1h0M415.2 197.6h0M456.1 166.3h0M427.9 165.8h0M424.9 191.4h0M396.9 197.3h0M491.3 127.3h0M416.1 177.7h0M387.6 211.1h0M459.7 137.5h0M460.8 163.6h0M397.9 197.4h0M465.9 133.5h0M476.1 150.5h0M398.3 211.3h0M399.7 193.4h0M489.1 125.7h0M411.7 199.9h0M424.9 191.4h0M480.7 140.4h0M486.8 123.8h0M435 157.7h0M480.3 125.9h0M433.5 158.7h0M472.2 153.3h0M418.9 174.4h0M479.7 142.7h0M483.8 139.7h0M391.9 214.1h0M462.3 135.1h0M484.1 136.8h0M386.8 214.9h0"/>
<path stroke="#abff4c" d="M475.5 127.5h0M466.2 134.4h0M458.8 164.3h0M471.1 129.8h0M415.8 176.5h0M443.3 177.6h0M458.8 139.3h0M457.2 166.6h0M427.4 166h0M400.5 193h0M429.2 190.3h0M464.4 159.3h0M482.2 127.3h0M475.2 148.6h0M437 183.3h0M474.8 130.9h0M456.9 166.5h0M476 148.6h0M421.5 168.8h0M433.8 185.3h0M477.5 144.3h0M483.6 122.1h0M430.9 188.8h0M423.8 192.3h0M459.5 164.7h0M419.7 171.8h0M467.8 155.3h0M487.3 124.5h0M471.8 151.5h0M468.1 133.2h0M452.7 170.4h0M435.4 184.6h0M443.2 151h0M401 207.6h0M461.1 135.6h0M418.9 173.6h0M437.1 154.9h0M451.4 173.3h0M451.9 171.1h0M424.1 191.8h0M413.5 181.3h0M415 178.2h0M430 187.9h0M391.1 203.2h0M434.4 159.3h0M425.9 166.8h0M455.5 141.6h0M471.2 153.9h0M423.6 168.8h0M488.4 130.4h0M431.2 159.3h0M440.9 179.2h0M445.9 148.4h0M398.1 197.7h0M461.1 137.6h0M402.6 207.7h0M459.7 164.2h0M396.6 208.8h0M431.6 161h0M459.7 137.4h0M393.9 207.6h0M407.4 203.4h0M435.7 183.8h0M390.3 213.3h0M455.7 141.4h0M431.6 185h0M404.9 186.7h0M389 207.3h0M465.5 134.4h0M403.6 207.7h0M454.4 169.2h0M483.5 124.6h0M409.3 180.9h0M391.6 210.8h0M452.3 169.8h0M458.7 164.6h0M443.1 149.7h0M408.8 202.6h0"/>
<path stroke="#b3ff44" d="M477.9 126.8h0M394.1 199.5h0M443 178.4h0M460.5 137.9h0M390.4 208.4h0M436.4 181.5h0M409.2 180.7h0M413.6 180.4h0M441.1 181.5h0M480 142.3h0M415.4 178h0M441.6 152.7h0M429.8 163.7h0M393 208.1h0M389.4 202.4h0M417.5 175.7h0M439.8 153.7h0M440.1 153.6h0M474.5 150.1h0M454.2 142.8h0M409.9 182.6h0M410.1 201h0M460 138.5h0M399.6 194.3h0M436.4 182.2h0M484.7 125.4h0M435.7 182.8h0M477.8 129.1h0M463.8 159.3h0M441.6 152h0M420.4 196.6h0M411.8 181.8h0M490.5 130.1h0M476.5 146.2h0M403.7 207.5h0M476 130.9h0M476.1 148.6h0M420.8 193.9h0M439.9 181.9h0M470.1 132.7h0M450.9 171.5h0M435.4 182.6h0M439.5 181.2h0M423.2 169.4h0M461.2 137.9h0M402.4 192h0M415.2 178.3h0M484 126.8h0M411 182.7h0M390.7 215h0M392.2 196.6h0M428.1 165.8h0M432.9 184.2h0M458.6 164.3h0M443.4 176.6h0M453.6 168.7h0M392.2 214.6h0M473.5 151.2h0M458.3 138.7h0M412.9 199.6h0M419.6 194.5h0M426.2 191.6h0M419.5 193.6h0M439.1 156.1h0M410.9 182.3h0M404.2 206.3h0M406.6 187.6h0M482.3 139.4h0M490 129.2h0M443.6 151.7h0"/>
<path stroke="#bcff3b" d="M483.9 140.1h0M465.2 134.1h0M488.6 134.3h0M429.9 162.7h0M415.4 178.5h0M482.2 128.6h0M474 148.9h0M410.2 184.2h0M411.4 199h0M417 177.6h0M391.3 212.2h0M382.9 216.1h0M423.6 192.9h0M486.5 124.9h0M415.7 177.7h0M443.2 150.8h0M436.2 156.3h0M467.7 155.9h0M425.1 166.2h0M390.9 204.1h0M404.5 201.9h0M467 155.5h0M430.2 162.9h0M457 165.4h0M487.2 129.4h0M430.9 188.3h0M487.7 133.3h0M477.8 146.1h0M478 127h0M441.3 178.9h0M442.9 153.2h0M423.2 190.8h0M465.6 157.5h0M453.1 144.1h0M469.2 154.6h0M419 173.8h0M463.7 159.9h0M429.5 163.6h0M439.1 156.5h0M398.8 209.4h0M435.8 185.1h0M473.7 130.5h0M402 191.1h0M467.4 133.8h0M402.7 203.7h0M412.5 181.3h0M399.2 208.1h0M451.7 171.7h0M413.3 181.8h0M454.2 167.3h0M396.4 200h0M430.4 163.2h0M432.3 160.8h0M434.2 159.4h0M418.3 196.4h0M419.5 171.1h0M470.4 154.2h0M465.1 158.5h0M483.2 136.7h0M481.8 128.9h0M472.7 129.3h0M396.8 209.1h0M394.9 200.8h0M453.6 169.5h0M463.9 136.5h0M463.7 159.6h0M415 196.6h0M401.8 193.4h0M471.4 152h0M434.4 158.9h0M422.8 193.5h0M391.2 214.2h0M410.8 184.4h0M402.3 206.8h0"/>
<path stroke="#c4ff33" d="M464.7 158.9h0M430.5 162.5h0M460.2 163.3h0M448.9 173.8h0M446 175.6h0M449.8 171.2h0M387.9 208h0M439.1 156.4h0M444.8 176.7h0M440.6 152.8h0M449.8 173.2h0M405 208.5h0M434.9 158h0M404.6 202.4h0M477.9 143.4h0M435.4 158.4h0M484.4 128.3h0M395.1 201.8h0M443.9 176.5h0M443.8 152.1h0M424.9 168.9h0M442.7 153.1h0M407 203.4h0M420.6 170.9h0M444.6 149h0M484.4 137.2h0M397.3 194.6h0M449.7 145.6h0M435.2 160.4h0M444.2 175.8h0M408.6 199.1h0M435.7 158.2h0M421 193.1h0M448 173.7h0M479.2 141.7h0M437.2 158h0M413.8 182.1h0M428.3 192h0M451.3 169.3h0M466.8 135.1h0M444.9 148.7h0M463.6 160.8h0M441.2 154.5h0M437.1 158.4h0M447.7 174.1h0M420.4 192.3h0M455.8 140.1h0M411.1 182.3h0M397.6 210h0M424.2 188.9h0M423.2 169.9h0M437.3 180.8h0M443.2 176.7h0M408.8 185.2h0M401.7 204.9h0M427.6 166.4h0M396.7 201.3h0M415 181.4h0M407 187.6h0M451.3 170.1h0M421.3 190.6h0M398.1 198.5h0M438.6 156.5h0M484.2 136.4h0M409 186h0M423.3 169.1h0M479.1 141.9h0M402 205.1h0M458.1 140h0M439.3 180.1h0M423.2 190.7h0"/>
<path stroke="#cdff2a" d="M417.6 176.9h0M487 124.5h0M459.5 140.6h0M448.1 147.7h0M424.2 170.5h0M390.1 213h0M470 132.7h0M424.6 188.8h0M417 177h0M445 151.2h0M460.6 138h0M419.3 197.6h0M487.1 126.5h0M448.2 172.9h0M402.6 203.3h0M487 136.2h0M420.8 191.6h0M447.1 148.5h0M441.7 153.3h0M473.9 149.6h0M439.2 154h0M455.5 166.9h0M415.1 196.7h0M418.9 192.2h0M460.9 162.9h0M423.6 190.4h0M426.3 168h0M463.6 136h0M423.5 190.3h0M424.4 169.4h0M409.7 185.4h0M441.1 178.1h0M447.3 174.9h0M424 190.1h0M461.1 138.6h0M417 176.8h0M406.4 199.2h0M485.7 125.5h0M450.1 144.4h0M393.1 203.9h0M464.1 135.3h0M480.8 140.6h0M467.9 154.1h0M441.8 177.9h0M432.5 162.2h0M433 162h0M479 142h0M477.4 145.9h0M467 133.7h0M457.1 165.7h0M398.9 210.9h0M427.5 167.5h0M424.1 188.6h0M431.7 185.6h0M401.2 207h0M453.3 169.5h0M401.5 192.1h0M427.2 167h0M470.5 133.1h0M482.3 136.5h0M463.5 159.5h0M404.3 190.2h0M462.7 160.8h0M416.7 196.2h0M403.1 188.6h0M442.9 153h0M473.7 150.2h0M411.6 202.5h0M447 173h0M471.8 148.8h0M486.8 131.2h0M459.8 139.3h0M456.8 142.3h0M434.7 160.5h0M468.8 134.3h0M397 204.3h0M478.4 144.8h0M406.9 199.4h0M408.9 199.9h0"/>
<path stroke="#d5ff21" d="M461.6 136.2h0M447.1 147.4h0M441.8 177h0M407.9 198.3h0M391.5 202.6h0M442.6 154h0M471.7 150.6h0M473.9 131.6h0M412.8 196.7h0M447.8 147.9h0M444.4 176h0M445.1 150.5h0M471.3 149.9h0M448.8 172.6h0M453.1 143.7h0M435.3 158.5h0M479.6 142h0M411.4 183.5h0M412.1 184.7h0M457.2 164.9h0M486.3 132.7h0M485.2 131.3h0M412.7 197.4h0M432.2 162.2h0M409 186h0M436.6 159.7h0M403 193h0M420.1 171.5h0M439.5 154.8h0M480.7 140.4h0M444.7 150.4h0M466.1 157.2h0M482.6 137.2h0M465.4 157.6h0M483.7 136h0M488.4 128.8h0M434.8 184.6h0M398 194.1h0M450.6 146.4h0M437.6 158.3h0M480.5 138.4h0M431.2 188.2h0M423.2 171.3h0M418.4 192.5h0M441.4 154.2h0M426.5 168.1h0M432 184.8h0M470.3 132.6h0M392.3 203.8h0M402.4 206.2h0M456.1 166.7h0M487.6 134.7h0M463.3 136.8h0M483.7 128.1h0M449 170.4h0M419.7 174h0M399 206.7h0M435.4 160.5h0M487.5 127.4h0M469.8 153.6h0M451.8 170.1h0M426.7 188.8h0M397.6 207.7h0M415.3 178h0M431.3 163.1h0"/>
<path stroke="#deff19" d="M485.1 132.1h0M431.8 184.9h0M417.5 193.1h0M431.9 185.4h0M451.8 143.5h0M427 166.9h0M482.3 128.6h0M418.3 196.7h0M470.7 132.4h0M479.3 128.5h0M430.9 162.5h0M438.3 157.8h0M444.2 153.2h0M484.8 127h0M444.3 153.3h0M489.5 127.5h0M424.3 170.9h0M426.2 168.5h0M444.8 175.9h0M422.7 171.7h0M420.1 174.1h0M457.3 166.6h0M429.5 188h0M482.2 136.5h0M461.3 137.9h0M428.7 164h0M439.1 156.7h0M484.6 131h0M428.8 165.6h0M480.7 138.6h0M461.8 137.7h0M463 138.5h0M475.9 130.9h0M486.8 128.9h0M425.8 187.9h0M470 133.4h0M455.2 166.5h0M446.2 175.3h0M412.2 185.4h0M413.3 196.8h0M395.5 199.8h0M467.8 155.4h0M404.3 191.8h0M437.2 158h0M416.9 177.9h0M466.7 155.9h0M463.9 158h0M454.3 143.9h0M483.7 133.2h0M464.1 159.4h0M442.7 176h0M398.1 204.7h0M439.3 180.3h0M401.5 195.2h0M435.8 181.7h0M425.6 169.8h0M455.5 142.6h0M447.5 147.4h0M441.8 178.8h0M417.4 178.1h0M483.3 133.2h0M462.1 139.9h0M458 140.2h0"/>
<path stroke="#e6ff10" d="M419.6 191.2h0M476.6 143.3h0M462.7 139.4h0M393.7 205.9h0M428.7 165h0M428.7 166.7h0M417.9 175.5h0M409.5 200.5h0M386.6 208.2h0M481.1 137.4h0M447.6 173.1h0M408.8 198.7h0M411.8 201.4h0M426 168.1h0M468.2 153.4h0M450.1 169.7h0M459.3 140.4h0M425.6 169.7h0M404.2 201.2h0M453.4 144.8h0M459.1 163.2h0M465.1 136.2h0M483 132.4h0M411.1 198.1h0M411.3 196.2h0M431.1 164.7h0M432.2 185.3h0M409.8 185.9h0M452.6 145.4h0M461.2 140.8h0M404.9 198h0M426 167.8h0M418.7 176.7h0M478.6 143.1h0M455 142.1h0M430.7 186.9h0M471 153.9h0M480.7 141.4h0M432.4 164h0M406.2 198.1h0M469.5 152.8h0M404.3 190.9h0M461.3 160.6h0M468.6 154h0M465.5 157.4h0M453.5 144.1h0M441.1 180.1h0M413.2 194.8h0M419.6 175.8h0M417.6 178.4h0M444.2 152.2h0M476.3 145.3h0M423.3 191.6h0M444 175.6h0M426.8 187.5h0M412.7 195.1h0M439.9 155h0M461.8 160.6h0M439.7 178.5h0M423.7 172.3h0"/>
<path stroke="#effe08" d="M430.2 164.6h0M463 137.4h0M406.2 193.5h0M429.4 187h0M465.3 156.6h0M462 160h0M439.9 177.5h0M465.9 136.9h0M420 174.5h0M466.4 136.5h0M402.3 201.6h0M429.1 166.9h0M400.2 201.8h0M463.6 157.7h0M454.2 168.4h0M480.8 140.9h0M423 189.5h0M460.4 161.4h0M397.2 204.1h0M461.6 139.4h0M424.8 171h0M429 167.1h0M422.4 189.7h0M400.8 204.6h0M438.6 157.2h0M470.4 131.3h0M476.4 147.5h0M420.8 174h0M477.3 143.3h0M417.4 176.4h0M453.7 144.4h0M399.1 206.2h0M409.2 197.2h0M440.8 175.8h0M403.1 199.6h0M429.3 164.8h0M426.8 167.4h0M411.7 186.9h0M409.1 194.6h0M426.1 187.9h0M467.6 134.8h0M481.6 136.9h0M408.3 197.3h0M445 174.8h0M417.5 194.1h0M450.4 169.5h0M397 198.5h0M452.5 168.3h0M476.8 130.7h0M462.8 137.4h0M481.3 140.3h0M467.7 135.1h0M445.3 151.6h0M423.1 189.8h0M426.7 168.5h0M449.2 170.5h0M401.1 199.4h0"/>
<path stroke="#f8f500" d="M442.7 153.4h0M481.3 128.2h0M453.6 167.7h0M446.5 150h0M470.6 131h0M416.6 178.8h0M407.3 186.3h0M458.6 163.4h0M457.1 141.8h0M480 127.4h0M422.3 175.3h0M449 171.2h0M418.2 177.6h0M442.6 175.2h0M417.6 180.9h0M454.3 145.1h0M419.5 192.1h0M415.8 182.7h0M426.3 187h0M466.2 136.2h0M461.9 140.1h0M483.6 134.5h0M420.1 176.7h0M444.1 154.2h0M463.5 160h0M408.4 186.7h0M457.9 141.3h0M473.7 147.3h0M421.2 190.6h0M451.5 145.1h0M452.9 145.6h0M449 170.1h0M467.7 136.2h0M435.8 182.1h0M418.9 179.8h0M472.1 130.5h0M394.4 202.7h0M403.1 202h0M434.1 161.1h0M413.4 193.3h0M407 191.6h0M433.2 162.8h0M421.7 172.3h0M434.1 160.9h0M461.9 160.9h0M480.9 137.5h0M455 166.2h0M401.1 197.5h0M465 155.6h0M408.6 191.9h0M429.4 186.1h0M438.1 158.1h0M462.1 139.6h0M444.8 174.1h0M418.4 177.6h0M425.5 186.8h0M439.9 177.3h0M451.9 169.5h0M469.1 134.3h0M450.9 146.5h0"/>
<path stroke="#ffeb00" d="M466.2 137.5h0M460.5 159.9h0M482.7 129.6h0M469.5 133.9h0M485 136.1h0M408.8 195.7h0M441.1 176h0M445.4 151.5h0M437.2 181.2h0M444 175.6h0M415 195h0M455.7 142.5h0M433.1 184.7h0M409.8 191h0M424.1 186.9h0M426.7 186.2h0M434.7 161.3h0M422.8 173.3h0M478.3 142.3h0M471.3 132.9h0M465 156.7h0M475.5 144.3h0M421.6 175.5h0M457.4 164.8h0M463.5 158.9h0M424.4 170.4h0M416.7 196.4h0M414 183.9h0M411.5 199.6h0M410.3 198h0M461.8 159.4h0M433.6 160.9h0M477.6 129.9h0M452 145.3h0M483.1 130.9h0M449.4 147.7h0M405.9 189.2h0M405.2 197.7h0M460.1 161.4h0M452.7 169.6h0M431.6 184.2h0M480.4 140.2h0M479.3 130.4h0M460.5 160.9h0M451.6 169.4h0M409.4 191.9h0M465 157h0M451.1 168.4h0M436 181.3h0M453.6 165.8h0M478.2 142.6h0M422.1 174.3h0M429.9 165.2h0M471.7 149.5h0"/>
<path stroke="#ffe100" d="M476.9 143.4h0M460.3 140.9h0M452.1 146.6h0M447.1 172.3h0M456.9 163.4h0M438.5 178.1h0M453.3 145h0M475.4 147.8h0M445.3 151.7h0M402.4 193.7h0M478.2 130.5h0M450.7 168h0M421.5 176.1h0M440.1 176.1h0M418.8 181h0M431.7 164.9h0M427 168.9h0M434.4 161.2h0M431.1 164.5h0M482.1 133.6h0M478.8 140.2h0M462.8 159h0M428.8 167.5h0M451.4 147h0M460.8 140.4h0M430.6 186.8h0M430.9 184.5h0M478.8 139.7h0M468.4 134.3h0M480.6 135.8h0M412.6 193.8h0M449.3 169.6h0M418.7 177.7h0M431.5 165.4h0M467 135.9h0M477.7 139.7h0M475.6 130.6h0M467.7 134.4h0M442.9 174.9h0M410.5 189.4h0M461.3 140h0M472.6 148.8h0M410.9 187.9h0M418.6 190.9h0M412.8 184.9h0M449.3 146.9h0M470.2 134.3h0M458.1 142.2h0M431.3 184.4h0M445.2 174h0M416.4 192.6h0"/>
<path stroke="#ffd700" d="M456.8 142.6h0M410.1 189.1h0M477.2 129.4h0M447.7 171.4h0M425.4 170.4h0M455.3 142.4h0M460.5 160.6h0M432.1 163.3h0M443.7 173.8h0M439.9 176.7h0M439.1 155.3h0M450.6 147.6h0M447.5 171.7h0M463.8 159.2h0M463.1 138.8h0M441.1 176.1h0M459.6 140.9h0M446.2 151.7h0M439.6 157.7h0M465.6 137.5h0M419.8 190h0M470.5 151.1h0M458.8 142.2h0M421 190.4h0M465.1 157.3h0M424.1 188.4h0M440.9 175.3h0M460.1 161.2h0M435.1 183.9h0M449.3 148.2h0M472 131.8h0M413.4 192.7h0M465.5 155.4h0M438.7 158.7h0M416.4 195.8h0M464.6 155.3h0M435.7 182h0M463.9 158.2h0M470.5 149.9h0M466.7 154.8h0M417.1 191.9h0M454.1 166.5h0M427.7 185.4h0M425.3 169.9h0M480.1 133.5h0M462.1 140.5h0M423.9 171.4h0M414.2 182.9h0M422.7 190.1h0"/>
<path stroke="#ffcd00" d="M464.8 155.5h0M458.3 142.4h0M475.1 130.3h0M481.1 130h0M486.7 129.2h0M432.7 165.2h0M465.9 138.2h0M472.9 134.5h0M477.2 141.5h0M424.1 187h0M417.5 182.1h0M476.7 132h0M412 188.6h0M472 152.4h0M448.2 147.6h0M471.4 135h0M413.8 188.7h0M447.1 149.3h0M451.3 147.3h0M451 167.8h0M402.5 202.8h0M419.2 179.8h0M452.4 146.1h0M473.6 147.9h0M438.2 179.2h0M446 149.1h0M445 153h0M419.1 189.6h0M464.9 137.7h0M424.9 185.3h0M447.2 148.4h0M468 136.6h0M467.6 137h0"/>
<path stroke="#ffc300" d="M453.7 144.8h0M481.1 132.7h0M427.7 186.1h0M451.2 167h0M439.6 157.4h0M476.3 144.5h0M434.9 162.5h0M455.3 165.3h0M469.9 150.2h0M419.5 177h0M410.1 193.5h0M479.7 141.4h0M427.9 168.7h0M475.6 141.9h0M480.4 134.5h0M423.3 172.7h0M414.1 186.5h0M433.7 163.9h0M481.2 132.3h0M461 159.7h0M415 191.2h0M468.5 134.1h0M462.9 138.8h0M418.8 179.5h0M423.5 173.6h0M463.3 138.1h0M476.1 140.2h0M475.8 142.8h0M478.3 138.6h0M482.2 130.3h0M426.5 184.6h0M440.1 176.3h0M430.8 165h0M479.8 131.5h0M409.2 192.6h0M474.8 134h0"/>
<path stroke="#ffba00" d="M431.6 166h0M476.7 133.6h0M415.1 190.8h0M440.8 156.7h0M474.9 143.3h0M469.9 149.7h0M463.9 138.4h0M432 165.8h0M472.2 147.9h0M453.7 165.3h0M452.3 166.3h0M456.5 165.6h0M415.6 187.5h0M444.4 174.6h0M451 167.2h0M474.6 143.6h0M434.1 183.6h0M477.6 134.6h0M424 172.8h0M442.4 154.8h0M435.9 160.8h0M445.5 151.9h0M416.3 187.8h0M417.8 181h0M451 147.3h0M468.2 136.7h0M449.8 170.5h0M471.7 146.7h0M426.2 184.3h0M415.4 186h0M413.1 184.9h0M432.6 166.4h0M424.4 186h0M459.1 141.7h0M472.6 147.2h0M451 167.3h0M470.2 146.9h0M439.3 177.7h0M442.2 156h0M422.8 187.7h0M463.2 159.6h0M421.8 190.5h0"/>
<path stroke="#ffb000" d="M449.3 169.3h0M468 151.7h0M436.6 179.1h0M443.5 154.1h0M422.3 184.2h0M425.7 185h0M449.3 169.4h0M478.3 137.4h0M420.3 177.4h0M463.6 156.7h0M447.5 173h0M470 148.2h0M442.3 156.8h0M476 142.4h0M443.6 153.7h0M446.2 152.7h0M464.4 137.9h0M425.7 168.2h0M465.7 154.6h0M465.4 153.3h0M440.4 157.6h0M480.1 131.9h0M421.8 184.9h0M463.5 155.3h0M468.4 152.8h0M434.8 179.8h0M472.7 134.6h0M442.3 173.9h0M457 163.7h0M429.7 168.3h0M453.7 164.7h0M413 181.6h0M447.5 150.8h0M467.2 153.2h0M467.4 137.8h0M467.6 151.8h0M469 153.4h0M469.8 149.3h0M432.2 183.2h0"/>
<path stroke="#ffa600" d="M429 181.4h0M463.9 138.1h0M415.6 185h0M460.5 158.4h0M462.8 139h0M464.6 155h0M428.9 167.4h0M443.2 156.6h0M466 153h0M459.8 160.3h0M443.4 155.7h0M454.6 162.8h0M456.2 142.2h0M474.6 145.2h0M470.4 147.9h0M450.7 168.9h0M460.1 162.9h0M440.4 157.2h0M469.9 146.1h0M419.7 187.2h0M475.8 142.3h0M460.6 158.1h0M457 161.5h0M478 138.5h0M422.7 184h0M445.9 173.9h0M475.3 143.1h0M456.8 145h0M467.4 136.9h0M420.4 189.5h0M436.1 180.1h0M456 145.1h0"/>
<path stroke="#ff9c00" d="M468.5 148.5h0M470.1 147.9h0M462.3 139.6h0M453.1 166.6h0M449.1 169.5h0M433.1 165h0M423.4 176.8h0M451.2 168h0M433.8 162.5h0M417.7 185.1h0M450 166.3h0M460.3 141.6h0M465.4 140h0M441.5 175.6h0M475.9 142.4h0M436.9 162.3h0M435.8 178.7h0M467.3 136.7h0M453.2 145.2h0M466.6 152.9h0M425.7 171.7h0M448.7 147.5h0M464.8 153.3h0M472.6 144.9h0M458.6 141.3h0M476.2 141.4h0M448.9 167h0M448.4 149.8h0M455 163.6h0M420.1 180.2h0M436.3 163.6h0M426.2 177.9h0M455.7 145h0M466.1 137.9h0M462.2 142.4h0M477.8 135.1h0M422.5 174h0M474 133.2h0M445.7 171.1h0M413.9 194.5h0M466.5 153.5h0"/>
<path stroke="#ff9200" d="M477.4 132.7h0M453.6 163.2h0M453.2 164.4h0M455.4 162.7h0M461 159.4h0M429.8 167.4h0M452.9 145h0M443.3 174h0M460 160.5h0M461.6 157.3h0M475.4 137.9h0M425 169.9h0M453.7 163.8h0M452.2 147.5h0M447.1 150.9h0M467 152.9h0M452.5 163.8h0M464.5 137.8h0M460.4 160.4h0M470 146h0M438 162.1h0M445.6 172.6h0M468.2 150.7h0M452.8 167.1h0M440.7 158.1h0M460.4 142.5h0M454.2 146.3h0M449.6 166h0M444.3 171h0M460.6 142.2h0M448.2 148.7h0"/>
<path stroke="#ff8800" d="M439.7 159.4h0M453.7 147.7h0M437.5 161.6h0M457.8 144.6h0M464.4 153.9h0M463.2 142.3h0M431 166.4h0M469.1 147.7h0M460.3 158.7h0M465 139.8h0M432.7 178.3h0M453.7 145.5h0M417.4 191.7h0M418.8 181.3h0M432.3 165.8h0M441.5 173.7h0M425.8 175.9h0M447.4 152.2h0M465 137.8h0M451.5 165.9h0M450 151.2h0M439.6 174.9h0M436.5 163.5h0M475.7 141.6h0M462.8 156.7h0M478.2 137.9h0M455 146.3h0M443.1 153.8h0M457.3 144.7h0M465 153.2h0M423.5 182.9h0M440.5 157.6h0M462 156.2h0"/>
<path stroke="#ff7f00" d="M446.9 169h0M429.2 169.6h0M455.4 147.6h0M475.4 140.1h0M474.3 135.2h0M443.3 171.2h0M435.3 165.5h0M453.5 148.3h0M428.8 170.1h0M466.2 140h0M450.8 148.5h0M453.6 148.8h0M426.9 172h0M426.9 178.5h0M472.2 144.8h0M448.5 167.7h0M457 144.4h0M466.7 152.6h0M438.1 161h0M432.6 177.9h0M440.9 173.2h0M428.5 183.5h0M475.6 143.1h0M435.7 177.6h0M448.5 151.1h0M423.3 181.3h0M471.1 135.7h0M415 183.2h0M448.5 167.9h0"/>
<path stroke="#ff7500" d="M426.7 176.6h0M424.6 183.5h0M442.7 172.7h0M474.4 138.8h0M429 182.6h0M460.2 161.4h0M461.7 154.9h0M428.5 171.2h0M456.8 162.3h0M443.5 169.6h0M473.2 143.5h0M443.3 169.5h0M431 168.7h0M439.9 176.7h0M425.6 176.4h0M459.6 142h0M441 171.3h0M461 143.3h0M475.5 146h0M441.2 172.1h0M433.8 179.2h0M433.6 177.6h0M467.8 153.2h0"/>
<path stroke="#ff6b00" d="M431.8 169.7h0M439.7 175.6h0M431.8 170.5h0M475.5 137.9h0M461 142.3h0M467.9 137.8h0M461.3 155.3h0M429.9 179.7h0M441.4 157.4h0M438.4 161.1h0M470.7 136.7h0M444.2 170.2h0M466.3 151.6h0M473 144.6h0M429.6 171.2h0M451 166.1h0M465.8 152.9h0M454.7 163.1h0M469.1 134.7h0M454.4 163h0M421.7 184.9h0M439.1 175.5h0M433.7 166.9h0M467.2 150.8h0M456.4 162.4h0M468.1 138.5h0M434.6 165.8h0M452.5 149.5h0M447.7 152.6h0M454.8 147.2h0M427 180.5h0M437.9 163.2h0"/>
<path stroke="#ff6100" d="M438.8 161.6h0M452.5 149.9h0M459.6 161h0M473.9 142.4h0M459.1 159.6h0M455.1 162.2h0M479 131.9h0M464.4 140.8h0M417.1 183.7h0M467.4 149.4h0M433.2 170.3h0M428.6 170.9h0M453.2 148.7h0M453.2 162.7h0M455.6 145.1h0M434.8 164.5h0M464.9 141.4h0M474.8 144.6h0M424.2 181.7h0M440.2 158.4h0M452.7 149.4h0"/>
<path stroke="#ff5700" d="M453.1 163.4h0M443.2 169.9h0M456 146.8h0M466.8 140.1h0M467.3 151.3h0M421.5 184.8h0M462.8 155.1h0M460.5 157.8h0M471.7 142.4h0M444.3 155.9h0M429 184.7h0M449.3 152.8h0M460.1 159.3h0M448.9 166.1h0M424.5 180.6h0M430.9 177.7h0M471.2 144.8h0M440.4 173.3h0M452.6 164.8h0M454.5 147.8h0M444.4 157.2h0M454.6 162.7h0M467.5 136.7h0M470.3 145.4h0M461.7 143.7h0M463.2 142h0M474.7 139.3h0M443.5 169.9h0"/>
<path stroke="#ff4d00" d="M438.5 160.3h0M438.1 173.6h0M437.3 178.6h0M454.6 147.2h0M418 187.2h0M456.1 162.7h0M442.5 157.3h0M429.5 173.4h0M430.2 171.6h0M448.4 153.4h0M461.1 156.7h0M429 182h0M460.3 155.6h0M448.7 167.8h0M459.7 156.1h0M470.8 138.9h0M442.1 162.6h0M450.9 164.2h0"/>
<path stroke="#ff4300" d="M444.8 152.8h0M468.2 140.7h0M429.3 170.6h0M430 177.7h0M455 161.8h0M441.1 163.4h0M444.9 157.5h0M450.3 165.5h0M427.3 178.2h0M437 165.1h0M442.2 171h0M442.9 158.9h0M426 175.2h0M440 173.4h0M457.3 160.8h0M472.3 141.7h0M473.8 145.6h0M444.5 157.4h0M465.2 141.6h0M462.4 143.8h0M458 147.1h0M424.4 172.9h0M471.6 145.2h0M447 170.4h0M436.6 164.5h0M473.2 145.3h0M445.8 155.6h0"/>
<path stroke="#ff3a00" d="M439.3 171.8h0M437 159.2h0M443 160.5h0M436.5 175h0M458.9 158.6h0M443 161.4h0M425.6 175.8h0M465.9 153.2h0M445.7 155.3h0M459 157.1h0M459.4 145.6h0M470.6 140.8h0M448.5 168.2h0M450.1 151.5h0M433.5 172.3h0M433.3 171.7h0M467.6 149.6h0M446.3 167.5h0M451.1 164.4h0M466 141.8h0M443.5 162.4h0M452.8 151.1h0"/>
<path stroke="#ff3000" d="M447.1 155.4h0M443.7 168.5h0M466.4 152.5h0M440.1 163.8h0M464.4 154.4h0M435.1 166.3h0M444.4 167.9h0M437.5 175.5h0M437.3 173.2h0M448.2 155h0M463.6 150.7h0M455.9 159.8h0M437.4 163.7h0M456.2 161.5h0M438.3 163.3h0M468.7 139.8h0M447.4 154.8h0M444.2 166.5h0M435.8 165.4h0M454.2 148.6h0M425.6 180.1h0M461.5 143.5h0M441.7 157.5h0M441.3 162.6h0M469.2 148.5h0M450.1 154.2h0M444 160.3h0M466.6 149.3h0"/>
<path stroke="#ff2600" d="M434.6 173.6h0M465.4 142h0M443.5 167.9h0M466.5 143.1h0M435.6 171.9h0M436.6 175.3h0M434.4 177.8h0M473.2 136h0M448.6 164.9h0M447.6 155.9h0M433.7 176.1h0M463.7 150.3h0M446.8 165.7h0M464.2 144h0M443.2 169.8h0M459.7 144.5h0M450.6 154.1h0M446.6 156.1h0"/>
<path stroke="#ff1c00" d="M428.8 172.3h0M435.3 173.9h0M466.8 141.7h0M453.7 161.5h0M448.1 165.3h0M434.1 167h0M453.6 162.3h0M445.3 159h0M436.5 175.9h0M450.9 150.9h0M451.6 152.4h0M453.2 150h0M432.9 177.4h0M440.9 168.6h0M433.4 168.1h0M455.6 148.5h0M463 154.9h0M467 149.4h0M463.5 149.6h0M444.9 156.8h0M443.6 160.8h0M444.2 159.6h0M450.5 162.8h0M460.6 146.2h0M437.8 164.1h0"/>
<path stroke="#fe1200" d="M450.8 153.7h0M438.1 170.8h0M435.7 165.1h0M446.2 154.7h0M444.8 170.4h0M433.8 170h0M455.7 159.6h0M460.4 152.8h0M448.5 166.3h0M454 162.2h0M473.7 137.3h0M442.5 168.3h0M436 167.5h0M456.4 158.8h0M447.7 155.5h0M436.2 170.7h0M438.9 171.1h0"/>
<path stroke="#f20800" d="M443.9 164.9h0M443.1 162.8h0M449.9 154.3h0M459 158.2h0M451.8 152.1h0M462.4 145.5h0M446 165.9h0M454.1 151h0M462 152.1h0M457.1 147.7h0M440 170h0M438.6 163.6h0M454.4 149.2h0M464.3 143.6h0M445 157.3h0"/>
<path stroke="#e60000" d="M446.5 160.3h0M440.5 167.1h0M455.9 157.8h0M468.8 146.4h0M453.4 150.8h0M446.7 160.1h0M438.9 167.5h0M442.8 162.2h0M452.6 162.1h0M453.7 150h0"/>
<path stroke="#da0000" d="M464.2 145.1h0M450.6 162.9h0M450.3 161.5h0M455.3 159.9h0M466.5 142.3h0M456.8 149.6h0M448.2 162.7h0M453.3 160.7h0M459.8 145.7h0M451.6 153.5h0M451.7 161.5h0M461.9 152.2h0"/>
<path stroke="#ce0000" d="M446.7 156h0M441.8 167.7h0M456 152h0M447.9 162.2h0M446.8 157.4h0M461.2 145.1h0"/>
<path stroke="#c20000" d="M440.3 164.6h0M459.4 147.5h0M444.7 161.7h0M451.3 157.3h0M465.8 146.9h0M453.2 162.7h0M459.5 157h0M457.1 157.9h0M447.7 156.8h0M443.6 165.4h0"/>
<path stroke="#b60000" d="M454.1 160.9h0M449.9 162.6h0M470.2 144h0M459.1 154.3h0M460.9 148.8h0M447.6 156h0M456.7 151.5h0M455.1 157.1h0M450.8 158.1h0M455.8 152.3h0"/>
<path stroke="#aa0000" d="M447 162.9h0M453.1 151.9h0M446.1 158.1h0M444.9 164.4h0M458.7 145h0M456.6 154.6h0M447.7 162h0M464.6 149.4h0M445.5 163.9h0"/>
<path stroke="#9e0000" d="M446.2 155.9h0M453.5 159.2h0M455.3 155.7h0"/>
<path stroke="#920000" d="M459 152.9h0M460.6 145.2h0M446.5 163.4h0M461.2 148.6h0"/>
<path stroke="#860000" d="M446.1 160h0M452.7 155.6h0M455.7 151.6h0M452.9 156.6h0"/></g>
<path d="M60 511.6L640 -9.3" stroke="#000" stroke-width="3.6" fill="none"/>
</g>
<path d="M77.4 4.2V531.9M635.2 4.2V531.9M76.5 531.2H636.1" stroke="#111" stroke-width="1.8" fill="none"/><path d="M76.5 4.6H636.1" stroke="#111" stroke-width="1.15"/>
<path d="M102.2 531.0V521.5M102.2 4.5V13.8" stroke="#000" stroke-width="1.8"/>
<text x="102.2" y="554.5" class="tl" text-anchor="middle">0</text>
<path d="M164.2 531.0V521.5M164.2 4.5V13.8" stroke="#000" stroke-width="1.8"/>
<text x="164.2" y="554.5" class="tl" text-anchor="middle">50</text>
<path d="M226.2 531.0V521.5M226.2 4.5V13.8" stroke="#000" stroke-width="1.8"/>
<text x="226.2" y="554.5" class="tl" text-anchor="middle">100</text>
<path d="M288.3 531.0V521.5M288.3 4.5V13.8" stroke="#000" stroke-width="1.8"/>
<text x="288.3" y="554.5" class="tl" text-anchor="middle">150</text>
<path d="M350.3 531.0V521.5M350.3 4.5V13.8" stroke="#000" stroke-width="1.8"/>
<text x="350.3" y="554.5" class="tl" text-anchor="middle">200</text>
<path d="M412.3 531.0V521.5M412.3 4.5V13.8" stroke="#000" stroke-width="1.8"/>
<text x="412.3" y="554.5" class="tl" text-anchor="middle">250</text>
<path d="M474.3 531.0V521.5M474.3 4.5V13.8" stroke="#000" stroke-width="1.8"/>
<text x="474.3" y="554.5" class="tl" text-anchor="middle">300</text>
<path d="M536.4 531.0V521.5M536.4 4.5V13.8" stroke="#000" stroke-width="1.8"/>
<text x="536.4" y="554.5" class="tl" text-anchor="middle">350</text>
<path d="M598.4 531.0V521.5M598.4 4.5V13.8" stroke="#000" stroke-width="1.8"/>
<text x="598.4" y="554.5" class="tl" text-anchor="middle">400</text>
<path d="M77.4 504.9H86.9M635.3 504.9H625.8" stroke="#000" stroke-width="1.8"/>
<text x="68.8" y="512.8" class="tl" text-anchor="end">−50</text>
<path d="M77.4 438.9H86.9M635.3 438.9H625.8" stroke="#000" stroke-width="1.8"/>
<text x="68.8" y="446.8" class="tl" text-anchor="end">0</text>
<path d="M77.4 372.9H86.9M635.3 372.9H625.8" stroke="#000" stroke-width="1.8"/>
<text x="68.8" y="380.8" class="tl" text-anchor="end">50</text>
<path d="M77.4 307.0H86.9M635.3 307.0H625.8" stroke="#000" stroke-width="1.8"/>
<text x="68.8" y="314.9" class="tl" text-anchor="end">100</text>
<path d="M77.4 241.0H86.9M635.3 241.0H625.8" stroke="#000" stroke-width="1.8"/>
<text x="68.8" y="248.9" class="tl" text-anchor="end">150</text>
<path d="M77.4 175.0H86.9M635.3 175.0H625.8" stroke="#000" stroke-width="1.8"/>
<text x="68.8" y="182.9" class="tl" text-anchor="end">200</text>
<path d="M77.4 109.1H86.9M635.3 109.1H625.8" stroke="#000" stroke-width="1.8"/>
<text x="68.8" y="117.0" class="tl" text-anchor="end">250</text>
<path d="M77.4 43.1H86.9M635.3 43.1H625.8" stroke="#000" stroke-width="1.8"/>
<text x="68.8" y="51.0" class="tl" text-anchor="end">300</text>
<path d="M696.8 530.8H704.8" stroke="#000" stroke-width="1.8"/>
<text x="714.5" y="538.8" class="tl">0</text>
<path d="M696.8 460.6H704.8" stroke="#000" stroke-width="1.8"/>
<text x="714.5" y="468.6" class="tl">100</text>
<path d="M696.8 390.5H704.8" stroke="#000" stroke-width="1.8"/>
<text x="714.5" y="398.5" class="tl">200</text>
<path d="M696.8 320.3H704.8" stroke="#000" stroke-width="1.8"/>
<text x="714.5" y="328.3" class="tl">300</text>
<path d="M696.8 250.1H704.8" stroke="#000" stroke-width="1.8"/>
<text x="714.5" y="258.1" class="tl">400</text>
<path d="M696.8 179.9H704.8" stroke="#000" stroke-width="1.8"/>
<text x="714.5" y="187.9" class="tl">500</text>
<path d="M696.8 109.8H704.8" stroke="#000" stroke-width="1.8"/>
<text x="714.5" y="117.8" class="tl">600</text>
<path d="M696.8 39.6H704.8" stroke="#000" stroke-width="1.8"/>
<text x="714.5" y="47.6" class="tl">700</text>
<rect x="670.2" y="4.5" width="26.59999999999991" height="526.3" fill="url(#jet)" stroke="#000" stroke-width="1.6"/>
<text class="ann" x="165" y="114.5">RMSE = 15.501</text>
<text class="ann" x="165" y="134.8">bias = 0.0</text>
<text class="ann" x="165" y="155.1">R² = 0.925</text>
<text class="ann" x="165" y="175.4">Num =37054</text>
<g class="xl">
<text class="lab" x="273.3" y="586.8">In situ R</text>
<text class="sup" font-style="italic" font-size="15" x="346.8" y="590.8">g</text>
<path d="M352.7 570.8V579M350.3 576.2L352.7 579.2L355.1 576.2" stroke="#000" stroke-width="1.05" fill="none"/>
<text class="lab" x="364.2" y="586.8">(Wm</text>
<path d="M411.2 574.5H420.2" stroke="#000" stroke-width="1.1"/>
<text class="sup" font-size="15" x="425.2" y="579.2">2</text>
<text class="lab" font-weight="normal" x="434.2" y="586.8">)</text>
</g>
<g transform="translate(22.6,349.6) rotate(-90)">
<text class="lab" x="0" y="0">In situ R</text>
<text class="sup" font-style="italic" font-size="15" x="72.5" y="3.2">n</text>
<text class="lab" x="87.6" y="0">(Wm</text>
<path d="M135.5 -10.9H144" stroke="#000" stroke-width="1.1"/>
<text class="sup" font-size="15" x="149.8" y="-7.6">2</text>
<text class="lab" font-weight="normal" x="158.4" y="0">)</text>
</g>
</svg>
</body></html>
